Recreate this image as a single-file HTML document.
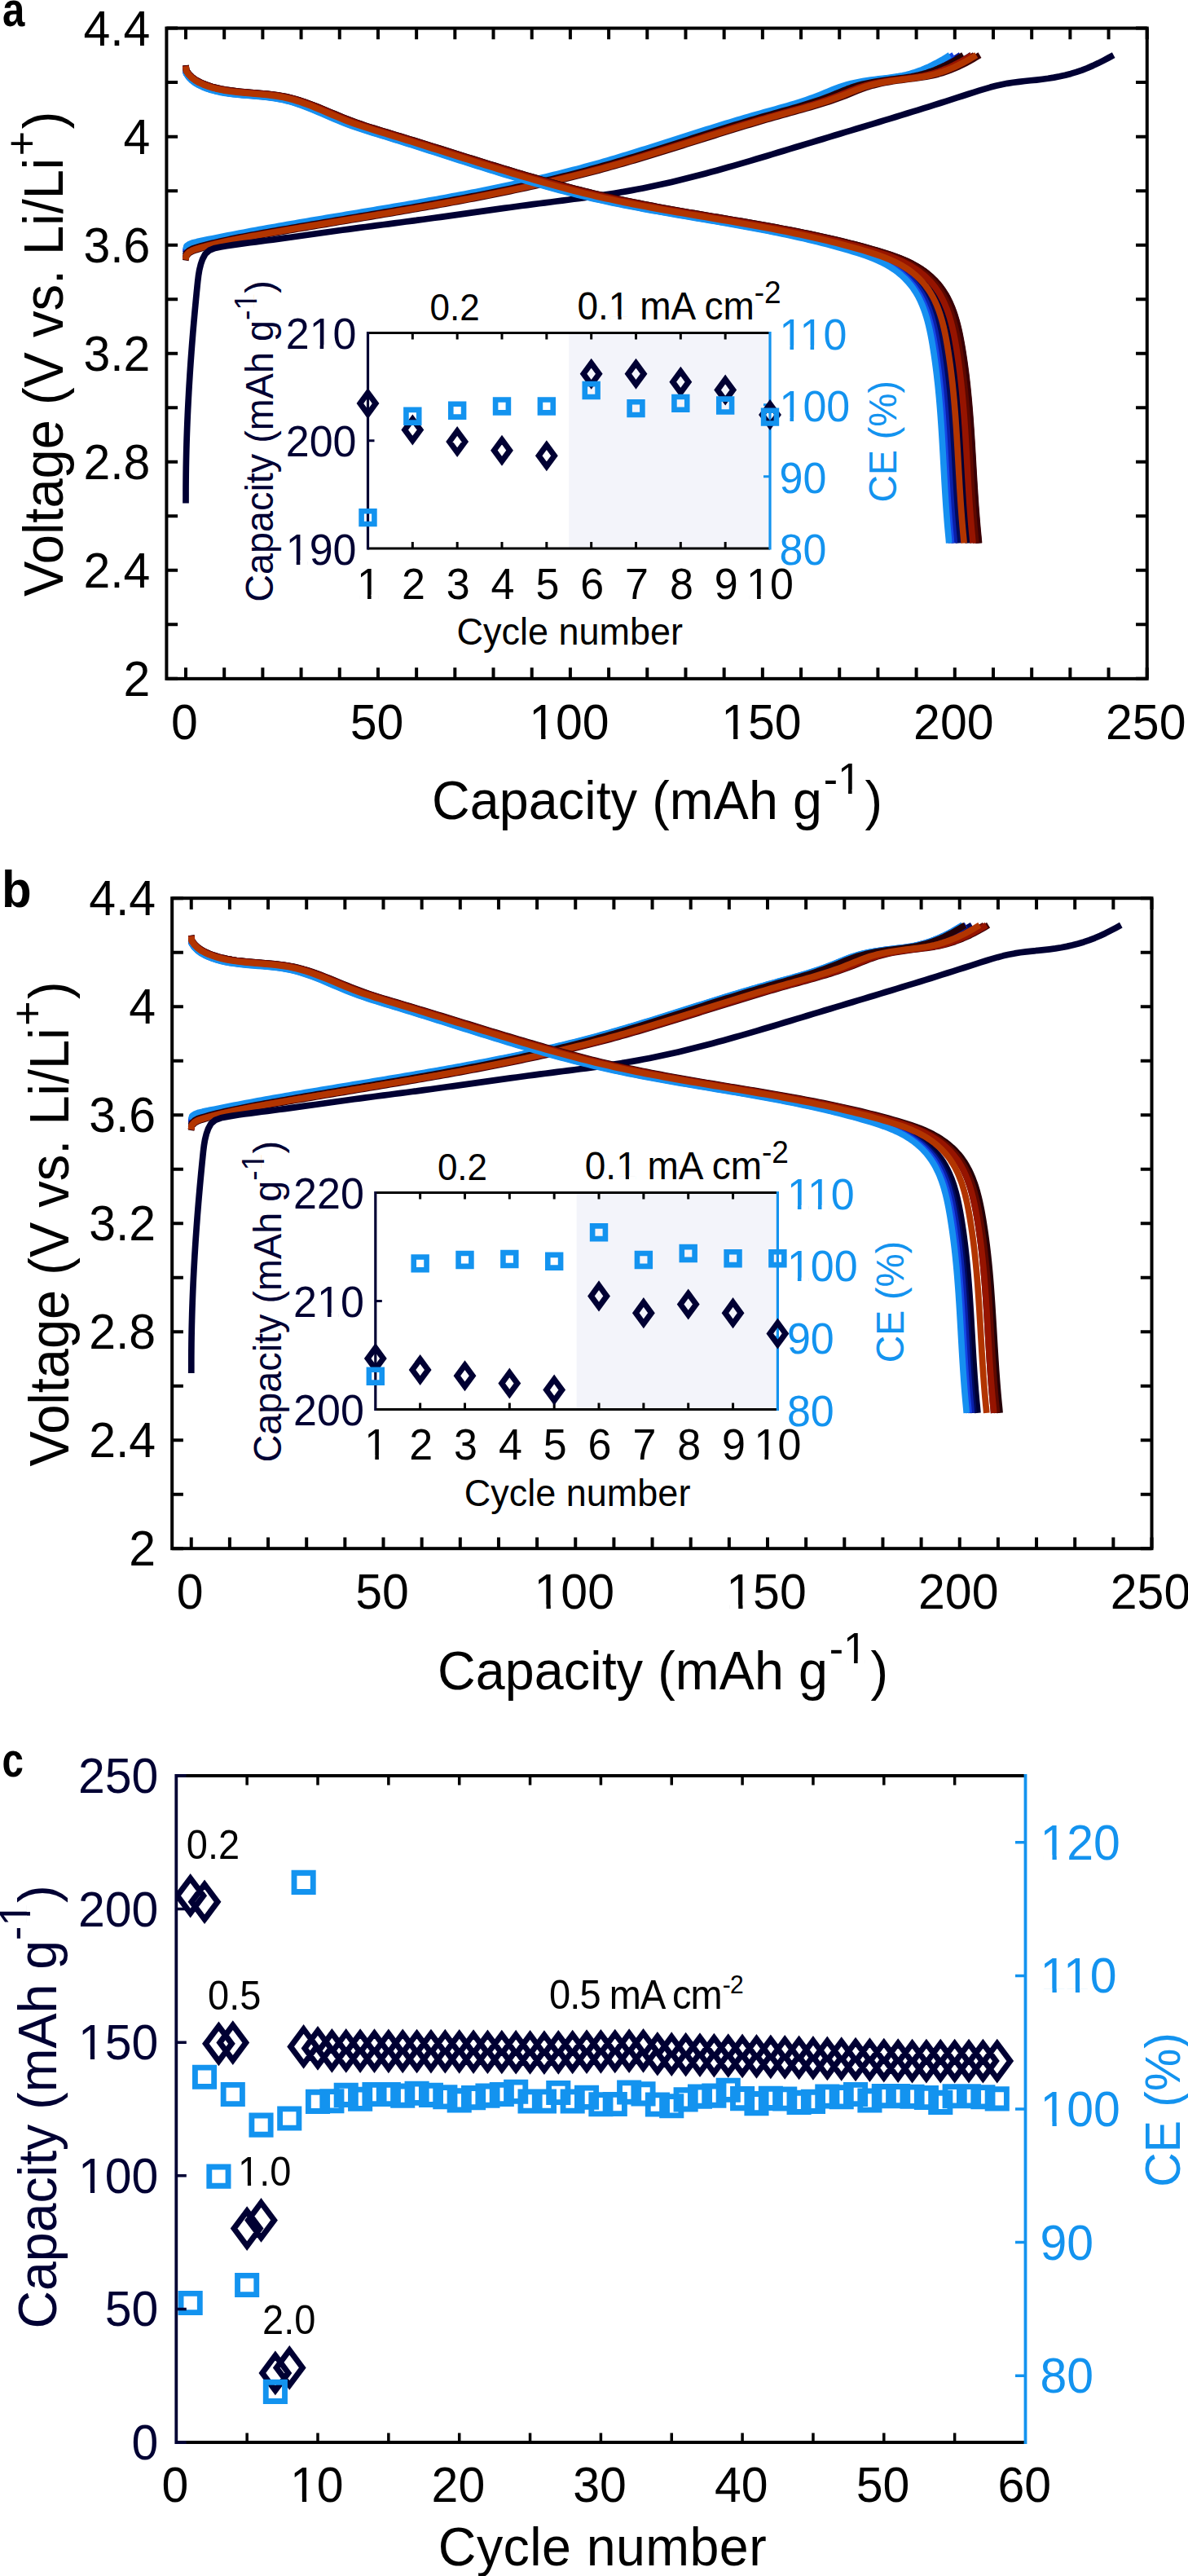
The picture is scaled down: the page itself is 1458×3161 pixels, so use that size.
<!DOCTYPE html>
<html><head><meta charset="utf-8"><style>
html,body{margin:0;padding:0;background:#fff;}
svg{display:block;}
text{font-family:"Liberation Sans", sans-serif;}
</style></head><body>
<svg width="1458" height="3161" viewBox="0 0 1458 3161" font-family='"Liberation Sans", sans-serif'>
<rect width="1458" height="3161" fill="#fff"/>
<text transform="translate(3,32) scale(0.82,1)" font-size="60" font-weight="bold">a</text>
<path d="M227.79 312.53 L229.02 307.35 L232.6 304.57 L236.9 302.72 L241.62 301.39 L246.45 300.22 L251.29 299.07 L256.15 297.95 L261.03 296.85 L265.92 295.79 L270.82 294.74 L275.73 293.72 L280.65 292.72 L285.58 291.74 L290.52 290.77 L295.47 289.82 L300.43 288.89 L305.38 287.96 L310.35 287.05 L315.31 286.15 L320.28 285.26 L325.25 284.37 L330.22 283.49 L335.2 282.62 L340.17 281.75 L345.14 280.88 L350.11 280.02 L355.09 279.17 L360.06 278.31 L365.04 277.46 L370.01 276.62 L374.99 275.78 L379.96 274.94 L384.94 274.1 L389.91 273.27 L394.89 272.44 L399.86 271.61 L404.84 270.78 L409.81 269.96 L414.79 269.13 L419.77 268.31 L424.74 267.48 L429.71 266.66 L434.69 265.84 L439.66 265.02 L444.64 264.19 L449.61 263.37 L454.58 262.54 L459.55 261.72 L464.52 260.89 L469.5 260.06 L474.46 259.23 L479.43 258.4 L484.4 257.56 L489.37 256.72 L494.34 255.88 L499.3 255.04 L504.26 254.19 L509.23 253.34 L514.19 252.48 L519.15 251.62 L524.11 250.76 L529.07 249.89 L534.02 249.01 L538.98 248.13 L543.93 247.25 L548.89 246.36 L553.84 245.46 L558.79 244.55 L563.73 243.64 L568.68 242.73 L573.62 241.8 L578.57 240.87 L583.51 239.93 L588.45 238.98 L593.38 238.03 L598.32 237.06 L603.25 236.09 L608.18 235.11 L613.11 234.12 L618.04 233.11 L622.96 232.1 L627.88 231.08 L632.8 230.05 L637.72 229.01 L642.63 227.96 L647.54 226.89 L652.45 225.82 L657.36 224.73 L662.26 223.63 L667.17 222.52 L672.06 221.4 L676.96 220.27 L681.85 219.12 L686.74 217.96 L691.63 216.78 L696.51 215.59 L701.39 214.39 L706.27 213.17 L711.15 211.94 L716.02 210.7 L720.89 209.43 L725.75 208.16 L730.61 206.87 L735.47 205.56 L740.33 204.24 L745.18 202.9 L750.03 201.54 L754.87 200.17 L759.71 198.79 L764.55 197.39 L769.39 195.98 L774.22 194.55 L779.05 193.12 L783.88 191.67 L788.7 190.22 L793.53 188.76 L798.35 187.29 L803.17 185.81 L807.99 184.32 L812.81 182.83 L817.63 181.33 L822.44 179.83 L827.26 178.32 L832.07 176.81 L836.88 175.3 L841.7 173.79 L846.51 172.27 L851.32 170.76 L856.13 169.24 L860.95 167.73 L865.76 166.22 L870.57 164.71 L875.39 163.21 L880.2 161.7 L885.02 160.21 L889.83 158.72 L894.65 157.24 L899.47 155.76 L904.29 154.29 L909.11 152.83 L913.94 151.38 L918.77 149.94 L923.59 148.51 L928.43 147.09 L933.26 145.69 L938.1 144.29 L942.93 142.91 L947.78 141.55 L952.62 140.2 L957.47 138.86 L962.32 137.54 L967.17 136.21 L972.01 134.88 L976.86 133.54 L981.69 132.18 L986.53 130.81 L991.35 129.41 L996.17 127.97 L1000.97 126.5 L1005.76 124.98 L1010.54 123.41 L1015.31 121.79 L1020.05 120.11 L1024.78 118.35 L1029.49 116.53 L1034.19 114.64 L1038.87 112.72 L1043.56 110.82 L1048.26 108.99 L1053 107.27 L1057.78 105.71 L1062.59 104.32 L1067.45 103.08 L1072.35 101.97 L1077.27 100.99 L1082.22 100.11 L1087.2 99.31 L1092.19 98.59 L1097.2 97.92 L1102.21 97.29 L1107.23 96.68 L1112.25 96.08 L1117.27 95.45 L1122.27 94.75 L1127.24 93.96 L1132.19 93.03 L1137.09 91.95 L1141.95 90.69 L1146.77 89.27 L1151.54 87.69 L1156.26 85.96 L1160.93 84.08 L1165.55 82.07 L1170.11 79.93 L1174.62 77.67 L1179.07 75.29 L1183.46 72.8 L1187.8 70.22 L1192.09 67.6" fill="none" stroke="#000a5c" stroke-width="7.7" stroke-linejoin="round"/>
<path d="M227.8 309.85 L229.04 304.79 L232.62 302.15 L236.91 300.41 L241.58 299.16 L246.36 298.04 L251.15 296.94 L255.95 295.87 L260.77 294.82 L265.59 293.79 L270.43 292.77 L275.28 291.78 L280.14 290.8 L285.01 289.84 L289.88 288.89 L294.76 287.96 L299.65 287.04 L304.54 286.13 L309.44 285.22 L314.33 284.33 L319.23 283.45 L324.14 282.57 L329.04 281.7 L333.94 280.83 L338.85 279.97 L343.75 279.11 L348.66 278.26 L353.56 277.41 L358.47 276.57 L363.37 275.73 L368.28 274.89 L373.19 274.06 L378.1 273.23 L383 272.4 L387.91 271.58 L392.82 270.75 L397.73 269.93 L402.63 269.11 L407.54 268.3 L412.45 267.48 L417.36 266.67 L422.26 265.85 L427.17 265.04 L432.08 264.23 L436.98 263.41 L441.89 262.6 L446.8 261.79 L451.7 260.97 L456.6 260.15 L461.51 259.34 L466.41 258.52 L471.31 257.7 L476.21 256.87 L481.12 256.05 L486.02 255.22 L490.91 254.39 L495.81 253.55 L500.71 252.72 L505.6 251.87 L510.5 251.03 L515.39 250.18 L520.28 249.32 L525.18 248.46 L530.06 247.6 L534.95 246.73 L539.84 245.85 L544.72 244.97 L549.61 244.09 L554.49 243.19 L559.37 242.29 L564.25 241.38 L569.13 240.47 L574 239.55 L578.87 238.62 L583.75 237.68 L588.61 236.74 L593.48 235.78 L598.35 234.82 L603.21 233.85 L608.07 232.87 L612.93 231.88 L617.79 230.88 L622.64 229.87 L627.49 228.84 L632.34 227.81 L637.19 226.77 L642.03 225.72 L646.87 224.65 L651.71 223.58 L656.55 222.49 L661.38 221.39 L666.22 220.28 L671.04 219.15 L675.87 218.01 L680.69 216.86 L685.51 215.7 L690.33 214.52 L695.14 213.33 L699.95 212.12 L704.76 210.9 L709.56 209.66 L714.36 208.41 L719.16 207.14 L723.95 205.86 L728.74 204.56 L733.53 203.25 L738.31 201.92 L743.09 200.57 L747.87 199.21 L752.64 197.84 L757.41 196.45 L762.18 195.05 L766.94 193.63 L771.71 192.21 L776.47 190.78 L781.22 189.33 L785.98 187.88 L790.73 186.41 L795.49 184.94 L800.24 183.47 L804.99 181.99 L809.74 180.5 L814.48 179 L819.23 177.51 L823.97 176.01 L828.72 174.51 L833.46 173 L838.21 171.5 L842.95 169.99 L847.7 168.49 L852.44 166.99 L857.19 165.49 L861.93 163.99 L866.68 162.49 L871.42 161 L876.17 159.52 L880.92 158.04 L885.67 156.57 L890.42 155.1 L895.17 153.64 L899.93 152.19 L904.69 150.75 L909.44 149.32 L914.2 147.9 L918.97 146.5 L923.73 145.1 L928.5 143.72 L933.27 142.35 L938.05 141 L942.83 139.66 L947.61 138.34 L952.39 137.02 L957.17 135.7 L961.95 134.39 L966.72 133.06 L971.49 131.71 L976.26 130.35 L981.01 128.96 L985.76 127.53 L990.5 126.07 L995.22 124.56 L999.93 123 L1004.63 121.39 L1009.31 119.71 L1013.97 117.97 L1018.61 116.16 L1023.23 114.28 L1027.84 112.37 L1032.46 110.48 L1037.1 108.66 L1041.77 106.95 L1046.48 105.41 L1051.23 104.03 L1056.02 102.8 L1060.85 101.71 L1065.7 100.74 L1070.59 99.87 L1075.5 99.08 L1080.42 98.37 L1085.36 97.71 L1090.31 97.1 L1095.26 96.5 L1100.22 95.9 L1105.16 95.28 L1110.09 94.59 L1115 93.81 L1119.88 92.89 L1124.72 91.81 L1129.51 90.56 L1134.26 89.15 L1138.96 87.58 L1143.61 85.86 L1148.21 83.99 L1152.76 81.99 L1157.25 79.86 L1161.69 77.61 L1166.07 75.24 L1170.39 72.77 L1174.65 70.2 L1178.88 67.6" fill="none" stroke="#0a1fa8" stroke-width="7.7" stroke-linejoin="round"/>
<path d="M227.8 308.18 L229.07 303.21 L232.69 300.71 L236.98 299.07 L241.63 297.89 L246.38 296.83 L251.14 295.79 L255.91 294.76 L260.69 293.74 L265.48 292.74 L270.28 291.76 L275.09 290.79 L279.91 289.83 L284.74 288.88 L289.57 287.95 L294.41 287.02 L299.25 286.11 L304.1 285.2 L308.95 284.31 L313.8 283.42 L318.66 282.54 L323.51 281.66 L328.37 280.79 L333.23 279.93 L338.09 279.07 L342.95 278.21 L347.81 277.36 L352.67 276.52 L357.53 275.68 L362.39 274.84 L367.26 274.01 L372.12 273.18 L376.98 272.35 L381.85 271.53 L386.71 270.71 L391.57 269.89 L396.44 269.07 L401.3 268.26 L406.16 267.45 L411.03 266.63 L415.89 265.82 L420.75 265.01 L425.62 264.2 L430.48 263.4 L435.34 262.59 L440.2 261.78 L445.07 260.97 L449.93 260.16 L454.79 259.35 L459.65 258.53 L464.51 257.72 L469.36 256.9 L474.22 256.08 L479.08 255.26 L483.93 254.44 L488.79 253.61 L493.64 252.78 L498.5 251.95 L503.35 251.12 L508.2 250.27 L513.05 249.43 L517.9 248.58 L522.75 247.73 L527.59 246.87 L532.44 246 L537.28 245.13 L542.12 244.26 L546.96 243.38 L551.8 242.49 L556.63 241.59 L561.47 240.69 L566.3 239.78 L571.13 238.87 L575.96 237.94 L580.79 237.01 L585.62 236.07 L590.44 235.12 L595.26 234.16 L600.08 233.2 L604.9 232.22 L609.71 231.24 L614.53 230.24 L619.34 229.24 L624.15 228.22 L628.95 227.2 L633.75 226.16 L638.55 225.11 L643.35 224.05 L648.15 222.98 L652.94 221.9 L657.73 220.8 L662.52 219.7 L667.3 218.58 L672.08 217.44 L676.86 216.3 L681.64 215.14 L686.41 213.96 L691.18 212.78 L695.94 211.57 L700.71 210.36 L705.47 209.13 L710.22 207.88 L714.97 206.62 L719.72 205.34 L724.47 204.05 L729.21 202.74 L733.95 201.41 L738.69 200.07 L743.42 198.72 L748.15 197.34 L752.87 195.96 L757.6 194.56 L762.32 193.16 L767.03 191.74 L771.75 190.31 L776.46 188.86 L781.17 187.42 L785.88 185.96 L790.59 184.49 L795.3 183.02 L800 181.54 L804.71 180.06 L809.41 178.57 L814.11 177.08 L818.81 175.59 L823.51 174.09 L828.21 172.59 L832.91 171.09 L837.61 169.59 L842.31 168.09 L847.01 166.59 L851.71 165.1 L856.41 163.6 L861.11 162.12 L865.82 160.63 L870.52 159.15 L875.22 157.68 L879.93 156.21 L884.64 154.75 L889.34 153.3 L894.06 151.85 L898.77 150.42 L903.48 148.99 L908.2 147.58 L912.92 146.18 L917.64 144.79 L922.36 143.42 L927.09 142.06 L931.82 140.71 L936.55 139.38 L941.29 138.06 L946.03 136.75 L950.77 135.44 L955.5 134.13 L960.23 132.8 L964.96 131.46 L969.68 130.11 L974.39 128.72 L979.09 127.3 L983.79 125.84 L988.47 124.34 L993.13 122.79 L997.78 121.18 L1002.42 119.51 L1007.03 117.77 L1011.63 115.96 L1016.2 114.08 L1020.77 112.18 L1025.35 110.3 L1029.94 108.48 L1034.56 106.78 L1039.23 105.25 L1043.94 103.87 L1048.68 102.65 L1053.47 101.57 L1058.28 100.6 L1063.12 99.74 L1067.99 98.97 L1072.87 98.26 L1077.76 97.61 L1082.67 97 L1087.58 96.4 L1092.49 95.81 L1097.39 95.19 L1102.28 94.51 L1107.14 93.73 L1111.98 92.82 L1116.77 91.74 L1121.52 90.5 L1126.22 89.09 L1130.87 87.52 L1135.48 85.8 L1140.03 83.94 L1144.54 81.94 L1148.99 79.82 L1153.38 77.57 L1157.71 75.22 L1161.99 72.75 L1166.2 70.19 L1170.38 67.6" fill="none" stroke="#1547e6" stroke-width="7.7" stroke-linejoin="round"/>
<path d="M227.8 306.5 L229.12 301.63 L232.79 299.27 L237.1 297.73 L241.75 296.63 L246.49 295.62 L251.24 294.63 L255.99 293.64 L260.76 292.67 L265.53 291.7 L270.31 290.75 L275.1 289.8 L279.9 288.86 L284.7 287.93 L289.51 287.01 L294.33 286.09 L299.15 285.18 L303.97 284.28 L308.79 283.39 L313.62 282.51 L318.45 281.63 L323.28 280.75 L328.11 279.88 L332.94 279.02 L337.78 278.17 L342.61 277.31 L347.45 276.47 L352.28 275.63 L357.12 274.79 L361.95 273.96 L366.79 273.13 L371.63 272.3 L376.46 271.48 L381.3 270.66 L386.14 269.84 L390.98 269.03 L395.82 268.21 L400.65 267.4 L405.49 266.59 L410.33 265.79 L415.17 264.98 L420.01 264.18 L424.84 263.37 L429.68 262.57 L434.52 261.76 L439.35 260.96 L444.19 260.15 L449.03 259.35 L453.86 258.54 L458.7 257.73 L463.53 256.92 L468.36 256.11 L473.2 255.3 L478.03 254.48 L482.86 253.66 L487.69 252.84 L492.52 252.02 L497.35 251.19 L502.17 250.36 L507 249.52 L511.82 248.69 L516.65 247.84 L521.47 246.99 L526.29 246.14 L531.11 245.28 L535.93 244.42 L540.74 243.55 L545.56 242.67 L550.37 241.79 L555.18 240.9 L559.99 240 L564.8 239.1 L569.61 238.19 L574.41 237.27 L579.22 236.34 L584.02 235.41 L588.82 234.47 L593.61 233.51 L598.41 232.55 L603.2 231.58 L607.99 230.6 L612.78 229.62 L617.56 228.62 L622.35 227.61 L627.13 226.59 L631.91 225.55 L636.68 224.51 L641.45 223.46 L646.23 222.39 L650.99 221.32 L655.76 220.23 L660.52 219.13 L665.28 218.01 L670.04 216.88 L674.79 215.74 L679.54 214.59 L684.29 213.42 L689.03 212.24 L693.77 211.04 L698.51 209.83 L703.24 208.6 L707.97 207.36 L712.7 206.1 L717.43 204.83 L722.15 203.54 L726.86 202.24 L731.58 200.92 L736.29 199.58 L740.99 198.23 L745.7 196.86 L750.4 195.48 L755.1 194.09 L759.79 192.69 L764.48 191.27 L769.17 189.85 L773.86 188.41 L778.55 186.97 L783.23 185.51 L787.91 184.05 L792.59 182.59 L797.27 181.11 L801.95 179.63 L806.63 178.15 L811.31 176.66 L815.98 175.17 L820.66 173.68 L825.33 172.19 L830.01 170.69 L834.68 169.2 L839.35 167.7 L844.03 166.21 L848.7 164.72 L853.38 163.23 L858.05 161.75 L862.73 160.27 L867.41 158.79 L872.09 157.32 L876.77 155.86 L881.45 154.41 L886.13 152.96 L890.82 151.52 L895.51 150.09 L900.2 148.67 L904.89 147.27 L909.58 145.87 L914.28 144.49 L918.98 143.12 L923.68 141.76 L928.39 140.42 L933.1 139.1 L937.81 137.79 L942.52 136.48 L947.23 135.18 L951.94 133.87 L956.65 132.56 L961.35 131.22 L966.05 129.87 L970.73 128.49 L975.41 127.08 L980.08 125.62 L984.73 124.13 L989.37 122.58 L994 120.98 L998.61 119.31 L1003.2 117.58 L1007.77 115.77 L1012.32 113.9 L1016.86 112 L1021.41 110.12 L1025.98 108.31 L1030.58 106.62 L1035.22 105.09 L1039.9 103.72 L1044.62 102.51 L1049.38 101.43 L1054.17 100.48 L1058.99 99.62 L1063.83 98.85 L1068.68 98.15 L1073.55 97.5 L1078.43 96.9 L1083.32 96.31 L1088.21 95.73 L1093.08 95.11 L1097.95 94.43 L1102.78 93.65 L1107.59 92.75 L1112.36 91.68 L1117.08 90.43 L1121.76 89.03 L1126.38 87.46 L1130.96 85.75 L1135.49 83.89 L1139.97 81.9 L1144.39 79.79 L1148.76 77.55 L1153.07 75.2 L1157.32 72.74 L1161.51 70.18 L1165.67 67.6" fill="none" stroke="#1690f0" stroke-width="7.7" stroke-linejoin="round"/>
<path d="M227.8 315.9 L228.77 310.53 L232.04 307.39 L236.12 305.22 L240.68 303.65 L245.41 302.31 L250.16 301.02 L254.94 299.77 L259.73 298.57 L264.55 297.41 L269.38 296.29 L274.23 295.2 L279.09 294.14 L283.97 293.12 L288.86 292.12 L293.76 291.15 L298.66 290.19 L303.58 289.26 L308.5 288.34 L313.43 287.44 L318.35 286.54 L323.28 285.66 L328.22 284.77 L333.15 283.9 L338.08 283.03 L343.01 282.16 L347.95 281.3 L352.88 280.44 L357.81 279.58 L362.75 278.73 L367.68 277.88 L372.61 277.04 L377.55 276.2 L382.48 275.36 L387.42 274.52 L392.35 273.68 L397.28 272.85 L402.22 272.02 L407.15 271.19 L412.09 270.36 L417.02 269.53 L421.95 268.7 L426.88 267.87 L431.82 267.04 L436.75 266.21 L441.68 265.38 L446.61 264.55 L451.54 263.72 L456.47 262.89 L461.39 262.05 L466.32 261.21 L471.25 260.38 L476.17 259.54 L481.1 258.69 L486.02 257.85 L490.95 257 L495.87 256.14 L500.79 255.29 L505.71 254.43 L510.63 253.56 L515.54 252.69 L520.46 251.82 L525.37 250.94 L530.28 250.06 L535.2 249.17 L540.11 248.28 L545.01 247.38 L549.92 246.47 L554.83 245.56 L559.73 244.64 L564.63 243.71 L569.53 242.78 L574.43 241.83 L579.32 240.89 L584.22 239.93 L589.11 238.96 L594 237.99 L598.89 237.01 L603.77 236.02 L608.66 235.02 L613.54 234.01 L618.42 232.99 L623.3 231.96 L628.17 230.92 L633.04 229.87 L637.91 228.8 L642.78 227.73 L647.64 226.65 L652.5 225.55 L657.36 224.45 L662.22 223.33 L667.07 222.2 L671.92 221.05 L676.77 219.9 L681.62 218.73 L686.46 217.54 L691.3 216.35 L696.13 215.14 L700.97 213.91 L705.8 212.67 L710.62 211.42 L715.45 210.15 L720.27 208.87 L725.08 207.57 L729.9 206.26 L734.71 204.93 L739.51 203.58 L744.32 202.22 L749.12 200.84 L753.91 199.45 L758.71 198.05 L763.5 196.63 L768.29 195.2 L773.07 193.76 L777.86 192.31 L782.64 190.85 L787.42 189.38 L792.19 187.91 L796.97 186.42 L801.75 184.93 L806.52 183.43 L811.29 181.93 L816.06 180.42 L820.83 178.91 L825.6 177.39 L830.37 175.87 L835.14 174.35 L839.9 172.83 L844.67 171.31 L849.44 169.79 L854.2 168.27 L858.97 166.76 L863.74 165.24 L868.51 163.73 L873.28 162.22 L878.05 160.72 L882.82 159.22 L887.59 157.73 L892.37 156.25 L897.14 154.77 L901.92 153.3 L906.7 151.84 L911.48 150.39 L916.26 148.96 L921.05 147.53 L925.83 146.11 L930.62 144.71 L935.42 143.32 L940.21 141.95 L945.01 140.59 L949.81 139.24 L954.61 137.9 L959.42 136.57 L964.22 135.23 L969.01 133.88 L973.81 132.51 L978.59 131.13 L983.37 129.71 L988.14 128.27 L992.9 126.79 L997.64 125.26 L1002.38 123.69 L1007.1 122.06 L1011.8 120.37 L1016.48 118.62 L1021.14 116.79 L1025.79 114.9 L1030.43 112.97 L1035.07 111.07 L1039.73 109.23 L1044.42 107.5 L1049.15 105.93 L1053.92 104.53 L1058.73 103.28 L1063.58 102.17 L1068.46 101.17 L1073.37 100.28 L1078.3 99.47 L1083.25 98.74 L1088.21 98.06 L1093.18 97.42 L1098.16 96.8 L1103.14 96.19 L1108.11 95.54 L1113.07 94.84 L1118 94.04 L1122.9 93.11 L1127.76 92.02 L1132.58 90.75 L1137.35 89.32 L1142.07 87.74 L1146.74 86 L1151.37 84.12 L1155.94 82.1 L1160.45 79.95 L1164.91 77.68 L1169.31 75.3 L1173.65 72.81 L1177.94 70.22 L1182.18 67.6" fill="none" stroke="#240008" stroke-width="7.7" stroke-linejoin="round"/>
<path d="M227.79 319.58 L228.75 314.06 L232 310.71 L236.09 308.38 L240.71 306.7 L245.52 305.27 L250.36 303.9 L255.22 302.59 L260.11 301.33 L265.02 300.12 L269.94 298.95 L274.89 297.82 L279.85 296.73 L284.83 295.68 L289.81 294.65 L294.81 293.66 L299.82 292.68 L304.84 291.73 L309.87 290.8 L314.9 289.88 L319.93 288.98 L324.96 288.08 L330 287.19 L335.04 286.3 L340.07 285.42 L345.11 284.54 L350.15 283.66 L355.18 282.79 L360.22 281.93 L365.26 281.06 L370.3 280.2 L375.34 279.35 L380.38 278.49 L385.41 277.64 L390.45 276.79 L395.49 275.94 L400.53 275.1 L405.57 274.25 L410.6 273.41 L415.64 272.57 L420.68 271.72 L425.71 270.88 L430.75 270.04 L435.79 269.2 L440.82 268.36 L445.86 267.52 L450.89 266.67 L455.92 265.83 L460.96 264.98 L465.99 264.13 L471.02 263.29 L476.05 262.43 L481.08 261.58 L486.11 260.72 L491.13 259.86 L496.16 259 L501.19 258.14 L506.21 257.27 L511.23 256.39 L516.26 255.51 L521.28 254.63 L526.3 253.75 L531.31 252.85 L536.33 251.96 L541.34 251.05 L546.36 250.15 L551.37 249.23 L556.38 248.31 L561.39 247.39 L566.4 246.45 L571.4 245.51 L576.4 244.57 L581.41 243.61 L586.41 242.65 L591.4 241.68 L596.4 240.7 L601.39 239.71 L606.38 238.72 L611.37 237.71 L616.36 236.7 L621.35 235.67 L626.33 234.64 L631.31 233.6 L636.29 232.54 L641.26 231.48 L646.24 230.4 L651.21 229.32 L656.18 228.22 L661.14 227.11 L666.11 225.99 L671.07 224.86 L676.02 223.72 L680.98 222.56 L685.93 221.39 L690.88 220.21 L695.83 219.01 L700.77 217.8 L705.71 216.58 L710.65 215.34 L715.58 214.09 L720.51 212.82 L725.44 211.54 L730.37 210.24 L735.29 208.93 L740.21 207.6 L745.12 206.26 L750.03 204.9 L754.94 203.53 L759.84 202.14 L764.75 200.74 L769.64 199.32 L774.54 197.89 L779.43 196.45 L784.33 194.99 L789.21 193.53 L794.1 192.06 L798.99 190.58 L803.87 189.09 L808.75 187.59 L813.63 186.08 L818.51 184.57 L823.38 183.05 L828.26 181.53 L833.13 180.01 L838.01 178.48 L842.88 176.95 L847.75 175.41 L852.63 173.88 L857.5 172.34 L862.37 170.81 L867.24 169.28 L872.12 167.75 L876.99 166.22 L881.86 164.69 L886.74 163.17 L891.61 161.65 L896.49 160.14 L901.37 158.64 L906.25 157.14 L911.13 155.65 L916.01 154.16 L920.89 152.69 L925.78 151.23 L930.66 149.77 L935.55 148.33 L940.45 146.9 L945.34 145.49 L950.24 144.08 L955.14 142.69 L960.04 141.32 L964.95 139.96 L969.85 138.6 L974.76 137.25 L979.66 135.89 L984.56 134.53 L989.46 133.15 L994.35 131.75 L999.23 130.33 L1004.11 128.87 L1008.97 127.37 L1013.82 125.84 L1018.66 124.25 L1023.49 122.61 L1028.29 120.91 L1033.08 119.14 L1037.85 117.3 L1042.61 115.39 L1047.35 113.45 L1052.1 111.53 L1056.86 109.67 L1061.66 107.93 L1066.49 106.34 L1071.37 104.92 L1076.29 103.65 L1081.24 102.52 L1086.22 101.51 L1091.23 100.6 L1096.26 99.78 L1101.31 99.03 L1106.38 98.33 L1111.45 97.68 L1116.53 97.05 L1121.62 96.42 L1126.69 95.77 L1131.75 95.05 L1136.79 94.24 L1141.79 93.3 L1146.76 92.2 L1151.68 90.93 L1156.56 89.49 L1161.39 87.89 L1166.17 86.14 L1170.9 84.25 L1175.58 82.21 L1180.2 80.05 L1184.77 77.77 L1189.28 75.36 L1193.73 72.85 L1198.12 70.24 L1202.47 67.6" fill="none" stroke="#3a0006" stroke-width="7.7" stroke-linejoin="round"/>
<path d="M227.79 318.25 L228.72 312.75 L231.93 309.41 L235.99 307.09 L240.57 305.4 L245.35 303.98 L250.15 302.62 L254.98 301.31 L259.84 300.06 L264.71 298.85 L269.6 297.69 L274.51 296.57 L279.44 295.48 L284.38 294.43 L289.34 293.41 L294.31 292.43 L299.28 291.46 L304.27 290.52 L309.26 289.59 L314.26 288.68 L319.26 287.78 L324.26 286.89 L329.26 286 L334.26 285.12 L339.27 284.25 L344.27 283.38 L349.28 282.51 L354.28 281.64 L359.29 280.78 L364.29 279.93 L369.3 279.07 L374.3 278.22 L379.31 277.38 L384.31 276.53 L389.32 275.69 L394.32 274.85 L399.33 274.01 L404.33 273.17 L409.34 272.33 L414.34 271.5 L419.35 270.66 L424.35 269.83 L429.35 268.99 L434.36 268.16 L439.36 267.32 L444.36 266.49 L449.36 265.65 L454.36 264.81 L459.36 263.97 L464.36 263.13 L469.36 262.29 L474.36 261.44 L479.35 260.6 L484.35 259.75 L489.34 258.89 L494.34 258.04 L499.33 257.18 L504.32 256.32 L509.31 255.45 L514.3 254.58 L519.28 253.7 L524.27 252.82 L529.26 251.94 L534.24 251.05 L539.22 250.15 L544.2 249.25 L549.18 248.34 L554.16 247.43 L559.13 246.51 L564.11 245.58 L569.08 244.65 L574.05 243.71 L579.02 242.76 L583.98 241.81 L588.95 240.84 L593.91 239.87 L598.87 238.89 L603.83 237.9 L608.79 236.9 L613.74 235.89 L618.69 234.88 L623.64 233.85 L628.59 232.81 L633.54 231.77 L638.48 230.71 L643.42 229.64 L648.36 228.56 L653.29 227.47 L658.23 226.37 L663.16 225.26 L668.08 224.13 L673.01 222.99 L677.93 221.84 L682.85 220.68 L687.76 219.5 L692.68 218.31 L697.59 217.11 L702.5 215.89 L707.4 214.66 L712.3 213.42 L717.2 212.16 L722.09 210.88 L726.99 209.59 L731.87 208.29 L736.76 206.97 L741.64 205.63 L746.52 204.28 L751.39 202.91 L756.26 201.53 L761.13 200.13 L766 198.72 L770.86 197.3 L775.72 195.86 L780.58 194.42 L785.44 192.96 L790.29 191.49 L795.14 190.02 L799.99 188.53 L804.84 187.04 L809.68 185.54 L814.53 184.04 L819.37 182.53 L824.22 181.01 L829.06 179.5 L833.9 177.97 L838.74 176.45 L843.58 174.92 L848.42 173.39 L853.26 171.87 L858.1 170.34 L862.94 168.81 L867.77 167.29 L872.61 165.77 L877.46 164.25 L882.3 162.73 L887.14 161.22 L891.98 159.72 L896.83 158.22 L901.67 156.73 L906.52 155.24 L911.37 153.77 L916.22 152.3 L921.07 150.84 L925.92 149.4 L930.78 147.96 L935.64 146.54 L940.5 145.13 L945.36 143.73 L950.23 142.35 L955.1 140.98 L959.97 139.62 L964.85 138.28 L969.72 136.93 L974.59 135.58 L979.46 134.23 L984.32 132.85 L989.18 131.46 L994.03 130.04 L998.87 128.59 L1003.7 127.1 L1008.52 125.57 L1013.32 123.99 L1018.12 122.36 L1022.89 120.66 L1027.65 118.9 L1032.38 117.07 L1037.1 115.16 L1041.81 113.23 L1046.53 111.32 L1051.26 109.47 L1056.02 107.73 L1060.82 106.15 L1065.66 104.74 L1070.55 103.48 L1075.47 102.35 L1080.42 101.35 L1085.39 100.44 L1090.39 99.63 L1095.41 98.89 L1100.44 98.2 L1105.48 97.55 L1110.53 96.93 L1115.58 96.31 L1120.62 95.66 L1125.65 94.95 L1130.65 94.15 L1135.63 93.21 L1140.56 92.12 L1145.45 90.85 L1150.29 89.42 L1155.09 87.82 L1159.83 86.08 L1164.53 84.19 L1169.17 82.17 L1173.76 80.01 L1178.3 77.73 L1182.77 75.34 L1187.19 72.84 L1191.55 70.23 L1195.87 67.6" fill="none" stroke="#5c0800" stroke-width="7.7" stroke-linejoin="round"/>
<path d="M227.79 318.25 L228.71 312.76 L231.9 309.42 L235.95 307.1 L240.5 305.41 L245.26 303.99 L250.05 302.63 L254.86 301.32 L259.7 300.06 L264.55 298.86 L269.43 297.69 L274.33 296.57 L279.24 295.49 L284.16 294.44 L289.1 293.42 L294.05 292.43 L299.01 291.46 L303.98 290.52 L308.96 289.59 L313.94 288.68 L318.92 287.78 L323.91 286.89 L328.89 286.01 L333.88 285.13 L338.87 284.25 L343.86 283.38 L348.84 282.51 L353.83 281.65 L358.82 280.79 L363.81 279.93 L368.8 279.08 L373.79 278.23 L378.78 277.38 L383.77 276.53 L388.76 275.69 L393.74 274.85 L398.73 274.01 L403.72 273.17 L408.71 272.34 L413.7 271.5 L418.69 270.66 L423.67 269.83 L428.66 268.99 L433.65 268.16 L438.63 267.32 L443.62 266.49 L448.6 265.65 L453.59 264.81 L458.57 263.97 L463.55 263.13 L468.53 262.29 L473.52 261.45 L478.5 260.6 L483.48 259.75 L488.45 258.89 L493.43 258.04 L498.41 257.18 L503.38 256.32 L508.35 255.45 L513.33 254.58 L518.3 253.7 L523.27 252.82 L528.24 251.94 L533.2 251.05 L538.17 250.15 L543.13 249.25 L548.1 248.34 L553.06 247.43 L558.02 246.51 L562.97 245.58 L567.93 244.65 L572.88 243.71 L577.84 242.76 L582.79 241.8 L587.73 240.84 L592.68 239.87 L597.62 238.88 L602.57 237.9 L607.51 236.9 L612.44 235.89 L617.38 234.87 L622.31 233.85 L627.24 232.81 L632.17 231.76 L637.1 230.7 L642.02 229.64 L646.95 228.56 L651.86 227.47 L656.78 226.36 L661.69 225.25 L666.6 224.12 L671.51 222.99 L676.42 221.84 L681.32 220.67 L686.22 219.5 L691.12 218.31 L696.01 217.1 L700.9 215.89 L705.79 214.65 L710.67 213.41 L715.55 212.15 L720.43 210.87 L725.31 209.59 L730.18 208.28 L735.05 206.96 L739.91 205.62 L744.77 204.27 L749.63 202.9 L754.49 201.52 L759.34 200.12 L764.19 198.71 L769.03 197.29 L773.88 195.85 L778.72 194.41 L783.56 192.95 L788.39 191.49 L793.23 190.01 L798.06 188.53 L802.89 187.03 L807.72 185.54 L812.55 184.03 L817.38 182.52 L822.2 181.01 L827.03 179.49 L831.85 177.97 L836.68 176.44 L841.5 174.91 L846.32 173.39 L851.15 171.86 L855.97 170.33 L860.79 168.81 L865.61 167.28 L870.44 165.76 L875.26 164.24 L880.08 162.73 L884.91 161.22 L889.74 159.71 L894.56 158.21 L899.39 156.72 L904.22 155.24 L909.05 153.76 L913.89 152.29 L918.72 150.84 L923.56 149.39 L928.4 147.96 L933.24 146.53 L938.09 145.12 L942.94 143.72 L947.79 142.34 L952.64 140.97 L957.49 139.62 L962.35 138.27 L967.21 136.93 L972.06 135.58 L976.91 134.22 L981.76 132.85 L986.6 131.46 L991.43 130.04 L996.26 128.59 L1001.07 127.1 L1005.87 125.57 L1010.66 123.98 L1015.43 122.35 L1020.19 120.65 L1024.93 118.89 L1029.65 117.06 L1034.35 115.16 L1039.05 113.23 L1043.74 111.31 L1048.46 109.47 L1053.2 107.73 L1057.99 106.15 L1062.81 104.74 L1067.68 103.48 L1072.58 102.35 L1077.52 101.35 L1082.48 100.44 L1087.46 99.63 L1092.46 98.89 L1097.48 98.2 L1102.5 97.55 L1107.54 96.93 L1112.57 96.31 L1117.59 95.66 L1122.61 94.95 L1127.59 94.14 L1132.55 93.21 L1137.47 92.11 L1142.34 90.84 L1147.16 89.41 L1151.94 87.82 L1156.67 86.07 L1161.35 84.19 L1165.98 82.16 L1170.55 80.01 L1175.06 77.73 L1179.52 75.33 L1183.92 72.83 L1188.26 70.23 L1192.56 67.6" fill="none" stroke="#961400" stroke-width="7.7" stroke-linejoin="round"/>
<path d="M227.79 318.58 L228.73 313.07 L231.96 309.73 L236.03 307.41 L240.62 305.72 L245.41 304.3 L250.23 302.94 L255.07 301.63 L259.93 300.37 L264.82 299.16 L269.73 298 L274.65 296.88 L279.59 295.79 L284.54 294.74 L289.51 293.72 L294.49 292.73 L299.48 291.77 L304.47 290.82 L309.48 289.89 L314.48 288.98 L319.5 288.08 L324.51 287.19 L329.52 286.3 L334.54 285.42 L339.56 284.54 L344.57 283.67 L349.59 282.8 L354.6 281.93 L359.62 281.07 L364.64 280.21 L369.65 279.36 L374.67 278.5 L379.69 277.66 L384.71 276.81 L389.72 275.96 L394.74 275.12 L399.76 274.28 L404.77 273.44 L409.79 272.6 L414.81 271.76 L419.82 270.93 L424.84 270.09 L429.85 269.25 L434.87 268.42 L439.88 267.58 L444.89 266.74 L449.91 265.91 L454.92 265.07 L459.93 264.23 L464.94 263.38 L469.95 262.54 L474.96 261.69 L479.97 260.84 L484.97 259.99 L489.98 259.14 L494.99 258.28 L499.99 257.42 L504.99 256.55 L509.99 255.69 L514.99 254.81 L519.99 253.94 L524.99 253.05 L529.99 252.17 L534.98 251.28 L539.98 250.38 L544.97 249.48 L549.96 248.57 L554.95 247.65 L559.94 246.73 L564.92 245.8 L569.91 244.87 L574.89 243.92 L579.87 242.97 L584.85 242.02 L589.82 241.05 L594.8 240.08 L599.77 239.1 L604.74 238.1 L609.71 237.1 L614.67 236.1 L619.64 235.08 L624.6 234.05 L629.56 233.01 L634.52 231.96 L639.47 230.9 L644.42 229.83 L649.37 228.75 L654.32 227.66 L659.26 226.56 L664.21 225.44 L669.15 224.31 L674.08 223.17 L679.02 222.02 L683.95 220.86 L688.87 219.68 L693.8 218.49 L698.72 217.28 L703.64 216.06 L708.56 214.83 L713.47 213.59 L718.38 212.32 L723.29 211.05 L728.19 209.76 L733.09 208.45 L737.99 207.13 L742.88 205.79 L747.77 204.44 L752.66 203.07 L757.54 201.68 L762.42 200.28 L767.3 198.87 L772.17 197.45 L777.04 196.01 L781.91 194.56 L786.78 193.1 L791.65 191.64 L796.51 190.16 L801.37 188.67 L806.23 187.18 L811.09 185.68 L815.95 184.17 L820.8 182.66 L825.66 181.14 L830.51 179.62 L835.36 178.1 L840.22 176.57 L845.07 175.05 L849.92 173.52 L854.77 171.99 L859.62 170.46 L864.47 168.93 L869.32 167.4 L874.18 165.88 L879.03 164.36 L883.88 162.84 L888.74 161.33 L893.59 159.82 L898.45 158.32 L903.3 156.83 L908.16 155.35 L913.02 153.87 L917.89 152.4 L922.75 150.94 L927.62 149.49 L932.48 148.06 L937.35 146.63 L942.23 145.22 L947.1 143.82 L951.98 142.43 L956.86 141.06 L961.75 139.71 L966.63 138.36 L971.52 137.01 L976.4 135.66 L981.28 134.3 L986.16 132.93 L991.03 131.54 L995.89 130.11 L1000.74 128.66 L1005.58 127.17 L1010.41 125.64 L1015.23 124.06 L1020.03 122.42 L1024.82 120.72 L1029.59 118.96 L1034.34 117.12 L1039.07 115.22 L1043.79 113.29 L1048.52 111.37 L1053.26 109.52 L1058.03 107.78 L1062.85 106.2 L1067.7 104.79 L1072.6 103.52 L1077.53 102.39 L1082.49 101.39 L1087.48 100.48 L1092.49 99.67 L1097.52 98.92 L1102.56 98.23 L1107.62 97.59 L1112.68 96.96 L1117.74 96.34 L1122.79 95.69 L1127.83 94.98 L1132.84 94.17 L1137.83 93.24 L1142.77 92.14 L1147.67 90.87 L1152.53 89.44 L1157.34 87.84 L1162.1 86.1 L1166.8 84.21 L1171.46 82.18 L1176.06 80.02 L1180.61 77.74 L1185.1 75.35 L1189.52 72.84 L1193.89 70.24 L1198.23 67.6" fill="none" stroke="#b23500" stroke-width="7.7" stroke-linejoin="round"/>
<path d="M228 617.5 L228.03 610.34 L228.03 603.15 L228.06 595.97 L228.12 588.8 L228.2 581.62 L228.3 574.45 L228.43 567.29 L228.58 560.12 L228.75 552.96 L228.95 545.81 L229.16 538.65 L229.41 531.5 L229.67 524.35 L229.95 517.2 L230.26 510.05 L230.59 502.91 L230.94 495.76 L231.31 488.62 L231.7 481.47 L232.11 474.33 L232.54 467.19 L232.99 460.05 L233.45 452.9 L233.94 445.76 L234.45 438.62 L234.98 431.48 L235.52 424.33 L236.08 417.19 L236.66 410.04 L237.26 402.89 L237.88 395.74 L238.51 388.59 L239.16 381.43 L239.83 374.28 L240.51 367.12 L241.21 359.95 L241.92 352.79 L242.66 345.62 L243.52 338.49 L244.68 331.44 L246.33 324.54 L248.65 317.85 L251.93 311.59 L257.1 307.03 L263.84 304.45 L271.1 302.96 L278.36 301.74 L285.54 300.62 L292.66 299.59 L299.73 298.63 L306.77 297.71 L313.8 296.82 L320.82 295.92 L327.86 295.01 L334.91 294.08 L341.97 293.13 L349.04 292.17 L356.13 291.2 L363.22 290.22 L370.32 289.23 L377.42 288.23 L384.53 287.23 L391.65 286.24 L398.76 285.24 L405.88 284.25 L413 283.27 L420.11 282.29 L427.23 281.33 L434.34 280.38 L441.45 279.44 L448.55 278.51 L455.65 277.58 L462.75 276.66 L469.85 275.74 L476.95 274.82 L484.04 273.9 L491.14 272.98 L498.23 272.05 L505.32 271.12 L512.41 270.18 L519.51 269.24 L526.6 268.28 L533.69 267.31 L540.78 266.33 L547.87 265.35 L554.96 264.36 L562.05 263.37 L569.15 262.38 L576.24 261.38 L583.34 260.38 L590.43 259.38 L597.53 258.39 L604.63 257.4 L611.73 256.41 L618.83 255.43 L625.94 254.46 L633.04 253.5 L640.15 252.54 L647.26 251.6 L654.38 250.67 L661.5 249.76 L668.61 248.85 L675.73 247.95 L682.85 247.04 L689.97 246.14 L697.09 245.22 L704.2 244.3 L711.31 243.36 L718.42 242.4 L725.52 241.42 L732.62 240.41 L739.71 239.38 L746.8 238.31 L753.87 237.2 L760.94 236.05 L768 234.85 L775.04 233.61 L782.08 232.31 L789.11 230.95 L796.12 229.54 L803.12 228.08 L810.12 226.57 L817.1 225.01 L824.07 223.41 L831.03 221.76 L837.99 220.08 L844.94 218.35 L851.87 216.58 L858.8 214.78 L865.73 212.95 L872.64 211.09 L879.55 209.19 L886.46 207.27 L893.36 205.33 L900.25 203.36 L907.14 201.37 L914.02 199.36 L920.9 197.34 L927.78 195.3 L934.65 193.25 L941.52 191.19 L948.38 189.12 L955.25 187.05 L962.11 184.97 L968.97 182.88 L975.83 180.8 L982.69 178.72 L989.55 176.65 L996.41 174.57 L1003.27 172.5 L1010.13 170.44 L1016.99 168.37 L1023.84 166.31 L1030.7 164.24 L1037.56 162.18 L1044.41 160.11 L1051.26 158.05 L1058.12 155.98 L1064.97 153.91 L1071.82 151.84 L1078.67 149.76 L1085.52 147.68 L1092.37 145.59 L1099.22 143.5 L1106.06 141.4 L1112.9 139.3 L1119.75 137.18 L1126.59 135.06 L1133.43 132.94 L1140.26 130.8 L1147.1 128.65 L1153.93 126.49 L1160.76 124.33 L1167.59 122.15 L1174.42 119.95 L1181.24 117.75 L1188.07 115.53 L1194.89 113.32 L1201.73 111.15 L1208.58 109.07 L1215.46 107.1 L1222.38 105.3 L1229.34 103.7 L1236.35 102.34 L1243.42 101.23 L1250.53 100.31 L1257.68 99.52 L1264.83 98.79 L1271.99 98.05 L1279.14 97.24 L1286.25 96.29 L1293.33 95.15 L1300.36 93.8 L1307.34 92.22 L1314.25 90.41 L1321.1 88.36 L1327.86 86.05 L1334.55 83.48 L1341.14 80.64 L1347.65 77.57 L1354.08 74.33 L1360.42 70.98 L1366.69 67.6" fill="none" stroke="#000033" stroke-width="7.7" stroke-linejoin="round"/>
<path d="M228 82.5 L228.62 88.54 L231.78 93.06 L235.58 96.85 L239.9 100.03 L244.61 102.7 L249.57 104.97 L254.68 106.91 L259.92 108.58 L265.26 110.01 L270.71 111.21 L276.24 112.22 L281.84 113.07 L287.5 113.79 L293.22 114.4 L298.98 114.93 L304.76 115.42 L310.56 115.88 L316.37 116.36 L322.17 116.86 L327.95 117.44 L333.7 118.11 L339.41 118.89 L345.07 119.83 L350.66 120.95 L356.18 122.26 L361.64 123.75 L367.03 125.41 L372.38 127.2 L377.68 129.11 L382.95 131.12 L388.19 133.22 L393.4 135.37 L398.61 137.56 L403.8 139.77 L409 141.99 L414.21 144.18 L419.43 146.33 L424.68 148.42 L429.95 150.44 L435.26 152.37 L440.6 154.23 L445.96 156.02 L451.35 157.77 L456.75 159.48 L462.16 161.15 L467.58 162.8 L473.01 164.45 L478.44 166.09 L483.87 167.74 L489.3 169.4 L494.72 171.06 L500.15 172.74 L505.57 174.42 L511 176.11 L516.42 177.8 L521.84 179.5 L527.26 181.2 L532.68 182.91 L538.1 184.62 L543.52 186.33 L548.94 188.04 L554.36 189.75 L559.78 191.46 L565.21 193.17 L570.63 194.87 L576.05 196.58 L581.47 198.28 L586.9 199.97 L592.32 201.66 L597.75 203.34 L603.18 205.02 L608.61 206.69 L614.04 208.35 L619.48 210.01 L624.91 211.65 L630.35 213.28 L635.79 214.9 L641.23 216.51 L646.68 218.11 L652.13 219.69 L657.58 221.26 L663.04 222.82 L668.49 224.35 L673.95 225.87 L679.42 227.38 L684.89 228.86 L690.36 230.33 L695.84 231.78 L701.32 233.21 L706.8 234.61 L712.29 236 L717.79 237.36 L723.28 238.69 L728.79 240.01 L734.3 241.3 L739.81 242.56 L745.33 243.8 L750.85 245.01 L756.38 246.2 L761.92 247.36 L767.46 248.5 L773 249.62 L778.55 250.72 L784.1 251.81 L789.65 252.87 L795.21 253.92 L800.77 254.95 L806.34 255.97 L811.9 256.98 L817.48 257.97 L823.05 258.95 L828.62 259.93 L834.2 260.89 L839.78 261.85 L845.37 262.8 L850.95 263.75 L856.54 264.69 L862.12 265.63 L867.71 266.56 L873.3 267.5 L878.89 268.44 L884.48 269.38 L890.07 270.32 L895.66 271.26 L901.25 272.21 L906.84 273.17 L912.43 274.13 L918.02 275.1 L923.61 276.08 L929.19 277.08 L934.78 278.08 L940.36 279.1 L945.95 280.13 L951.53 281.17 L957.11 282.23 L962.68 283.31 L968.26 284.41 L973.83 285.53 L979.4 286.66 L984.97 287.82 L990.53 289.01 L996.09 290.21 L1001.64 291.45 L1007.2 292.7 L1012.75 293.99 L1018.29 295.3 L1023.83 296.65 L1029.37 298.02 L1034.9 299.43 L1040.42 300.87 L1045.95 302.35 L1051.46 303.86 L1056.97 305.4 L1062.48 306.99 L1067.97 308.61 L1073.46 310.29 L1078.92 312.03 L1084.33 313.86 L1089.68 315.81 L1094.96 317.89 L1100.15 320.12 L1105.23 322.53 L1110.2 325.13 L1115.03 327.94 L1119.71 330.99 L1124.23 334.29 L1128.56 337.84 L1132.68 341.62 L1136.57 345.63 L1140.21 349.87 L1143.57 354.3 L1146.65 358.94 L1149.47 363.75 L1152.03 368.72 L1154.36 373.84 L1156.47 379.1 L1158.38 384.46 L1160.12 389.93 L1161.68 395.47 L1163.1 401.08 L1164.38 406.75 L1165.56 412.44 L1166.63 418.15 L1167.63 423.86 L1168.56 429.55 L1169.45 435.22 L1170.29 440.87 L1171.08 446.49 L1171.83 452.1 L1172.54 457.69 L1173.21 463.27 L1173.85 468.84 L1174.45 474.41 L1175.02 479.98 L1175.56 485.55 L1176.07 491.12 L1176.56 496.71 L1177.02 502.3 L1177.46 507.91 L1177.88 513.54 L1178.29 519.17 L1178.67 524.81 L1179.04 530.47 L1179.4 536.13 L1179.75 541.8 L1180.09 547.48 L1180.42 553.16 L1180.75 558.84 L1181.07 564.53 L1181.39 570.23 L1181.72 575.92 L1182.04 581.62 L1182.37 587.31 L1182.7 593 L1183.05 598.69 L1183.4 604.38 L1183.76 610.06 L1184.14 615.74 L1184.53 621.41 L1184.94 627.07 L1185.37 632.73 L1185.82 638.37 L1186.29 644.01 L1186.78 649.63 L1187.31 655.25 L1187.86 660.84 L1188.32 666.5" fill="none" stroke="#000033" stroke-width="7.7" stroke-linejoin="round"/>
<path d="M228 83.17 L228.59 89.16 L231.7 93.66 L235.44 97.46 L239.7 100.64 L244.34 103.32 L249.24 105.59 L254.3 107.54 L259.47 109.21 L264.76 110.64 L270.15 111.84 L275.63 112.85 L281.18 113.7 L286.8 114.42 L292.47 115.03 L298.18 115.56 L303.92 116.04 L309.68 116.5 L315.44 116.98 L321.19 117.49 L326.92 118.06 L332.63 118.73 L338.29 119.52 L343.9 120.47 L349.44 121.59 L354.9 122.92 L360.31 124.42 L365.65 126.08 L370.94 127.88 L376.19 129.8 L381.4 131.82 L386.58 133.91 L391.74 136.07 L396.89 138.27 L402.03 140.48 L407.17 142.69 L412.33 144.89 L417.5 147.03 L422.69 149.12 L427.92 151.13 L433.18 153.05 L438.47 154.91 L443.78 156.7 L449.11 158.45 L454.46 160.15 L459.83 161.82 L465.2 163.47 L470.58 165.12 L475.96 166.76 L481.33 168.41 L486.71 170.07 L492.09 171.74 L497.46 173.42 L502.83 175.1 L508.21 176.79 L513.58 178.49 L518.95 180.19 L524.32 181.89 L529.69 183.6 L535.05 185.31 L540.42 187.02 L545.79 188.73 L551.16 190.44 L556.53 192.15 L561.9 193.86 L567.27 195.57 L572.64 197.28 L578.02 198.98 L583.39 200.67 L588.76 202.36 L594.14 204.05 L599.52 205.72 L604.9 207.39 L610.28 209.06 L615.66 210.71 L621.05 212.35 L626.43 213.98 L631.82 215.6 L637.21 217.21 L642.61 218.8 L648.01 220.39 L653.41 221.95 L658.81 223.5 L664.22 225.04 L669.63 226.56 L675.05 228.06 L680.47 229.54 L685.89 231 L691.32 232.45 L696.75 233.87 L702.18 235.27 L707.62 236.65 L713.07 238.01 L718.52 239.34 L723.97 240.65 L729.43 241.93 L734.89 243.19 L740.36 244.42 L745.84 245.62 L751.32 246.8 L756.81 247.96 L762.29 249.1 L767.79 250.21 L773.29 251.31 L778.79 252.38 L784.3 253.44 L789.81 254.49 L795.32 255.51 L800.84 256.53 L806.35 257.53 L811.88 258.52 L817.4 259.5 L822.93 260.47 L828.46 261.43 L833.99 262.38 L839.52 263.33 L845.06 264.28 L850.6 265.22 L856.13 266.15 L861.67 267.09 L867.21 268.03 L872.75 268.96 L878.29 269.9 L883.83 270.84 L889.38 271.79 L894.92 272.74 L900.46 273.7 L906 274.66 L911.54 275.64 L917.07 276.62 L922.61 277.62 L928.15 278.62 L933.68 279.65 L939.22 280.68 L944.75 281.73 L950.28 282.8 L955.8 283.89 L961.33 284.99 L966.85 286.12 L972.37 287.26 L977.88 288.43 L983.39 289.63 L988.9 290.84 L994.41 292.09 L999.91 293.36 L1005.4 294.66 L1010.9 295.98 L1016.38 297.34 L1021.87 298.73 L1027.35 300.16 L1032.82 301.61 L1038.29 303.11 L1043.75 304.63 L1049.21 306.2 L1054.66 307.8 L1060.1 309.45 L1065.52 311.15 L1070.91 312.94 L1076.25 314.82 L1081.52 316.83 L1086.7 318.98 L1091.79 321.29 L1096.77 323.78 L1101.62 326.47 L1106.32 329.39 L1110.87 332.55 L1115.24 335.96 L1119.42 339.61 L1123.38 343.5 L1127.1 347.6 L1130.56 351.91 L1133.74 356.42 L1136.65 361.11 L1139.31 365.96 L1141.72 370.97 L1143.91 376.12 L1145.9 381.38 L1147.7 386.75 L1149.33 392.21 L1150.8 397.74 L1152.13 403.33 L1153.35 408.96 L1154.45 414.62 L1155.48 420.28 L1156.42 425.94 L1157.32 431.58 L1158.17 437.19 L1158.97 442.78 L1159.74 448.35 L1160.46 453.91 L1161.14 459.45 L1161.79 464.98 L1162.41 470.5 L1162.99 476.03 L1163.54 481.55 L1164.06 487.07 L1164.56 492.6 L1165.03 498.14 L1165.47 503.69 L1165.9 509.26 L1166.31 514.83 L1166.7 520.42 L1167.07 526.02 L1167.44 531.63 L1167.79 537.24 L1168.12 542.87 L1168.45 548.49 L1168.78 554.13 L1169.1 559.77 L1169.41 565.41 L1169.73 571.05 L1170.04 576.7 L1170.36 582.34 L1170.68 587.99 L1171.01 593.63 L1171.35 599.27 L1171.69 604.91 L1172.05 610.55 L1172.42 616.17 L1172.81 621.8 L1173.21 627.41 L1173.63 633.02 L1174.07 638.61 L1174.53 644.2 L1175.02 649.78 L1175.53 655.34 L1176.07 660.89 L1176.52 666.5" fill="none" stroke="#000a5c" stroke-width="7.7" stroke-linejoin="round"/>
<path d="M228 83.83 L228.57 89.81 L231.66 94.3 L235.38 98.09 L239.61 101.28 L244.22 103.95 L249.1 106.22 L254.13 108.17 L259.28 109.85 L264.55 111.27 L269.91 112.47 L275.37 113.48 L280.9 114.33 L286.49 115.04 L292.14 115.65 L297.83 116.18 L303.55 116.66 L309.29 117.12 L315.03 117.59 L320.76 118.09 L326.47 118.67 L332.15 119.34 L337.79 120.13 L343.38 121.08 L348.9 122.2 L354.34 123.53 L359.72 125.03 L365.04 126.69 L370.3 128.49 L375.53 130.42 L380.71 132.44 L385.87 134.53 L391.01 136.69 L396.13 138.89 L401.25 141.1 L406.37 143.31 L411.5 145.5 L416.65 147.64 L421.82 149.73 L427.03 151.73 L432.27 153.65 L437.53 155.5 L442.82 157.29 L448.13 159.03 L453.46 160.73 L458.8 162.4 L464.15 164.05 L469.51 165.69 L474.87 167.33 L480.22 168.98 L485.58 170.64 L490.93 172.31 L496.28 173.99 L501.63 175.67 L506.98 177.36 L512.33 179.05 L517.68 180.75 L523.02 182.45 L528.37 184.16 L533.72 185.87 L539.06 187.58 L544.41 189.29 L549.76 191 L555.1 192.71 L560.45 194.42 L565.8 196.12 L571.15 197.82 L576.5 199.52 L581.85 201.22 L587.2 202.9 L592.56 204.59 L597.91 206.26 L603.27 207.93 L608.63 209.59 L613.99 211.24 L619.35 212.88 L624.72 214.51 L630.08 216.13 L635.45 217.73 L640.83 219.32 L646.2 220.9 L651.58 222.47 L656.96 224.01 L662.35 225.55 L667.74 227.06 L673.13 228.56 L678.53 230.04 L683.93 231.5 L689.33 232.94 L694.74 234.35 L700.16 235.75 L705.57 237.13 L711 238.48 L716.42 239.81 L721.86 241.11 L727.3 242.39 L732.74 243.64 L738.19 244.86 L743.64 246.06 L749.1 247.24 L754.56 248.39 L760.03 249.52 L765.5 250.63 L770.98 251.72 L776.46 252.8 L781.95 253.85 L787.44 254.89 L792.93 255.91 L798.42 256.92 L803.92 257.92 L809.42 258.91 L814.92 259.88 L820.43 260.85 L825.94 261.81 L831.45 262.76 L836.96 263.7 L842.47 264.64 L847.99 265.58 L853.5 266.51 L859.02 267.45 L864.54 268.38 L870.06 269.31 L875.58 270.25 L881.1 271.19 L886.62 272.13 L892.14 273.08 L897.65 274.04 L903.17 275.01 L908.69 275.98 L914.21 276.96 L919.72 277.96 L925.24 278.97 L930.75 279.99 L936.26 281.02 L941.77 282.07 L947.27 283.14 L952.78 284.23 L958.28 285.34 L963.78 286.46 L969.27 287.61 L974.77 288.78 L980.26 289.98 L985.74 291.2 L991.22 292.45 L996.7 293.72 L1002.18 295.02 L1007.65 296.36 L1013.11 297.72 L1018.57 299.11 L1024.03 300.54 L1029.48 302 L1034.92 303.5 L1040.36 305.04 L1045.8 306.61 L1051.22 308.22 L1056.64 309.87 L1062.04 311.59 L1067.39 313.39 L1072.69 315.3 L1077.92 317.33 L1083.07 319.51 L1088.11 321.85 L1093.04 324.38 L1097.83 327.12 L1102.48 330.08 L1106.97 333.29 L1111.28 336.75 L1115.38 340.45 L1119.27 344.37 L1122.91 348.51 L1126.29 352.85 L1129.4 357.39 L1132.23 362.1 L1134.82 366.98 L1137.17 372 L1139.31 377.15 L1141.24 382.42 L1142.99 387.79 L1144.57 393.24 L1146 398.77 L1147.3 404.35 L1148.48 409.96 L1149.56 415.6 L1150.56 421.24 L1151.49 426.88 L1152.37 432.49 L1153.2 438.08 L1153.99 443.65 L1154.74 449.19 L1155.45 454.72 L1156.13 460.24 L1156.76 465.75 L1157.37 471.25 L1157.94 476.75 L1158.48 482.25 L1159 487.75 L1159.49 493.26 L1159.95 498.78 L1160.39 504.32 L1160.81 509.86 L1161.22 515.42 L1161.6 520.99 L1161.97 526.56 L1162.33 532.15 L1162.67 537.74 L1163.01 543.35 L1163.34 548.95 L1163.66 554.57 L1163.97 560.18 L1164.28 565.8 L1164.6 571.42 L1164.91 577.05 L1165.22 582.67 L1165.54 588.3 L1165.87 593.92 L1166.2 599.54 L1166.54 605.15 L1166.9 610.76 L1167.26 616.37 L1167.65 621.97 L1168.04 627.56 L1168.46 633.15 L1168.9 638.72 L1169.36 644.29 L1169.84 649.84 L1170.35 655.38 L1170.88 660.91 L1171.33 666.5" fill="none" stroke="#0a1fa8" stroke-width="7.7" stroke-linejoin="round"/>
<path d="M228 84.17 L228.56 90.13 L231.63 94.62 L235.34 98.41 L239.55 101.59 L244.14 104.27 L248.99 106.54 L254 108.49 L259.14 110.16 L264.39 111.59 L269.73 112.79 L275.17 113.8 L280.69 114.64 L286.27 115.35 L291.9 115.96 L297.58 116.49 L303.28 116.97 L309 117.43 L314.73 117.89 L320.44 118.4 L326.14 118.97 L331.81 119.64 L337.43 120.44 L343 121.39 L348.5 122.52 L353.93 123.84 L359.29 125.35 L364.59 127.01 L369.84 128.81 L375.05 130.74 L380.22 132.76 L385.36 134.86 L390.48 137.02 L395.58 139.21 L400.68 141.42 L405.79 143.63 L410.9 145.82 L416.03 147.97 L421.19 150.05 L426.38 152.05 L431.6 153.97 L436.85 155.81 L442.12 157.6 L447.42 159.34 L452.73 161.04 L458.06 162.71 L463.39 164.36 L468.73 166 L474.07 167.64 L479.41 169.29 L484.75 170.95 L490.09 172.62 L495.42 174.29 L500.75 175.97 L506.09 177.66 L511.42 179.36 L516.75 181.06 L522.08 182.76 L527.41 184.46 L532.74 186.17 L538.07 187.88 L543.4 189.59 L548.73 191.3 L554.06 193.01 L559.4 194.72 L564.73 196.42 L570.06 198.13 L575.39 199.82 L580.73 201.52 L586.06 203.21 L591.4 204.89 L596.74 206.56 L602.08 208.23 L607.42 209.89 L612.77 211.54 L618.11 213.18 L623.46 214.8 L628.81 216.42 L634.17 218.02 L639.53 219.62 L644.89 221.19 L650.25 222.76 L655.61 224.3 L660.98 225.83 L666.36 227.35 L671.73 228.84 L677.11 230.32 L682.5 231.78 L687.89 233.21 L693.28 234.63 L698.68 236.02 L704.08 237.4 L709.49 238.75 L714.9 240.07 L720.32 241.37 L725.74 242.65 L731.17 243.9 L736.6 245.12 L742.04 246.32 L747.48 247.49 L752.93 248.64 L758.38 249.77 L763.84 250.87 L769.3 251.96 L774.77 253.03 L780.24 254.08 L785.71 255.12 L791.18 256.14 L796.66 257.15 L802.15 258.15 L807.63 259.13 L813.12 260.1 L818.61 261.07 L824.1 262.02 L829.6 262.97 L835.09 263.92 L840.59 264.85 L846.09 265.79 L851.59 266.72 L857.09 267.66 L862.59 268.59 L868.1 269.52 L873.6 270.46 L879.1 271.4 L884.61 272.34 L890.11 273.29 L895.61 274.25 L901.12 275.21 L906.62 276.19 L912.12 277.17 L917.62 278.17 L923.12 279.17 L928.61 280.2 L934.11 281.23 L939.6 282.29 L945.09 283.36 L950.58 284.45 L956.06 285.55 L961.55 286.68 L967.02 287.83 L972.5 289.01 L977.97 290.21 L983.44 291.43 L988.91 292.68 L994.37 293.96 L999.83 295.26 L1005.28 296.6 L1010.73 297.97 L1016.17 299.37 L1021.61 300.8 L1027.05 302.27 L1032.47 303.77 L1037.9 305.31 L1043.31 306.89 L1048.72 308.5 L1054.12 310.17 L1059.49 311.9 L1064.83 313.71 L1070.1 315.64 L1075.3 317.69 L1080.41 319.89 L1085.43 322.26 L1090.32 324.82 L1095.07 327.59 L1099.68 330.58 L1104.12 333.83 L1108.38 337.32 L1112.44 341.05 L1116.27 345.01 L1119.85 349.17 L1123.18 353.54 L1126.22 358.09 L1129.01 362.82 L1131.54 367.71 L1133.85 372.74 L1135.94 377.9 L1137.84 383.17 L1139.56 388.54 L1141.11 393.99 L1142.51 399.51 L1143.78 405.07 L1144.94 410.68 L1146 416.3 L1146.98 421.93 L1147.9 427.55 L1148.77 433.15 L1149.59 438.72 L1150.37 444.26 L1151.11 449.79 L1151.81 455.31 L1152.48 460.81 L1153.11 466.3 L1153.7 471.79 L1154.27 477.27 L1154.81 482.76 L1155.32 488.25 L1155.8 493.74 L1156.26 499.25 L1156.7 504.76 L1157.11 510.3 L1157.51 515.84 L1157.89 521.39 L1158.26 526.95 L1158.61 532.52 L1158.96 538.1 L1159.29 543.69 L1159.61 549.28 L1159.93 554.88 L1160.24 560.48 L1160.55 566.08 L1160.86 571.69 L1161.17 577.3 L1161.49 582.91 L1161.8 588.51 L1162.13 594.12 L1162.46 599.72 L1162.8 605.32 L1163.15 610.92 L1163.51 616.51 L1163.89 622.09 L1164.29 627.67 L1164.7 633.24 L1165.14 638.8 L1165.59 644.35 L1166.07 649.89 L1166.58 655.41 L1167.11 660.93 L1167.55 666.5" fill="none" stroke="#1547e6" stroke-width="7.7" stroke-linejoin="round"/>
<path d="M228 84.5 L228.55 90.45 L231.61 94.94 L235.3 98.72 L239.5 101.9 L244.08 104.58 L248.92 106.86 L253.91 108.81 L259.03 110.48 L264.27 111.9 L269.6 113.11 L275.03 114.11 L280.53 114.96 L286.1 115.67 L291.72 116.27 L297.39 116.8 L303.08 117.27 L308.79 117.73 L314.5 118.2 L320.21 118.71 L325.9 119.28 L331.55 119.95 L337.17 120.74 L342.72 121.69 L348.21 122.82 L353.63 124.15 L358.97 125.65 L364.26 127.32 L369.5 129.13 L374.69 131.05 L379.84 133.07 L384.97 135.17 L390.08 137.33 L395.17 139.52 L400.26 141.74 L405.35 143.95 L410.45 146.13 L415.57 148.28 L420.71 150.35 L425.89 152.35 L431.1 154.27 L436.34 156.11 L441.6 157.9 L446.88 159.64 L452.18 161.33 L457.5 163 L462.82 164.65 L468.15 166.29 L473.48 167.93 L478.8 169.58 L484.13 171.24 L489.45 172.9 L494.78 174.58 L500.1 176.26 L505.42 177.95 L510.74 179.64 L516.06 181.34 L521.38 183.05 L526.7 184.75 L532.01 186.46 L537.33 188.17 L542.65 189.88 L547.97 191.59 L553.29 193.29 L558.6 195 L563.92 196.71 L569.24 198.41 L574.57 200.1 L579.89 201.8 L585.21 203.48 L590.54 205.16 L595.86 206.84 L601.19 208.5 L606.52 210.16 L611.85 211.81 L617.19 213.45 L622.53 215.07 L627.86 216.69 L633.21 218.29 L638.55 219.88 L643.9 221.46 L649.25 223.02 L654.6 224.56 L659.96 226.09 L665.32 227.6 L670.69 229.1 L676.06 230.57 L681.43 232.03 L686.81 233.46 L692.19 234.88 L697.57 236.27 L702.96 237.64 L708.36 238.99 L713.76 240.31 L719.16 241.61 L724.58 242.88 L729.99 244.13 L735.41 245.35 L740.84 246.54 L746.27 247.71 L751.71 248.86 L757.15 249.99 L762.59 251.09 L768.04 252.18 L773.5 253.24 L778.95 254.29 L784.42 255.33 L789.88 256.35 L795.35 257.35 L800.82 258.35 L806.29 259.33 L811.77 260.3 L817.25 261.26 L822.73 262.22 L828.21 263.16 L833.69 264.11 L839.18 265.04 L844.67 265.98 L850.16 266.91 L855.65 267.84 L861.14 268.77 L866.63 269.7 L872.12 270.64 L877.61 271.58 L883.1 272.52 L888.59 273.47 L894.08 274.43 L899.58 275.39 L905.06 276.36 L910.55 277.35 L916.04 278.34 L921.53 279.35 L927.01 280.37 L932.49 281.41 L937.97 282.47 L943.45 283.54 L948.93 284.63 L954.4 285.74 L959.87 286.87 L965.34 288.02 L970.8 289.19 L976.26 290.39 L981.72 291.62 L987.17 292.87 L992.62 294.15 L998.07 295.46 L1003.51 296.8 L1008.94 298.17 L1014.37 299.57 L1019.8 301.01 L1025.22 302.48 L1030.64 303.98 L1036.05 305.53 L1041.45 307.11 L1046.85 308.73 L1052.23 310.4 L1057.59 312.14 L1062.9 313.96 L1068.16 315.9 L1073.34 317.97 L1078.43 320.19 L1083.41 322.58 L1088.27 325.16 L1093 327.95 L1097.58 330.97 L1101.99 334.25 L1106.21 337.77 L1110.22 341.52 L1114.01 345.49 L1117.56 349.68 L1120.84 354.06 L1123.84 358.63 L1126.59 363.37 L1129.09 368.26 L1131.36 373.3 L1133.42 378.46 L1135.29 383.74 L1136.98 389.11 L1138.51 394.55 L1139.89 400.07 L1141.14 405.63 L1142.29 411.22 L1143.33 416.84 L1144.3 422.45 L1145.21 428.06 L1146.06 433.64 L1146.88 439.2 L1147.65 444.73 L1148.38 450.25 L1149.08 455.75 L1149.74 461.24 L1150.36 466.72 L1150.96 472.2 L1151.52 477.67 L1152.05 483.14 L1152.55 488.62 L1153.03 494.1 L1153.49 499.6 L1153.92 505.1 L1154.34 510.62 L1154.73 516.15 L1155.11 521.7 L1155.48 527.25 L1155.83 532.81 L1156.17 538.38 L1156.5 543.95 L1156.82 549.53 L1157.14 555.12 L1157.45 560.71 L1157.76 566.3 L1158.06 571.89 L1158.37 577.49 L1158.68 583.09 L1159 588.68 L1159.32 594.28 L1159.65 599.87 L1159.99 605.45 L1160.34 611.04 L1160.7 616.62 L1161.08 622.19 L1161.47 627.75 L1161.89 633.31 L1162.32 638.86 L1162.77 644.4 L1163.25 649.92 L1163.75 655.44 L1164.28 660.94 L1164.72 666.5" fill="none" stroke="#1690f0" stroke-width="7.7" stroke-linejoin="round"/>
<path d="M228 80.18 L228.66 86.25 L231.87 90.79 L235.73 94.6 L240.11 97.79 L244.89 100.46 L249.92 102.72 L255.1 104.67 L260.39 106.35 L265.8 107.78 L271.3 108.99 L276.88 110.01 L282.54 110.87 L288.25 111.6 L294.02 112.22 L299.83 112.77 L305.67 113.27 L311.52 113.74 L317.38 114.22 L323.23 114.74 L329.06 115.32 L334.86 116 L340.63 116.79 L346.34 117.73 L351.99 118.85 L357.57 120.16 L363.08 121.66 L368.53 123.31 L373.94 125.1 L379.3 127.01 L384.62 129.03 L389.92 131.12 L395.2 133.28 L400.46 135.48 L405.71 137.69 L410.97 139.91 L416.23 142.12 L421.51 144.28 L426.81 146.39 L432.14 148.41 L437.5 150.36 L442.89 152.23 L448.31 154.05 L453.74 155.8 L459.2 157.52 L464.66 159.21 L470.14 160.87 L475.62 162.52 L481.11 164.17 L486.59 165.83 L492.08 167.49 L497.56 169.17 L503.04 170.85 L508.52 172.54 L513.99 174.23 L519.47 175.93 L524.95 177.64 L530.42 179.35 L535.9 181.06 L541.37 182.78 L546.85 184.49 L552.32 186.21 L557.8 187.93 L563.27 189.65 L568.75 191.36 L574.23 193.08 L579.7 194.79 L585.18 196.5 L590.66 198.2 L596.14 199.9 L601.62 201.59 L607.11 203.28 L612.59 204.96 L618.08 206.63 L623.57 208.29 L629.06 209.95 L634.55 211.59 L640.04 213.22 L645.54 214.84 L651.04 216.45 L656.55 218.04 L662.05 219.62 L667.56 221.19 L673.07 222.74 L678.59 224.27 L684.11 225.79 L689.63 227.28 L695.15 228.76 L700.68 230.23 L706.22 231.67 L711.76 233.09 L717.3 234.48 L722.85 235.86 L728.4 237.21 L733.96 238.54 L739.52 239.85 L745.08 241.13 L750.66 242.38 L756.23 243.61 L761.81 244.81 L767.4 245.99 L772.99 247.15 L778.59 248.29 L784.19 249.4 L789.79 250.5 L795.4 251.58 L801.01 252.64 L806.63 253.69 L812.24 254.73 L817.87 255.75 L823.49 256.75 L829.12 257.75 L834.75 258.74 L840.38 259.71 L846.01 260.68 L851.65 261.65 L857.28 262.61 L862.92 263.56 L868.56 264.51 L874.2 265.46 L879.85 266.4 L885.49 267.35 L891.13 268.3 L896.78 269.25 L902.42 270.2 L908.06 271.16 L913.71 272.12 L919.35 273.1 L925 274.07 L930.64 275.06 L936.28 276.06 L941.92 277.07 L947.56 278.09 L953.2 279.12 L958.83 280.17 L964.47 281.24 L970.1 282.32 L975.73 283.42 L981.35 284.53 L986.98 285.67 L992.6 286.83 L998.22 288.01 L1003.83 289.22 L1009.44 290.45 L1015.05 291.7 L1020.66 292.99 L1026.26 294.3 L1031.85 295.63 L1037.45 297 L1043.03 298.4 L1048.62 299.84 L1054.19 301.3 L1059.77 302.8 L1065.33 304.34 L1070.9 305.91 L1076.45 307.52 L1082 309.18 L1087.53 310.89 L1093.02 312.69 L1098.45 314.58 L1103.83 316.6 L1109.12 318.76 L1114.32 321.09 L1119.4 323.6 L1124.36 326.31 L1129.18 329.25 L1133.84 332.43 L1138.33 335.87 L1142.62 339.55 L1146.69 343.47 L1150.51 347.61 L1154.07 351.97 L1157.35 356.54 L1160.34 361.29 L1163.07 366.23 L1165.55 371.32 L1167.81 376.55 L1169.85 381.91 L1171.7 387.38 L1173.37 392.94 L1174.89 398.57 L1176.26 404.26 L1177.51 410 L1178.65 415.75 L1179.7 421.52 L1180.68 427.27 L1181.61 433 L1182.48 438.71 L1183.31 444.39 L1184.1 450.06 L1184.84 455.71 L1185.54 461.34 L1186.2 466.97 L1186.82 472.6 L1187.41 478.22 L1187.97 483.84 L1188.51 489.46 L1189.01 495.1 L1189.49 500.75 L1189.94 506.41 L1190.38 512.08 L1190.79 517.76 L1191.19 523.46 L1191.57 529.17 L1191.94 534.88 L1192.3 540.6 L1192.65 546.33 L1192.99 552.07 L1193.33 557.81 L1193.66 563.55 L1193.99 569.3 L1194.32 575.05 L1194.65 580.8 L1194.99 586.55 L1195.33 592.29 L1195.68 598.04 L1196.04 603.78 L1196.41 609.52 L1196.79 615.25 L1197.19 620.98 L1197.61 626.69 L1198.05 632.4 L1198.51 638.1 L1198.99 643.79 L1199.49 649.47 L1200.02 655.14 L1200.59 660.79 L1201.06 666.5" fill="none" stroke="#240008" stroke-width="7.7" stroke-linejoin="round"/>
<path d="M228 80.18 L228.67 86.26 L231.87 90.8 L235.74 94.6 L240.12 97.79 L244.9 100.46 L249.93 102.72 L255.11 104.67 L260.41 106.35 L265.82 107.78 L271.32 108.99 L276.9 110.01 L282.56 110.87 L288.28 111.6 L294.05 112.22 L299.86 112.77 L305.7 113.27 L311.55 113.74 L317.41 114.22 L323.27 114.74 L329.1 115.32 L334.91 116 L340.67 116.79 L346.39 117.73 L352.04 118.85 L357.62 120.16 L363.13 121.65 L368.59 123.3 L374 125.1 L379.36 127.01 L384.69 129.02 L389.99 131.12 L395.26 133.27 L400.53 135.47 L405.78 137.69 L411.04 139.91 L416.31 142.11 L421.59 144.27 L426.89 146.38 L432.22 148.41 L437.59 150.35 L442.98 152.23 L448.4 154.04 L453.83 155.8 L459.29 157.52 L464.76 159.2 L470.24 160.86 L475.72 162.51 L481.21 164.16 L486.69 165.82 L492.18 167.49 L497.66 169.16 L503.14 170.84 L508.63 172.53 L514.11 174.23 L519.59 175.93 L525.06 177.63 L530.54 179.34 L536.02 181.05 L541.5 182.77 L546.97 184.48 L552.45 186.2 L557.93 187.92 L563.41 189.64 L568.88 191.35 L574.36 193.07 L579.84 194.78 L585.32 196.49 L590.8 198.19 L596.29 199.89 L601.77 201.58 L607.25 203.27 L612.74 204.95 L618.23 206.62 L623.72 208.28 L629.21 209.93 L634.71 211.58 L640.2 213.21 L645.7 214.83 L651.21 216.43 L656.71 218.03 L662.22 219.61 L667.73 221.17 L673.24 222.72 L678.76 224.26 L684.28 225.77 L689.81 227.27 L695.33 228.75 L700.87 230.21 L706.4 231.65 L711.94 233.07 L717.49 234.47 L723.04 235.85 L728.59 237.2 L734.15 238.53 L739.71 239.84 L745.28 241.11 L750.86 242.37 L756.43 243.6 L762.02 244.8 L767.61 245.98 L773.2 247.14 L778.8 248.27 L784.4 249.39 L790.01 250.49 L795.62 251.57 L801.23 252.63 L806.85 253.68 L812.47 254.71 L818.09 255.73 L823.71 256.74 L829.34 257.74 L834.97 258.73 L840.61 259.7 L846.24 260.67 L851.88 261.64 L857.52 262.59 L863.16 263.55 L868.8 264.5 L874.45 265.45 L880.09 266.39 L885.73 267.34 L891.38 268.29 L897.03 269.24 L902.67 270.19 L908.32 271.15 L913.96 272.11 L919.61 273.08 L925.25 274.06 L930.9 275.05 L936.54 276.04 L942.18 277.05 L947.83 278.07 L953.47 279.11 L959.1 280.16 L964.74 281.22 L970.37 282.3 L976 283.4 L981.63 284.52 L987.26 285.65 L992.88 286.81 L998.5 287.99 L1004.12 289.2 L1009.73 290.43 L1015.34 291.68 L1020.95 292.96 L1026.55 294.27 L1032.15 295.61 L1037.75 296.98 L1043.34 298.38 L1048.92 299.81 L1054.5 301.28 L1060.08 302.78 L1065.64 304.31 L1071.21 305.89 L1076.77 307.5 L1082.32 309.15 L1087.85 310.86 L1093.34 312.65 L1098.78 314.55 L1104.16 316.56 L1109.45 318.72 L1114.65 321.04 L1119.74 323.55 L1124.7 326.26 L1129.53 329.19 L1134.2 332.37 L1138.69 335.81 L1142.99 339.48 L1147.06 343.4 L1150.9 347.54 L1154.46 351.89 L1157.74 356.45 L1160.74 361.21 L1163.48 366.14 L1165.97 371.23 L1168.23 376.47 L1170.27 381.82 L1172.13 387.29 L1173.8 392.85 L1175.32 398.48 L1176.7 404.18 L1177.95 409.91 L1179.09 415.67 L1180.15 421.44 L1181.13 427.19 L1182.06 432.93 L1182.93 438.64 L1183.76 444.32 L1184.55 449.99 L1185.29 455.64 L1185.99 461.28 L1186.65 466.91 L1187.28 472.53 L1187.87 478.15 L1188.43 483.78 L1188.97 489.41 L1189.47 495.04 L1189.95 500.69 L1190.4 506.35 L1190.84 512.03 L1191.26 517.71 L1191.65 523.41 L1192.04 529.12 L1192.41 534.84 L1192.77 540.56 L1193.12 546.29 L1193.46 552.03 L1193.79 557.77 L1194.13 563.52 L1194.46 569.27 L1194.79 575.02 L1195.12 580.77 L1195.46 586.52 L1195.8 592.27 L1196.15 598.02 L1196.51 603.76 L1196.88 609.5 L1197.26 615.23 L1197.66 620.96 L1198.08 626.68 L1198.52 632.39 L1198.98 638.1 L1199.46 643.79 L1199.96 649.47 L1200.5 655.13 L1201.06 660.79 L1201.53 666.5" fill="none" stroke="#3a0006" stroke-width="7.7" stroke-linejoin="round"/>
<path d="M228 80.51 L228.65 86.58 L231.85 91.11 L235.69 94.92 L240.06 98.1 L244.81 100.77 L249.83 103.04 L254.99 104.99 L260.27 106.66 L265.66 108.09 L271.14 109.31 L276.71 110.33 L282.35 111.19 L288.06 111.91 L293.81 112.54 L299.61 113.08 L305.43 113.57 L311.27 114.05 L317.11 114.53 L322.95 115.05 L328.77 115.63 L334.56 116.3 L340.31 117.1 L346.01 118.04 L351.64 119.16 L357.21 120.47 L362.71 121.97 L368.15 123.62 L373.54 125.41 L378.88 127.33 L384.19 129.34 L389.47 131.44 L394.73 133.6 L399.98 135.79 L405.22 138.01 L410.46 140.23 L415.71 142.43 L420.97 144.59 L426.26 146.7 L431.57 148.72 L436.92 150.67 L442.3 152.54 L447.7 154.35 L453.12 156.11 L458.56 157.82 L464.01 159.51 L469.48 161.17 L474.94 162.82 L480.41 164.47 L485.88 166.12 L491.35 167.79 L496.82 169.46 L502.29 171.14 L507.75 172.83 L513.21 174.53 L518.68 176.23 L524.14 177.93 L529.6 179.64 L535.06 181.35 L540.52 183.07 L545.98 184.79 L551.44 186.5 L556.91 188.22 L562.37 189.94 L567.83 191.65 L573.29 193.37 L578.75 195.08 L584.22 196.79 L589.68 198.49 L595.15 200.19 L600.62 201.88 L606.08 203.56 L611.56 205.24 L617.03 206.91 L622.5 208.57 L627.98 210.23 L633.46 211.87 L638.94 213.5 L644.42 215.12 L649.91 216.72 L655.4 218.32 L660.89 219.89 L666.38 221.46 L671.88 223.01 L677.38 224.54 L682.89 226.05 L688.39 227.55 L693.91 229.03 L699.42 230.49 L704.94 231.93 L710.47 233.34 L716 234.74 L721.53 236.11 L727.07 237.46 L732.61 238.79 L738.16 240.09 L743.71 241.37 L749.27 242.62 L754.83 243.85 L760.4 245.05 L765.97 246.23 L771.55 247.38 L777.13 248.51 L782.72 249.63 L788.31 250.72 L793.9 251.8 L799.5 252.86 L805.1 253.91 L810.71 254.94 L816.32 255.96 L821.93 256.96 L827.54 257.96 L833.15 258.94 L838.77 259.92 L844.39 260.89 L850.01 261.85 L855.64 262.81 L861.26 263.76 L866.89 264.71 L872.52 265.65 L878.14 266.6 L883.77 267.54 L889.4 268.49 L895.03 269.44 L900.66 270.39 L906.29 271.35 L911.92 272.31 L917.55 273.29 L923.18 274.26 L928.81 275.25 L934.44 276.25 L940.06 277.26 L945.69 278.28 L951.31 279.31 L956.93 280.36 L962.55 281.43 L968.17 282.51 L973.79 283.61 L979.4 284.73 L985.01 285.87 L990.62 287.03 L996.22 288.21 L1001.82 289.42 L1007.42 290.65 L1013.01 291.91 L1018.6 293.19 L1024.19 294.51 L1029.77 295.85 L1035.35 297.22 L1040.92 298.62 L1046.49 300.06 L1052.05 301.53 L1057.61 303.04 L1063.16 304.58 L1068.71 306.15 L1074.25 307.77 L1079.78 309.43 L1085.29 311.15 L1090.76 312.96 L1096.18 314.87 L1101.53 316.9 L1106.79 319.08 L1111.96 321.43 L1117.01 323.96 L1121.94 326.7 L1126.72 329.67 L1131.35 332.88 L1135.8 336.35 L1140.04 340.06 L1144.07 344 L1147.85 348.17 L1151.36 352.55 L1154.58 357.13 L1157.53 361.91 L1160.21 366.85 L1162.65 371.95 L1164.87 377.19 L1166.88 382.55 L1168.7 388.02 L1170.34 393.58 L1171.83 399.21 L1173.18 404.89 L1174.41 410.61 L1175.53 416.36 L1176.57 422.11 L1177.54 427.85 L1178.46 433.57 L1179.32 439.26 L1180.14 444.92 L1180.92 450.57 L1181.65 456.21 L1182.34 461.83 L1183 467.45 L1183.62 473.05 L1184.2 478.66 L1184.76 484.27 L1185.28 489.88 L1185.78 495.51 L1186.26 501.14 L1186.71 506.79 L1187.14 512.45 L1187.55 518.12 L1187.94 523.8 L1188.32 529.49 L1188.69 535.2 L1189.05 540.91 L1189.39 546.62 L1189.73 552.34 L1190.07 558.07 L1190.4 563.8 L1190.72 569.53 L1191.05 575.27 L1191.38 581 L1191.72 586.74 L1192.06 592.47 L1192.4 598.2 L1192.76 603.93 L1193.13 609.66 L1193.51 615.37 L1193.91 621.09 L1194.33 626.79 L1194.76 632.49 L1195.22 638.17 L1195.69 643.85 L1196.2 649.51 L1196.73 655.17 L1197.28 660.8 L1197.75 666.5" fill="none" stroke="#5c0800" stroke-width="7.7" stroke-linejoin="round"/>
<path d="M228 80.84 L228.64 86.9 L231.82 91.42 L235.65 95.23 L239.99 98.41 L244.73 101.09 L249.72 103.35 L254.86 105.3 L260.13 106.98 L265.5 108.41 L270.97 109.62 L276.52 110.64 L282.15 111.5 L287.83 112.23 L293.57 112.85 L299.35 113.39 L305.16 113.88 L310.99 114.36 L316.82 114.84 L322.64 115.36 L328.44 115.94 L334.22 116.61 L339.95 117.4 L345.63 118.35 L351.25 119.47 L356.8 120.79 L362.28 122.28 L367.7 123.94 L373.07 125.73 L378.4 127.65 L383.69 129.67 L388.96 131.76 L394.2 133.92 L399.43 136.12 L404.65 138.34 L409.87 140.55 L415.1 142.75 L420.35 144.91 L425.62 147.02 L430.92 149.04 L436.26 150.98 L441.62 152.85 L447 154.66 L452.41 156.41 L457.83 158.13 L463.27 159.81 L468.71 161.47 L474.17 163.12 L479.62 164.77 L485.07 166.43 L490.53 168.09 L495.98 169.76 L501.43 171.45 L506.88 173.14 L512.32 174.83 L517.77 176.53 L523.21 178.24 L528.66 179.94 L534.1 181.66 L539.55 183.37 L544.99 185.09 L550.44 186.8 L555.88 188.52 L561.33 190.24 L566.77 191.95 L572.22 193.67 L577.67 195.38 L583.11 197.08 L588.56 198.79 L594.01 200.48 L599.46 202.18 L604.91 203.86 L610.37 205.54 L615.83 207.21 L621.28 208.87 L626.74 210.52 L632.21 212.16 L637.67 213.79 L643.14 215.41 L648.61 217.01 L654.08 218.6 L659.55 220.18 L665.03 221.74 L670.52 223.29 L676 224.82 L681.49 226.33 L686.98 227.83 L692.48 229.3 L697.98 230.76 L703.48 232.2 L708.99 233.61 L714.5 235.01 L720.02 236.38 L725.54 237.73 L731.07 239.05 L736.6 240.35 L742.14 241.63 L747.68 242.87 L753.23 244.1 L758.78 245.3 L764.34 246.47 L769.9 247.62 L775.47 248.75 L781.04 249.87 L786.61 250.96 L792.19 252.03 L797.78 253.09 L803.36 254.14 L808.95 255.17 L814.54 256.18 L820.14 257.18 L825.73 258.18 L831.33 259.16 L836.94 260.13 L842.54 261.1 L848.15 262.06 L853.75 263.02 L859.36 263.97 L864.97 264.91 L870.59 265.86 L876.2 266.81 L881.81 267.75 L887.43 268.7 L893.04 269.65 L898.65 270.6 L904.27 271.56 L909.88 272.52 L915.5 273.49 L921.11 274.47 L926.72 275.45 L932.33 276.45 L937.94 277.46 L943.55 278.48 L949.16 279.52 L954.77 280.57 L960.37 281.64 L965.97 282.72 L971.57 283.82 L977.17 284.94 L982.76 286.08 L988.35 287.25 L993.94 288.43 L999.52 289.64 L1005.11 290.88 L1010.68 292.14 L1016.26 293.43 L1021.83 294.74 L1027.39 296.09 L1032.95 297.46 L1038.51 298.87 L1044.06 300.31 L1049.6 301.79 L1055.15 303.29 L1060.68 304.84 L1066.21 306.42 L1071.74 308.04 L1077.25 309.71 L1082.74 311.45 L1088.18 313.27 L1093.57 315.19 L1098.9 317.25 L1104.13 319.45 L1109.27 321.82 L1114.28 324.38 L1119.17 327.15 L1123.92 330.15 L1128.5 333.4 L1132.9 336.9 L1137.09 340.64 L1141.07 344.62 L1144.79 348.81 L1148.24 353.21 L1151.41 357.82 L1154.3 362.61 L1156.94 367.57 L1159.33 372.68 L1161.51 377.92 L1163.48 383.29 L1165.26 388.75 L1166.88 394.31 L1168.34 399.93 L1169.66 405.6 L1170.87 411.31 L1171.97 417.05 L1172.99 422.78 L1173.95 428.51 L1174.85 434.2 L1175.71 439.88 L1176.52 445.53 L1177.28 451.16 L1178 456.78 L1178.69 462.38 L1179.34 467.98 L1179.95 473.58 L1180.53 479.17 L1181.08 484.76 L1181.6 490.36 L1182.09 495.97 L1182.56 501.59 L1183.01 507.22 L1183.44 512.87 L1183.84 518.52 L1184.23 524.19 L1184.61 529.87 L1184.98 535.56 L1185.33 541.25 L1185.67 546.95 L1186.01 552.66 L1186.34 558.37 L1186.67 564.08 L1186.99 569.8 L1187.32 575.52 L1187.65 581.24 L1187.98 586.96 L1188.32 592.68 L1188.66 598.39 L1189.02 604.1 L1189.38 609.81 L1189.76 615.51 L1190.16 621.21 L1190.57 626.9 L1191 632.58 L1191.46 638.25 L1191.93 643.91 L1192.43 649.56 L1192.96 655.2 L1193.51 660.82 L1193.98 666.5" fill="none" stroke="#961400" stroke-width="7.7" stroke-linejoin="round"/>
<path d="M228 81.34 L228.61 87.36 L231.74 91.87 L235.52 95.67 L239.81 98.86 L244.49 101.54 L249.42 103.81 L254.51 105.77 L259.72 107.45 L265.04 108.88 L270.46 110.09 L275.96 111.12 L281.54 111.97 L287.19 112.7 L292.89 113.32 L298.62 113.86 L304.39 114.35 L310.17 114.83 L315.96 115.31 L321.74 115.82 L327.5 116.41 L333.23 117.08 L338.92 117.88 L344.56 118.83 L350.13 119.96 L355.62 121.29 L361.06 122.79 L366.43 124.46 L371.75 126.26 L377.03 128.18 L382.27 130.21 L387.48 132.31 L392.67 134.47 L397.85 136.67 L403.02 138.89 L408.19 141.11 L413.38 143.31 L418.57 145.47 L423.8 147.57 L429.05 149.59 L434.34 151.52 L439.65 153.39 L444.99 155.19 L450.35 156.95 L455.73 158.66 L461.12 160.34 L466.52 162 L471.93 163.65 L477.33 165.3 L482.74 166.96 L488.15 168.63 L493.55 170.31 L498.95 171.99 L504.35 173.68 L509.75 175.38 L515.15 177.08 L520.55 178.79 L525.95 180.5 L531.35 182.21 L536.74 183.93 L542.14 185.65 L547.54 187.37 L552.93 189.09 L558.33 190.8 L563.73 192.52 L569.13 194.24 L574.53 195.95 L579.93 197.66 L585.33 199.36 L590.73 201.06 L596.14 202.75 L601.54 204.44 L606.95 206.11 L612.36 207.78 L617.77 209.44 L623.18 211.1 L628.6 212.74 L634.02 214.36 L639.44 215.98 L644.86 217.59 L650.29 219.18 L655.72 220.75 L661.15 222.31 L666.58 223.86 L672.02 225.39 L677.46 226.9 L682.91 228.39 L688.36 229.86 L693.82 231.32 L699.27 232.75 L704.74 234.16 L710.2 235.55 L715.68 236.92 L721.15 238.27 L726.64 239.59 L732.12 240.88 L737.61 242.15 L743.11 243.39 L748.62 244.61 L754.12 245.8 L759.64 246.97 L765.15 248.12 L770.67 249.25 L776.2 250.35 L781.73 251.44 L787.26 252.51 L792.8 253.57 L798.34 254.61 L803.89 255.63 L809.43 256.64 L814.98 257.65 L820.54 258.64 L826.09 259.62 L831.65 260.59 L837.21 261.55 L842.77 262.51 L848.33 263.46 L853.9 264.41 L859.46 265.36 L865.03 266.31 L870.6 267.25 L876.16 268.2 L881.73 269.14 L887.3 270.09 L892.87 271.05 L898.44 272.01 L904.01 272.97 L909.58 273.94 L915.15 274.93 L920.71 275.92 L926.28 276.92 L931.84 277.93 L937.41 278.96 L942.97 280 L948.53 281.06 L954.08 282.13 L959.64 283.22 L965.19 284.33 L970.74 285.46 L976.29 286.61 L981.83 287.78 L987.37 288.98 L992.91 290.2 L998.44 291.44 L1003.97 292.71 L1009.5 294.01 L1015.02 295.34 L1020.54 296.7 L1026.05 298.09 L1031.56 299.51 L1037.06 300.97 L1042.56 302.46 L1048.05 303.99 L1053.54 305.55 L1059.02 307.15 L1064.49 308.79 L1069.95 310.49 L1075.38 312.25 L1080.75 314.12 L1086.07 316.1 L1091.31 318.21 L1096.45 320.49 L1101.49 322.93 L1106.41 325.58 L1111.18 328.44 L1115.81 331.55 L1120.26 334.9 L1124.52 338.5 L1128.57 342.33 L1132.38 346.38 L1135.95 350.65 L1139.23 355.12 L1142.24 359.78 L1144.98 364.62 L1147.48 369.61 L1149.75 374.75 L1151.81 380.01 L1153.67 385.37 L1155.36 390.84 L1156.88 396.38 L1158.27 401.98 L1159.52 407.63 L1160.67 413.31 L1161.72 419 L1162.69 424.69 L1163.61 430.36 L1164.48 436.01 L1165.3 441.63 L1166.08 447.24 L1166.82 452.82 L1167.52 458.39 L1168.18 463.95 L1168.81 469.51 L1169.4 475.06 L1169.97 480.6 L1170.5 486.16 L1171 491.71 L1171.48 497.28 L1171.94 502.86 L1172.37 508.45 L1172.79 514.06 L1173.19 519.67 L1173.57 525.3 L1173.93 530.93 L1174.29 536.58 L1174.63 542.23 L1174.97 547.88 L1175.3 553.55 L1175.62 559.21 L1175.94 564.88 L1176.26 570.56 L1176.58 576.23 L1176.9 581.91 L1177.23 587.58 L1177.56 593.25 L1177.9 598.93 L1178.25 604.59 L1178.61 610.26 L1178.98 615.91 L1179.37 621.56 L1179.78 627.21 L1180.2 632.84 L1180.65 638.47 L1181.11 644.09 L1181.61 649.69 L1182.12 655.28 L1182.67 660.86 L1183.13 666.5" fill="none" stroke="#b23500" stroke-width="7.7" stroke-linejoin="round"/>
<rect x="451.5" y="408.5" width="493.5" height="264.5" fill="#fff"/>
<rect x="698.25" y="408.5" width="246.75" height="264.5" fill="#f3f4fa"/>
<path d="M506.33 408.5 v8 M506.33 673 v-8 M561.17 408.5 v8 M561.17 673 v-8 M616 408.5 v8 M616 673 v-8 M670.83 408.5 v8 M670.83 673 v-8 M725.67 408.5 v8 M725.67 673 v-8 M780.5 408.5 v8 M780.5 673 v-8 M835.33 408.5 v8 M835.33 673 v-8 M890.17 408.5 v8 M890.17 673 v-8" stroke="#000" stroke-width="3"/>
<path d="M451.5 540.75 h8" stroke="#000033" stroke-width="3"/>
<path d="M945 584.83 h-8 M945 496.67 h-8" stroke="#1393ef" stroke-width="3"/>
<path d="M451.5 408.5 H945 M451.5 673 H945" stroke="#000" stroke-width="3.2"/>
<path d="M451.5 406.9 V674.6" stroke="#000033" stroke-width="3.2"/>
<path d="M945 406.9 V674.6" stroke="#1393ef" stroke-width="3.2"/>
<path d="M451.5 482.02 L461.1 495.12 L451.5 508.22 L441.9 495.12 Z M506.33 514.42 L515.93 527.52 L506.33 540.62 L496.73 527.52 Z M561.17 528.97 L570.77 542.07 L561.17 555.17 L551.57 542.07 Z M616 539.55 L625.6 552.65 L616 565.75 L606.4 552.65 Z M670.83 546.17 L680.43 559.27 L670.83 572.37 L661.23 559.27 Z M725.67 445.66 L735.27 458.76 L725.67 471.86 L716.07 458.76 Z M780.5 445.66 L790.1 458.76 L780.5 471.86 L770.9 458.76 Z M835.33 455.57 L844.93 468.67 L835.33 481.77 L825.73 468.67 Z M890.17 465.49 L899.77 478.59 L890.17 491.69 L880.57 478.59 Z M945 495.91 L954.6 509.01 L945 522.11 L935.4 509.01 Z" fill="none" stroke="#000033" stroke-width="7" stroke-miterlimit="10"/>
<path d="M443.6 627.19 h15.8 v15.8 h-15.8 Z M498.43 502.87 h15.8 v15.8 h-15.8 Z M553.27 495.82 h15.8 v15.8 h-15.8 Z M608.1 490.53 h15.8 v15.8 h-15.8 Z M662.93 490.53 h15.8 v15.8 h-15.8 Z M717.77 471.13 h15.8 v15.8 h-15.8 Z M772.6 493.18 h15.8 v15.8 h-15.8 Z M827.43 487 h15.8 v15.8 h-15.8 Z M882.27 489.65 h15.8 v15.8 h-15.8 Z M937.1 503.76 h15.8 v15.8 h-15.8 Z" fill="none" stroke="#1393ef" stroke-width="6.6" stroke-miterlimit="10"/>
<text transform="translate(437.5,428) scale(1,1.045)" font-size="52" text-anchor="end" fill="#000033" font-weight="normal" >210</text>
<text transform="translate(437.5,560.25) scale(1,1.045)" font-size="52" text-anchor="end" fill="#000033" font-weight="normal" >200</text>
<text transform="translate(437.5,692.5) scale(1,1.045)" font-size="52" text-anchor="end" fill="#000033" font-weight="normal" >190</text>
<text transform="translate(956.5,428.8) scale(1,1.045)" font-size="52" text-anchor="start" fill="#1393ef" font-weight="normal" >110</text>
<text transform="translate(956.5,516.97) scale(1,1.045)" font-size="52" text-anchor="start" fill="#1393ef" font-weight="normal" >100</text>
<text transform="translate(956.5,605.13) scale(1,1.045)" font-size="52" text-anchor="start" fill="#1393ef" font-weight="normal" >90</text>
<text transform="translate(956.5,693.3) scale(1,1.045)" font-size="52" text-anchor="start" fill="#1393ef" font-weight="normal" >80</text>
<text transform="translate(452.5,734.5) scale(1,1.045)" font-size="52" text-anchor="middle" fill="#000" font-weight="normal" >1</text>
<text transform="translate(507.33,734.5) scale(1,1.045)" font-size="52" text-anchor="middle" fill="#000" font-weight="normal" >2</text>
<text transform="translate(562.17,734.5) scale(1,1.045)" font-size="52" text-anchor="middle" fill="#000" font-weight="normal" >3</text>
<text transform="translate(617,734.5) scale(1,1.045)" font-size="52" text-anchor="middle" fill="#000" font-weight="normal" >4</text>
<text transform="translate(671.83,734.5) scale(1,1.045)" font-size="52" text-anchor="middle" fill="#000" font-weight="normal" >5</text>
<text transform="translate(726.67,734.5) scale(1,1.045)" font-size="52" text-anchor="middle" fill="#000" font-weight="normal" >6</text>
<text transform="translate(781.5,734.5) scale(1,1.045)" font-size="52" text-anchor="middle" fill="#000" font-weight="normal" >7</text>
<text transform="translate(836.33,734.5) scale(1,1.045)" font-size="52" text-anchor="middle" fill="#000" font-weight="normal" >8</text>
<text transform="translate(891.17,734.5) scale(1,1.045)" font-size="52" text-anchor="middle" fill="#000" font-weight="normal" >9</text>
<text transform="translate(945,734.5) scale(1,1.045)" font-size="52" text-anchor="middle" fill="#000" font-weight="normal" >10</text>
<text transform="translate(699.25,791) scale(1,1.045)" font-size="45" text-anchor="middle" fill="#000" font-weight="normal" >Cycle number</text>
<text transform="translate(558.17,392.5) scale(1,1.045)" font-size="44" text-anchor="middle" fill="#000" font-weight="normal" >0.2</text>
<text transform="translate(708.5,392.3) scale(1,1.045)" font-size="46" text-anchor="start" fill="#000" font-weight="normal" >0.1 mA cm<tspan dy="-19.3" font-size="37">-2</tspan></text>
<text transform="translate(335.4,541.45) rotate(-90) scale(1,1.045)" font-size="46.8" text-anchor="middle" fill="#000033">Capacity (mAh g<tspan dy="-19.5" font-size="37.5">-1</tspan><tspan dy="19.5">)</tspan></text>
<text transform="translate(1099.5,541.75) rotate(-90) scale(1,1.045)" font-size="46.4" text-anchor="middle" fill="#1393ef">CE (%)</text>
<path d="M228 832.84 v-13.7 M228 34.6 v13.7 M275.19 832.84 v-13.7 M275.19 34.6 v13.7 M322.38 832.84 v-13.7 M322.38 34.6 v13.7 M369.57 832.84 v-13.7 M369.57 34.6 v13.7 M416.76 832.84 v-13.7 M416.76 34.6 v13.7 M463.95 832.84 v-13.7 M463.95 34.6 v13.7 M511.14 832.84 v-13.7 M511.14 34.6 v13.7 M558.33 832.84 v-13.7 M558.33 34.6 v13.7 M605.52 832.84 v-13.7 M605.52 34.6 v13.7 M652.71 832.84 v-13.7 M652.71 34.6 v13.7 M699.9 832.84 v-13.7 M699.9 34.6 v13.7 M747.09 832.84 v-13.7 M747.09 34.6 v13.7 M794.28 832.84 v-13.7 M794.28 34.6 v13.7 M841.47 832.84 v-13.7 M841.47 34.6 v13.7 M888.66 832.84 v-13.7 M888.66 34.6 v13.7 M935.85 832.84 v-13.7 M935.85 34.6 v13.7 M983.04 832.84 v-13.7 M983.04 34.6 v13.7 M1030.23 832.84 v-13.7 M1030.23 34.6 v13.7 M1077.42 832.84 v-13.7 M1077.42 34.6 v13.7 M1124.61 832.84 v-13.7 M1124.61 34.6 v13.7 M1171.8 832.84 v-13.7 M1171.8 34.6 v13.7 M1218.99 832.84 v-13.7 M1218.99 34.6 v13.7 M1266.18 832.84 v-13.7 M1266.18 34.6 v13.7 M1313.37 832.84 v-13.7 M1313.37 34.6 v13.7 M1360.56 832.84 v-13.7 M1360.56 34.6 v13.7 M1407.75 832.84 v-13.7 M1407.75 34.6 v13.7 M204.41 34.6 h13.7 M1407.75 34.6 h-13.7 M204.41 101.12 h13.7 M1407.75 101.12 h-13.7 M204.41 167.64 h13.7 M1407.75 167.64 h-13.7 M204.41 234.16 h13.7 M1407.75 234.16 h-13.7 M204.41 300.68 h13.7 M1407.75 300.68 h-13.7 M204.41 367.2 h13.7 M1407.75 367.2 h-13.7 M204.41 433.72 h13.7 M1407.75 433.72 h-13.7 M204.41 500.24 h13.7 M1407.75 500.24 h-13.7 M204.41 566.76 h13.7 M1407.75 566.76 h-13.7 M204.41 633.28 h13.7 M1407.75 633.28 h-13.7 M204.41 699.8 h13.7 M1407.75 699.8 h-13.7 M204.41 766.32 h13.7 M1407.75 766.32 h-13.7 M204.41 832.84 h13.7 M1407.75 832.84 h-13.7" stroke="#000" stroke-width="4" fill="none"/>
<rect x="204.41" y="34.6" width="1203.35" height="798.24" fill="none" stroke="#000" stroke-width="4"/>
<text transform="translate(184.41,55.6) scale(1,1.045)" font-size="59" text-anchor="end" fill="#000" font-weight="normal" >4.4</text>
<text transform="translate(184.41,188.64) scale(1,1.045)" font-size="59" text-anchor="end" fill="#000" font-weight="normal" >4</text>
<text transform="translate(184.41,321.68) scale(1,1.045)" font-size="59" text-anchor="end" fill="#000" font-weight="normal" >3.6</text>
<text transform="translate(184.41,454.72) scale(1,1.045)" font-size="59" text-anchor="end" fill="#000" font-weight="normal" >3.2</text>
<text transform="translate(184.41,587.76) scale(1,1.045)" font-size="59" text-anchor="end" fill="#000" font-weight="normal" >2.8</text>
<text transform="translate(184.41,720.8) scale(1,1.045)" font-size="59" text-anchor="end" fill="#000" font-weight="normal" >2.4</text>
<text transform="translate(184.41,853.84) scale(1,1.045)" font-size="59" text-anchor="end" fill="#000" font-weight="normal" >2</text>
<text transform="translate(226.5,906.84) scale(1,1.045)" font-size="59" text-anchor="middle" fill="#000" font-weight="normal" >0</text>
<text transform="translate(462.45,906.84) scale(1,1.045)" font-size="59" text-anchor="middle" fill="#000" font-weight="normal" >50</text>
<text transform="translate(698.4,906.84) scale(1,1.045)" font-size="59" text-anchor="middle" fill="#000" font-weight="normal" >100</text>
<text transform="translate(934.35,906.84) scale(1,1.045)" font-size="59" text-anchor="middle" fill="#000" font-weight="normal" >150</text>
<text transform="translate(1170.3,906.84) scale(1,1.045)" font-size="59" text-anchor="middle" fill="#000" font-weight="normal" >200</text>
<text transform="translate(1406.25,906.84) scale(1,1.045)" font-size="59" text-anchor="middle" fill="#000" font-weight="normal" >250</text>
<text transform="translate(529.9,1005) scale(1,1.045)" font-size="64.6" text-anchor="start" fill="#000" font-weight="normal" letter-spacing="0.12">Capacity (mAh g</text>
<text transform="translate(1010.7,973.7) scale(1,1.045)" font-size="52.2" text-anchor="start" fill="#000" font-weight="normal" >-1</text>
<text transform="translate(1061.5,1005) scale(1,1.045)" font-size="64.6" text-anchor="start" fill="#000" font-weight="normal" >)</text>
<text transform="translate(76.81,732) rotate(-90) scale(1,1.045)" font-size="65">Voltage (V vs. Li/Li<tspan dy="-30.5" dx="2.5" font-size="52">+</tspan><tspan dy="30.5" dx="2.5">)</tspan></text>
<text transform="translate(2,1113) scale(1,1.045)" font-size="60" text-anchor="start" fill="#000" font-weight="bold" >b</text>
<path d="M234.55 1380.05 L235.75 1374.88 L239.29 1372.11 L243.57 1370.26 L248.25 1368.93 L253.05 1367.75 L257.86 1366.6 L262.69 1365.48 L267.53 1364.38 L272.39 1363.31 L277.26 1362.27 L282.14 1361.25 L287.04 1360.25 L291.94 1359.26 L296.85 1358.3 L301.76 1357.35 L306.69 1356.41 L311.62 1355.49 L316.55 1354.58 L321.49 1353.68 L326.43 1352.79 L331.37 1351.9 L336.31 1351.02 L341.25 1350.15 L346.19 1349.28 L351.14 1348.41 L356.08 1347.55 L361.03 1346.7 L365.97 1345.84 L370.91 1344.99 L375.86 1344.15 L380.81 1343.31 L385.75 1342.47 L390.7 1341.63 L395.64 1340.8 L400.59 1339.97 L405.54 1339.14 L410.48 1338.31 L415.43 1337.49 L420.37 1336.66 L425.32 1335.84 L430.26 1335.02 L435.21 1334.19 L440.15 1333.37 L445.1 1332.55 L450.04 1331.72 L454.98 1330.9 L459.93 1330.08 L464.87 1329.25 L469.81 1328.42 L474.75 1327.59 L479.69 1326.76 L484.63 1325.93 L489.57 1325.09 L494.51 1324.26 L499.44 1323.41 L504.38 1322.57 L509.31 1321.72 L514.25 1320.87 L519.18 1320.01 L524.11 1319.15 L529.04 1318.29 L533.97 1317.42 L538.9 1316.54 L543.82 1315.66 L548.75 1314.78 L553.67 1313.89 L558.59 1312.99 L563.51 1312.09 L568.43 1311.18 L573.34 1310.26 L578.26 1309.33 L583.17 1308.4 L588.08 1307.46 L592.99 1306.51 L597.9 1305.56 L602.8 1304.59 L607.7 1303.62 L612.6 1302.64 L617.5 1301.65 L622.4 1300.65 L627.29 1299.63 L632.18 1298.61 L637.07 1297.58 L641.96 1296.54 L646.85 1295.49 L651.73 1294.43 L656.61 1293.35 L661.48 1292.26 L666.36 1291.17 L671.23 1290.06 L676.1 1288.93 L680.96 1287.8 L685.83 1286.65 L690.69 1285.49 L695.54 1284.31 L700.4 1283.13 L705.25 1281.92 L710.09 1280.71 L714.94 1279.48 L719.78 1278.23 L724.62 1276.97 L729.45 1275.69 L734.28 1274.4 L739.11 1273.09 L743.94 1271.77 L748.76 1270.43 L753.58 1269.08 L758.39 1267.71 L763.2 1266.32 L768.01 1264.92 L772.81 1263.51 L777.62 1262.09 L782.42 1260.66 L787.22 1259.21 L792.01 1257.76 L796.81 1256.3 L801.6 1254.82 L806.39 1253.35 L811.18 1251.86 L815.96 1250.37 L820.75 1248.87 L825.54 1247.37 L830.32 1245.86 L835.1 1244.35 L839.89 1242.84 L844.67 1241.33 L849.45 1239.82 L854.23 1238.3 L859.01 1236.79 L863.8 1235.28 L868.58 1233.77 L873.36 1232.26 L878.15 1230.75 L882.93 1229.25 L887.72 1227.76 L892.5 1226.27 L897.29 1224.79 L902.08 1223.31 L906.87 1221.84 L911.66 1220.38 L916.46 1218.93 L921.25 1217.49 L926.05 1216.06 L930.85 1214.65 L935.65 1213.24 L940.46 1211.85 L945.27 1210.47 L950.08 1209.11 L954.89 1207.76 L959.71 1206.42 L964.53 1205.09 L969.35 1203.77 L974.16 1202.44 L978.98 1201.1 L983.79 1199.74 L988.59 1198.37 L993.38 1196.97 L998.17 1195.53 L1002.94 1194.06 L1007.7 1192.54 L1012.45 1190.97 L1017.18 1189.35 L1021.9 1187.67 L1026.6 1185.92 L1031.28 1184.1 L1035.94 1182.21 L1040.59 1180.29 L1045.25 1178.39 L1049.92 1176.56 L1054.63 1174.84 L1059.37 1173.28 L1064.16 1171.89 L1068.99 1170.65 L1073.86 1169.55 L1078.75 1168.56 L1083.67 1167.68 L1088.62 1166.89 L1093.58 1166.17 L1098.56 1165.5 L1103.54 1164.87 L1108.53 1164.26 L1113.53 1163.66 L1118.51 1163.02 L1123.48 1162.32 L1128.43 1161.53 L1133.34 1160.61 L1138.22 1159.52 L1143.05 1158.26 L1147.83 1156.84 L1152.57 1155.26 L1157.26 1153.53 L1161.9 1151.66 L1166.48 1149.65 L1171.02 1147.51 L1175.49 1145.24 L1179.91 1142.87 L1184.27 1140.39 L1188.57 1137.8 L1192.84 1135.19" fill="none" stroke="#000a5c" stroke-width="7.7" stroke-linejoin="round"/>
<path d="M234.55 1377.37 L235.79 1372.3 L239.37 1369.67 L243.66 1367.93 L248.34 1366.68 L253.11 1365.56 L257.9 1364.46 L262.71 1363.39 L267.52 1362.34 L272.35 1361.31 L277.19 1360.3 L282.04 1359.3 L286.9 1358.32 L291.77 1357.36 L296.64 1356.42 L301.52 1355.48 L306.41 1354.56 L311.3 1353.65 L316.2 1352.75 L321.1 1351.86 L326 1350.97 L330.9 1350.09 L335.81 1349.22 L340.71 1348.35 L345.61 1347.49 L350.52 1346.64 L355.42 1345.78 L360.33 1344.94 L365.24 1344.09 L370.14 1343.25 L375.05 1342.42 L379.96 1341.58 L384.87 1340.75 L389.78 1339.93 L394.68 1339.1 L399.59 1338.28 L404.5 1337.46 L409.41 1336.64 L414.32 1335.83 L419.23 1335.01 L424.13 1334.2 L429.04 1333.38 L433.95 1332.57 L438.86 1331.76 L443.76 1330.94 L448.67 1330.13 L453.58 1329.32 L458.48 1328.5 L463.39 1327.69 L468.29 1326.87 L473.19 1326.05 L478.1 1325.23 L483 1324.41 L487.9 1323.58 L492.8 1322.75 L497.7 1321.92 L502.6 1321.09 L507.5 1320.25 L512.39 1319.41 L517.29 1318.56 L522.18 1317.71 L527.07 1316.86 L531.97 1316 L536.86 1315.14 L541.74 1314.27 L546.63 1313.39 L551.52 1312.51 L556.4 1311.62 L561.28 1310.73 L566.17 1309.83 L571.04 1308.92 L575.92 1308.01 L580.8 1307.09 L585.67 1306.16 L590.54 1305.22 L595.41 1304.28 L600.28 1303.32 L605.15 1302.36 L610.01 1301.39 L614.87 1300.41 L619.73 1299.42 L624.59 1298.42 L629.44 1297.41 L634.3 1296.39 L639.15 1295.36 L643.99 1294.31 L648.84 1293.26 L653.68 1292.2 L658.52 1291.12 L663.36 1290.03 L668.19 1288.93 L673.02 1287.82 L677.85 1286.7 L682.68 1285.56 L687.5 1284.41 L692.32 1283.24 L697.14 1282.06 L701.95 1280.87 L706.76 1279.67 L711.57 1278.45 L716.38 1277.21 L721.18 1275.96 L725.97 1274.69 L730.77 1273.41 L735.56 1272.11 L740.35 1270.8 L745.13 1269.47 L749.91 1268.12 L754.69 1266.76 L759.46 1265.39 L764.23 1264 L769 1262.6 L773.77 1261.19 L778.53 1259.76 L783.29 1258.33 L788.05 1256.88 L792.81 1255.43 L797.56 1253.97 L802.31 1252.5 L807.07 1251.02 L811.82 1249.54 L816.57 1248.05 L821.31 1246.56 L826.06 1245.07 L830.81 1243.57 L835.55 1242.07 L840.3 1240.56 L845.04 1239.06 L849.79 1237.55 L854.53 1236.05 L859.28 1234.55 L864.02 1233.05 L868.77 1231.55 L873.52 1230.06 L878.26 1228.57 L883.01 1227.08 L887.76 1225.6 L892.51 1224.13 L897.26 1222.66 L902.02 1221.21 L906.77 1219.76 L911.53 1218.32 L916.29 1216.89 L921.05 1215.47 L925.81 1214.06 L930.58 1212.67 L935.35 1211.29 L940.12 1209.92 L944.9 1208.57 L949.68 1207.23 L954.46 1205.91 L959.24 1204.59 L964.02 1203.28 L968.8 1201.96 L973.58 1200.63 L978.35 1199.28 L983.11 1197.92 L987.87 1196.53 L992.62 1195.1 L997.35 1193.64 L1002.08 1192.13 L1006.79 1190.58 L1011.49 1188.96 L1016.17 1187.29 L1020.83 1185.55 L1025.47 1183.73 L1030.09 1181.85 L1034.71 1179.94 L1039.33 1178.06 L1043.97 1176.24 L1048.63 1174.53 L1053.34 1172.99 L1058.1 1171.61 L1062.89 1170.38 L1067.72 1169.29 L1072.57 1168.32 L1077.46 1167.45 L1082.37 1166.66 L1087.29 1165.95 L1092.23 1165.29 L1097.18 1164.68 L1102.14 1164.08 L1107.09 1163.49 L1112.04 1162.86 L1116.97 1162.17 L1121.88 1161.39 L1126.75 1160.47 L1131.59 1159.4 L1136.39 1158.15 L1141.13 1156.73 L1145.83 1155.16 L1150.49 1153.44 L1155.09 1151.58 L1159.64 1149.58 L1164.13 1147.45 L1168.57 1145.2 L1172.95 1142.83 L1177.28 1140.36 L1181.54 1137.79 L1185.77 1135.19" fill="none" stroke="#0a1fa8" stroke-width="7.7" stroke-linejoin="round"/>
<path d="M234.55 1375.7 L235.84 1370.72 L239.48 1368.22 L243.8 1366.58 L248.47 1365.41 L253.24 1364.35 L258.02 1363.3 L262.82 1362.27 L267.62 1361.26 L272.43 1360.26 L277.26 1359.28 L282.09 1358.31 L286.93 1357.35 L291.78 1356.4 L296.63 1355.47 L301.49 1354.55 L306.36 1353.63 L311.22 1352.73 L316.1 1351.83 L320.97 1350.94 L325.85 1350.06 L330.73 1349.18 L335.61 1348.31 L340.49 1347.45 L345.37 1346.59 L350.25 1345.74 L355.13 1344.89 L360.01 1344.04 L364.9 1343.2 L369.78 1342.37 L374.67 1341.53 L379.55 1340.7 L384.43 1339.88 L389.32 1339.06 L394.2 1338.24 L399.09 1337.42 L403.97 1336.6 L408.86 1335.79 L413.74 1334.97 L418.63 1334.16 L423.51 1333.35 L428.4 1332.54 L433.28 1331.74 L438.17 1330.93 L443.05 1330.12 L447.94 1329.31 L452.82 1328.5 L457.7 1327.69 L462.58 1326.88 L467.46 1326.07 L472.34 1325.25 L477.22 1324.44 L482.1 1323.62 L486.98 1322.8 L491.86 1321.98 L496.74 1321.15 L501.61 1320.32 L506.49 1319.49 L511.36 1318.65 L516.23 1317.81 L521.1 1316.97 L525.97 1316.12 L530.84 1315.27 L535.71 1314.41 L540.58 1313.54 L545.44 1312.67 L550.3 1311.8 L555.17 1310.92 L560.03 1310.03 L564.88 1309.14 L569.74 1308.23 L574.6 1307.33 L579.45 1306.41 L584.3 1305.49 L589.15 1304.56 L594 1303.62 L598.84 1302.67 L603.69 1301.71 L608.53 1300.75 L613.37 1299.77 L618.2 1298.79 L623.04 1297.79 L627.87 1296.79 L632.7 1295.77 L637.53 1294.75 L642.35 1293.71 L647.17 1292.66 L651.99 1291.6 L656.81 1290.53 L661.63 1289.45 L666.44 1288.36 L671.25 1287.25 L676.05 1286.13 L680.86 1285 L685.66 1283.85 L690.45 1282.69 L695.25 1281.52 L700.04 1280.33 L704.83 1279.13 L709.61 1277.92 L714.39 1276.69 L719.17 1275.44 L723.95 1274.18 L728.72 1272.9 L733.49 1271.61 L738.25 1270.3 L743.01 1268.98 L747.77 1267.63 L752.52 1266.28 L757.27 1264.91 L762.02 1263.53 L766.77 1262.13 L771.51 1260.72 L776.25 1259.3 L780.99 1257.87 L785.72 1256.43 L790.46 1254.98 L795.19 1253.53 L799.92 1252.06 L804.65 1250.59 L809.38 1249.11 L814.1 1247.63 L818.83 1246.14 L823.55 1244.65 L828.27 1243.16 L833 1241.66 L837.72 1240.16 L842.44 1238.66 L847.16 1237.16 L851.88 1235.66 L856.61 1234.17 L861.33 1232.67 L866.05 1231.18 L870.78 1229.69 L875.5 1228.2 L880.23 1226.72 L884.95 1225.25 L889.68 1223.78 L894.41 1222.32 L899.14 1220.87 L903.87 1219.43 L908.61 1217.99 L913.34 1216.57 L918.08 1215.16 L922.82 1213.76 L927.57 1212.37 L932.32 1210.99 L937.06 1209.63 L941.82 1208.29 L946.57 1206.95 L951.33 1205.64 L956.09 1204.33 L960.85 1203.02 L965.61 1201.7 L970.36 1200.38 L975.11 1199.04 L979.85 1197.69 L984.59 1196.3 L989.31 1194.88 L994.03 1193.42 L998.73 1191.92 L1003.42 1190.37 L1008.09 1188.76 L1012.75 1187.09 L1017.38 1185.36 L1022 1183.54 L1026.6 1181.67 L1031.2 1179.76 L1035.79 1177.88 L1040.41 1176.07 L1045.05 1174.37 L1049.74 1172.83 L1054.47 1171.46 L1059.24 1170.24 L1064.05 1169.15 L1068.88 1168.19 L1073.74 1167.32 L1078.63 1166.55 L1083.53 1165.84 L1088.45 1165.19 L1093.38 1164.58 L1098.31 1163.99 L1103.24 1163.4 L1108.16 1162.78 L1113.07 1162.1 L1117.96 1161.32 L1122.81 1160.41 L1127.63 1159.33 L1132.4 1158.09 L1137.12 1156.68 L1141.8 1155.11 L1146.43 1153.39 L1151.01 1151.53 L1155.53 1149.54 L1160 1147.41 L1164.42 1145.17 L1168.78 1142.81 L1173.08 1140.35 L1177.32 1137.78 L1181.52 1135.19" fill="none" stroke="#1547e6" stroke-width="7.7" stroke-linejoin="round"/>
<path d="M234.55 1374.02 L235.91 1369.13 L239.63 1366.76 L243.99 1365.23 L248.69 1364.13 L253.47 1363.13 L258.27 1362.14 L263.07 1361.16 L267.88 1360.18 L272.7 1359.22 L277.53 1358.26 L282.36 1357.32 L287.21 1356.38 L292.06 1355.45 L296.91 1354.53 L301.77 1353.61 L306.63 1352.7 L311.5 1351.8 L316.37 1350.91 L321.24 1350.03 L326.12 1349.15 L330.99 1348.27 L335.87 1347.41 L340.75 1346.54 L345.62 1345.69 L350.5 1344.84 L355.38 1343.99 L360.26 1343.15 L365.14 1342.31 L370.02 1341.48 L374.9 1340.65 L379.79 1339.83 L384.67 1339 L389.55 1338.18 L394.43 1337.37 L399.32 1336.55 L404.2 1335.74 L409.08 1334.93 L413.96 1334.12 L418.85 1333.32 L423.73 1332.51 L428.61 1331.71 L433.49 1330.9 L438.38 1330.1 L443.26 1329.29 L448.14 1328.49 L453.02 1327.69 L457.9 1326.88 L462.78 1326.08 L467.66 1325.27 L472.54 1324.46 L477.42 1323.65 L482.3 1322.84 L487.17 1322.02 L492.05 1321.2 L496.92 1320.38 L501.8 1319.56 L506.67 1318.73 L511.54 1317.9 L516.41 1317.07 L521.28 1316.23 L526.15 1315.39 L531.02 1314.54 L535.88 1313.68 L540.75 1312.83 L545.61 1311.96 L550.47 1311.09 L555.33 1310.22 L560.19 1309.34 L565.05 1308.45 L569.9 1307.55 L574.76 1306.65 L579.61 1305.74 L584.46 1304.82 L589.31 1303.9 L594.15 1302.96 L599 1302.02 L603.84 1301.07 L608.68 1300.11 L613.52 1299.14 L618.35 1298.16 L623.19 1297.17 L628.02 1296.18 L632.84 1295.17 L637.67 1294.15 L642.49 1293.12 L647.32 1292.08 L652.13 1291.02 L656.95 1289.96 L661.76 1288.88 L666.57 1287.79 L671.38 1286.69 L676.19 1285.58 L680.99 1284.45 L685.79 1283.31 L690.58 1282.16 L695.38 1280.99 L700.17 1279.81 L704.95 1278.61 L709.74 1277.4 L714.52 1276.17 L719.29 1274.93 L724.07 1273.68 L728.84 1272.41 L733.6 1271.12 L738.37 1269.81 L743.12 1268.49 L747.88 1267.16 L752.63 1265.81 L757.38 1264.44 L762.13 1263.06 L766.87 1261.67 L771.62 1260.27 L776.35 1258.85 L781.09 1257.43 L785.82 1255.99 L790.56 1254.55 L795.29 1253.09 L800.02 1251.63 L804.74 1250.17 L809.47 1248.69 L814.19 1247.22 L818.92 1245.73 L823.64 1244.25 L828.36 1242.76 L833.08 1241.26 L837.8 1239.77 L842.52 1238.28 L847.24 1236.78 L851.97 1235.29 L856.69 1233.79 L861.41 1232.3 L866.13 1230.81 L870.85 1229.33 L875.57 1227.85 L880.3 1226.38 L885.02 1224.91 L889.75 1223.45 L894.48 1221.99 L899.21 1220.54 L903.94 1219.11 L908.67 1217.68 L913.41 1216.26 L918.15 1214.85 L922.89 1213.46 L927.63 1212.08 L932.38 1210.71 L937.12 1209.35 L941.88 1208.01 L946.63 1206.69 L951.39 1205.37 L956.15 1204.07 L960.9 1202.77 L965.66 1201.46 L970.41 1200.15 L975.16 1198.81 L979.9 1197.46 L984.64 1196.08 L989.36 1194.67 L994.07 1193.21 L998.78 1191.72 L1003.46 1190.17 L1008.14 1188.57 L1012.79 1186.9 L1017.43 1185.17 L1022.04 1183.36 L1026.64 1181.49 L1031.23 1179.59 L1035.83 1177.71 L1040.44 1175.9 L1045.09 1174.21 L1049.77 1172.68 L1054.5 1171.31 L1059.27 1170.1 L1064.08 1169.02 L1068.91 1168.06 L1073.77 1167.2 L1078.66 1166.43 L1083.56 1165.74 L1088.47 1165.09 L1093.4 1164.48 L1098.33 1163.9 L1103.26 1163.32 L1108.18 1162.7 L1113.09 1162.02 L1117.97 1161.25 L1122.82 1160.34 L1127.63 1159.27 L1132.4 1158.03 L1137.13 1156.63 L1141.8 1155.07 L1146.43 1153.36 L1151.01 1151.5 L1155.53 1149.51 L1160.01 1147.39 L1164.42 1145.15 L1168.78 1142.8 L1173.08 1140.34 L1177.32 1137.78 L1181.52 1135.19" fill="none" stroke="#1690f0" stroke-width="7.7" stroke-linejoin="round"/>
<path d="M234.55 1383.41 L235.5 1378.06 L238.75 1374.92 L242.8 1372.76 L247.34 1371.19 L252.04 1369.84 L256.77 1368.55 L261.52 1367.3 L266.29 1366.1 L271.09 1364.94 L275.9 1363.81 L280.72 1362.73 L285.56 1361.67 L290.42 1360.65 L295.28 1359.65 L300.16 1358.67 L305.04 1357.72 L309.93 1356.79 L314.83 1355.87 L319.73 1354.96 L324.64 1354.07 L329.55 1353.18 L334.46 1352.3 L339.37 1351.43 L344.28 1350.56 L349.19 1349.69 L354.1 1348.83 L359.01 1347.97 L363.92 1347.11 L368.83 1346.26 L373.74 1345.41 L378.65 1344.57 L383.56 1343.73 L388.48 1342.89 L393.39 1342.05 L398.3 1341.21 L403.21 1340.38 L408.12 1339.55 L413.03 1338.72 L417.94 1337.89 L422.85 1337.06 L427.76 1336.23 L432.67 1335.4 L437.58 1334.57 L442.49 1333.74 L447.4 1332.91 L452.31 1332.08 L457.21 1331.25 L462.12 1330.42 L467.03 1329.58 L471.93 1328.75 L476.84 1327.91 L481.74 1327.07 L486.64 1326.22 L491.54 1325.38 L496.44 1324.53 L501.34 1323.68 L506.24 1322.82 L511.13 1321.96 L516.03 1321.1 L520.92 1320.23 L525.82 1319.35 L530.71 1318.47 L535.6 1317.59 L540.49 1316.7 L545.37 1315.81 L550.26 1314.91 L555.14 1314 L560.03 1313.09 L564.91 1312.17 L569.79 1311.24 L574.66 1310.31 L579.54 1309.37 L584.41 1308.42 L589.28 1307.46 L594.15 1306.5 L599.02 1305.52 L603.88 1304.54 L608.75 1303.55 L613.61 1302.55 L618.47 1301.54 L623.32 1300.52 L628.18 1299.49 L633.03 1298.45 L637.88 1297.4 L642.72 1296.34 L647.57 1295.27 L652.41 1294.18 L657.25 1293.09 L662.08 1291.98 L666.92 1290.86 L671.75 1289.73 L676.58 1288.59 L681.4 1287.43 L686.22 1286.26 L691.04 1285.08 L695.86 1283.88 L700.67 1282.67 L705.48 1281.45 L710.29 1280.21 L715.09 1278.96 L719.89 1277.69 L724.69 1276.41 L729.48 1275.11 L734.27 1273.79 L739.06 1272.46 L743.84 1271.12 L748.62 1269.76 L753.4 1268.38 L758.17 1266.99 L762.94 1265.59 L767.71 1264.17 L772.48 1262.74 L777.24 1261.3 L782 1259.85 L786.76 1258.39 L791.52 1256.93 L796.27 1255.45 L801.02 1253.96 L805.77 1252.47 L810.52 1250.98 L815.27 1249.47 L820.02 1247.96 L824.77 1246.45 L829.51 1244.94 L834.26 1243.42 L839 1241.9 L843.75 1240.38 L848.49 1238.86 L853.23 1237.34 L857.98 1235.82 L862.72 1234.31 L867.47 1232.79 L872.21 1231.28 L876.96 1229.77 L881.71 1228.27 L886.45 1226.78 L891.2 1225.29 L895.95 1223.8 L900.71 1222.33 L905.46 1220.86 L910.22 1219.4 L914.97 1217.95 L919.73 1216.51 L924.5 1215.09 L929.26 1213.67 L934.03 1212.27 L938.8 1210.88 L943.57 1209.51 L948.34 1208.15 L953.12 1206.8 L957.9 1205.46 L962.68 1204.13 L967.46 1202.79 L972.23 1201.44 L977 1200.07 L981.76 1198.69 L986.52 1197.28 L991.26 1195.83 L996 1194.35 L1000.72 1192.83 L1005.43 1191.26 L1010.13 1189.63 L1014.8 1187.94 L1019.46 1186.18 L1024.1 1184.36 L1028.73 1182.46 L1033.34 1180.54 L1037.96 1178.64 L1042.6 1176.8 L1047.26 1175.08 L1051.97 1173.51 L1056.72 1172.11 L1061.51 1170.86 L1066.33 1169.74 L1071.19 1168.75 L1076.07 1167.85 L1080.98 1167.05 L1085.91 1166.32 L1090.85 1165.64 L1095.8 1165 L1100.75 1164.38 L1105.71 1163.77 L1110.66 1163.12 L1115.59 1162.42 L1120.5 1161.62 L1125.38 1160.68 L1130.22 1159.59 L1135.01 1158.33 L1139.76 1156.9 L1144.46 1155.31 L1149.11 1153.57 L1153.7 1151.69 L1158.25 1149.68 L1162.74 1147.53 L1167.18 1145.26 L1171.55 1142.88 L1175.87 1140.39 L1180.13 1137.81 L1184.35 1135.19" fill="none" stroke="#240008" stroke-width="7.7" stroke-linejoin="round"/>
<path d="M234.54 1387.09 L235.52 1381.56 L238.78 1378.21 L242.9 1375.89 L247.54 1374.2 L252.37 1372.77 L257.23 1371.41 L262.12 1370.1 L267.02 1368.84 L271.95 1367.63 L276.9 1366.46 L281.86 1365.33 L286.84 1364.25 L291.84 1363.19 L296.85 1362.17 L301.87 1361.17 L306.89 1360.2 L311.93 1359.25 L316.98 1358.32 L322.02 1357.4 L327.08 1356.5 L332.13 1355.6 L337.19 1354.71 L342.24 1353.82 L347.3 1352.94 L352.35 1352.06 L357.41 1351.19 L362.47 1350.32 L367.52 1349.45 L372.58 1348.59 L377.64 1347.73 L382.69 1346.87 L387.75 1346.02 L392.81 1345.17 L397.87 1344.32 L402.92 1343.47 L407.98 1342.62 L413.04 1341.78 L418.09 1340.94 L423.15 1340.09 L428.21 1339.25 L433.26 1338.41 L438.32 1337.57 L443.37 1336.73 L448.43 1335.89 L453.48 1335.04 L458.53 1334.2 L463.59 1333.36 L468.64 1332.51 L473.69 1331.67 L478.74 1330.82 L483.79 1329.97 L488.84 1329.11 L493.88 1328.26 L498.93 1327.4 L503.98 1326.53 L509.02 1325.67 L514.06 1324.8 L519.11 1323.93 L524.15 1323.05 L529.19 1322.17 L534.23 1321.28 L539.26 1320.39 L544.3 1319.49 L549.33 1318.59 L554.36 1317.68 L559.4 1316.77 L564.42 1315.85 L569.45 1314.93 L574.48 1313.99 L579.5 1313.05 L584.53 1312.11 L589.55 1311.15 L594.57 1310.19 L599.58 1309.22 L604.6 1308.24 L609.61 1307.25 L614.62 1306.26 L619.63 1305.26 L624.64 1304.24 L629.64 1303.22 L634.64 1302.19 L639.64 1301.14 L644.64 1300.09 L649.64 1299.03 L654.63 1297.95 L659.62 1296.87 L664.61 1295.77 L669.59 1294.66 L674.58 1293.54 L679.56 1292.41 L684.53 1291.27 L689.51 1290.11 L694.48 1288.94 L699.45 1287.76 L704.41 1286.56 L709.38 1285.35 L714.34 1284.13 L719.29 1282.89 L724.25 1281.64 L729.2 1280.38 L734.14 1279.1 L739.09 1277.8 L744.03 1276.49 L748.97 1275.16 L753.9 1273.82 L758.83 1272.46 L763.76 1271.09 L768.68 1269.7 L773.61 1268.3 L778.52 1266.88 L783.44 1265.45 L788.35 1264.01 L793.26 1262.56 L798.17 1261.09 L803.08 1259.62 L807.98 1258.14 L812.89 1256.65 L817.79 1255.15 L822.69 1253.65 L827.58 1252.13 L832.48 1250.62 L837.38 1249.1 L842.27 1247.57 L847.16 1246.04 L852.06 1244.51 L856.95 1242.98 L861.84 1241.45 L866.73 1239.91 L871.63 1238.38 L876.52 1236.85 L881.41 1235.31 L886.3 1233.79 L891.2 1232.26 L896.09 1230.74 L900.99 1229.22 L905.88 1227.71 L910.78 1226.21 L915.68 1224.71 L920.58 1223.22 L925.48 1221.74 L930.38 1220.26 L935.29 1218.8 L940.19 1217.35 L945.1 1215.91 L950.02 1214.48 L954.93 1213.06 L959.85 1211.66 L964.77 1210.27 L969.69 1208.89 L974.61 1207.53 L979.54 1206.18 L984.47 1204.83 L989.39 1203.47 L994.31 1202.11 L999.23 1200.73 L1004.14 1199.33 L1009.04 1197.91 L1013.93 1196.45 L1018.82 1194.95 L1023.69 1193.42 L1028.55 1191.83 L1033.39 1190.19 L1038.22 1188.49 L1043.03 1186.72 L1047.82 1184.88 L1052.59 1182.97 L1057.36 1181.03 L1062.12 1179.11 L1066.91 1177.26 L1071.72 1175.51 L1076.58 1173.92 L1081.47 1172.5 L1086.41 1171.23 L1091.38 1170.1 L1096.38 1169.09 L1101.41 1168.18 L1106.46 1167.36 L1111.53 1166.61 L1116.62 1165.92 L1121.71 1165.26 L1126.81 1164.63 L1131.91 1164.01 L1137.01 1163.36 L1142.09 1162.64 L1147.14 1161.83 L1152.17 1160.89 L1157.15 1159.79 L1162.09 1158.52 L1166.99 1157.08 L1171.84 1155.48 L1176.64 1153.73 L1181.39 1151.84 L1186.09 1149.81 L1190.73 1147.64 L1195.32 1145.36 L1199.85 1142.96 L1204.32 1140.45 L1208.74 1137.83 L1213.11 1135.19" fill="none" stroke="#3a0006" stroke-width="7.7" stroke-linejoin="round"/>
<path d="M234.54 1385.76 L235.5 1380.25 L238.74 1376.9 L242.83 1374.58 L247.44 1372.91 L252.24 1371.48 L257.07 1370.12 L261.93 1368.82 L266.81 1367.56 L271.71 1366.36 L276.63 1365.2 L281.57 1364.08 L286.52 1362.99 L291.49 1361.95 L296.47 1360.93 L301.47 1359.94 L306.47 1358.98 L311.48 1358.03 L316.5 1357.11 L321.52 1356.2 L326.55 1355.3 L331.58 1354.41 L336.61 1353.52 L341.63 1352.64 L346.66 1351.77 L351.69 1350.89 L356.73 1350.03 L361.76 1349.16 L366.79 1348.31 L371.82 1347.45 L376.85 1346.6 L381.88 1345.75 L386.91 1344.9 L391.94 1344.05 L396.98 1343.21 L402.01 1342.37 L407.04 1341.53 L412.07 1340.7 L417.1 1339.86 L422.13 1339.02 L427.16 1338.19 L432.19 1337.35 L437.22 1336.52 L442.25 1335.69 L447.28 1334.85 L452.3 1334.02 L457.33 1333.18 L462.36 1332.34 L467.38 1331.5 L472.41 1330.66 L477.43 1329.82 L482.46 1328.98 L487.48 1328.13 L492.5 1327.28 L497.52 1326.43 L502.54 1325.57 L507.56 1324.71 L512.57 1323.85 L517.59 1322.99 L522.61 1322.11 L527.62 1321.24 L532.63 1320.36 L537.64 1319.48 L542.65 1318.59 L547.66 1317.69 L552.67 1316.79 L557.67 1315.88 L562.68 1314.97 L567.68 1314.05 L572.68 1313.12 L577.68 1312.19 L582.67 1311.25 L587.67 1310.3 L592.66 1309.35 L597.65 1308.39 L602.64 1307.41 L607.63 1306.43 L612.61 1305.44 L617.59 1304.45 L622.58 1303.44 L627.55 1302.42 L632.53 1301.4 L637.5 1300.36 L642.48 1299.32 L647.44 1298.26 L652.41 1297.19 L657.38 1296.11 L662.34 1295.02 L667.3 1293.92 L672.25 1292.81 L677.21 1291.68 L682.16 1290.55 L687.11 1289.4 L692.05 1288.23 L697 1287.06 L701.93 1285.87 L706.87 1284.67 L711.81 1283.45 L716.74 1282.22 L721.66 1280.97 L726.59 1279.71 L731.51 1278.44 L736.43 1277.15 L741.34 1275.85 L746.26 1274.53 L751.16 1273.19 L756.07 1271.84 L760.97 1270.47 L765.87 1269.09 L770.76 1267.69 L775.66 1266.28 L780.55 1264.86 L785.43 1263.43 L790.32 1261.98 L795.2 1260.52 L800.08 1259.06 L804.96 1257.58 L809.84 1256.1 L814.71 1254.61 L819.58 1253.11 L824.46 1251.61 L829.33 1250.1 L834.2 1248.58 L839.06 1247.06 L843.93 1245.54 L848.8 1244.02 L853.67 1242.49 L858.53 1240.96 L863.4 1239.44 L868.27 1237.91 L873.13 1236.38 L878 1234.86 L882.86 1233.34 L887.73 1231.82 L892.6 1230.3 L897.47 1228.79 L902.34 1227.29 L907.21 1225.79 L912.08 1224.3 L916.96 1222.82 L921.83 1221.34 L926.71 1219.87 L931.59 1218.42 L936.47 1216.97 L941.35 1215.54 L946.24 1214.11 L951.13 1212.7 L956.02 1211.31 L960.91 1209.92 L965.81 1208.56 L970.71 1207.2 L975.61 1205.85 L980.51 1204.51 L985.41 1203.16 L990.3 1201.81 L995.19 1200.43 L1000.07 1199.04 L1004.95 1197.62 L1009.82 1196.17 L1014.68 1194.68 L1019.52 1193.15 L1024.35 1191.57 L1029.17 1189.94 L1033.97 1188.24 L1038.76 1186.48 L1043.52 1184.65 L1048.27 1182.75 L1053.01 1180.82 L1057.75 1178.9 L1062.51 1177.05 L1067.3 1175.32 L1072.12 1173.74 L1077 1172.32 L1081.91 1171.06 L1086.85 1169.93 L1091.83 1168.93 L1096.83 1168.03 L1101.85 1167.21 L1106.9 1166.47 L1111.96 1165.78 L1117.02 1165.14 L1122.1 1164.52 L1127.17 1163.9 L1132.24 1163.25 L1137.29 1162.54 L1142.32 1161.74 L1147.32 1160.8 L1152.28 1159.71 L1157.2 1158.44 L1162.07 1157.01 L1166.89 1155.42 L1171.67 1153.68 L1176.39 1151.79 L1181.06 1149.76 L1185.68 1147.61 L1190.24 1145.33 L1194.75 1142.93 L1199.19 1140.43 L1203.58 1137.83 L1207.93 1135.19" fill="none" stroke="#5c0800" stroke-width="7.7" stroke-linejoin="round"/>
<path d="M234.54 1385.76 L235.51 1380.24 L238.76 1376.89 L242.87 1374.57 L247.5 1372.9 L252.31 1371.47 L257.16 1370.12 L262.03 1368.81 L266.93 1367.56 L271.84 1366.35 L276.78 1365.19 L281.73 1364.07 L286.7 1362.99 L291.68 1361.94 L296.68 1360.93 L301.69 1359.94 L306.7 1358.97 L311.73 1358.03 L316.76 1357.1 L321.8 1356.19 L326.84 1355.3 L331.88 1354.4 L336.92 1353.52 L341.96 1352.64 L347.01 1351.76 L352.05 1350.89 L357.1 1350.02 L362.14 1349.16 L367.19 1348.3 L372.23 1347.45 L377.28 1346.59 L382.32 1345.74 L387.37 1344.9 L392.41 1344.05 L397.46 1343.21 L402.5 1342.37 L407.55 1341.53 L412.59 1340.69 L417.64 1339.86 L422.68 1339.02 L427.73 1338.19 L432.77 1337.35 L437.81 1336.52 L442.86 1335.68 L447.9 1334.85 L452.94 1334.01 L457.98 1333.18 L463.02 1332.34 L468.06 1331.5 L473.1 1330.66 L478.14 1329.82 L483.17 1328.98 L488.21 1328.13 L493.25 1327.28 L498.28 1326.43 L503.31 1325.57 L508.35 1324.71 L513.38 1323.85 L518.41 1322.99 L523.44 1322.12 L528.46 1321.24 L533.49 1320.36 L538.52 1319.48 L543.54 1318.59 L548.56 1317.69 L553.58 1316.79 L558.6 1315.88 L563.62 1314.97 L568.63 1314.05 L573.65 1313.13 L578.66 1312.19 L583.67 1311.25 L588.68 1310.31 L593.69 1309.35 L598.69 1308.39 L603.69 1307.42 L608.7 1306.44 L613.69 1305.45 L618.69 1304.45 L623.69 1303.44 L628.68 1302.43 L633.67 1301.4 L638.66 1300.37 L643.64 1299.32 L648.63 1298.26 L653.61 1297.2 L658.59 1296.12 L663.56 1295.03 L668.53 1293.93 L673.51 1292.81 L678.47 1291.69 L683.44 1290.55 L688.4 1289.4 L693.36 1288.24 L698.32 1287.06 L703.27 1285.87 L708.22 1284.67 L713.17 1283.45 L718.12 1282.22 L723.06 1280.98 L728 1279.72 L732.93 1278.45 L737.87 1277.16 L742.79 1275.85 L747.72 1274.53 L752.64 1273.2 L757.56 1271.85 L762.48 1270.48 L767.39 1269.1 L772.3 1267.7 L777.21 1266.29 L782.11 1264.87 L787.01 1263.43 L791.91 1261.99 L796.81 1260.53 L801.7 1259.06 L806.6 1257.59 L811.49 1256.11 L816.38 1254.61 L821.26 1253.12 L826.15 1251.61 L831.03 1250.1 L835.92 1248.59 L840.8 1247.07 L845.68 1245.55 L850.57 1244.02 L855.45 1242.5 L860.33 1240.97 L865.21 1239.44 L870.09 1237.92 L874.97 1236.39 L879.85 1234.86 L884.73 1233.34 L889.61 1231.82 L894.5 1230.31 L899.38 1228.8 L904.26 1227.3 L909.15 1225.8 L914.04 1224.31 L918.92 1222.82 L923.81 1221.35 L928.7 1219.88 L933.6 1218.42 L938.49 1216.98 L943.39 1215.54 L948.29 1214.12 L953.19 1212.71 L958.1 1211.31 L963.01 1209.93 L967.92 1208.56 L972.83 1207.21 L977.75 1205.86 L982.66 1204.51 L987.57 1203.17 L992.48 1201.81 L997.39 1200.44 L1002.28 1199.05 L1007.18 1197.63 L1012.06 1196.18 L1016.93 1194.69 L1021.79 1193.16 L1026.64 1191.58 L1031.47 1189.94 L1036.28 1188.25 L1041.08 1186.49 L1045.86 1184.65 L1050.62 1182.75 L1055.38 1180.82 L1060.13 1178.91 L1064.91 1177.06 L1069.71 1175.32 L1074.55 1173.74 L1079.44 1172.32 L1084.36 1171.06 L1089.32 1169.94 L1094.31 1168.93 L1099.33 1168.03 L1104.37 1167.21 L1109.42 1166.47 L1114.5 1165.79 L1119.58 1165.14 L1124.66 1164.52 L1129.75 1163.9 L1134.84 1163.25 L1139.9 1162.54 L1144.95 1161.74 L1149.96 1160.81 L1154.93 1159.71 L1159.86 1158.45 L1164.75 1157.02 L1169.59 1155.42 L1174.38 1153.68 L1179.11 1151.79 L1183.8 1149.77 L1188.43 1147.61 L1193.01 1145.33 L1197.53 1142.94 L1201.99 1140.43 L1206.39 1137.83 L1210.75 1135.19" fill="none" stroke="#961400" stroke-width="7.7" stroke-linejoin="round"/>
<path d="M234.54 1386.1 L235.47 1380.6 L238.68 1377.26 L242.74 1374.94 L247.32 1373.25 L252.09 1371.82 L256.89 1370.46 L261.72 1369.15 L266.57 1367.9 L271.45 1366.69 L276.34 1365.53 L281.25 1364.4 L286.17 1363.32 L291.11 1362.27 L296.07 1361.25 L301.03 1360.26 L306.01 1359.29 L310.99 1358.35 L315.98 1357.42 L320.97 1356.51 L325.97 1355.61 L330.97 1354.71 L335.97 1353.83 L340.98 1352.94 L345.98 1352.07 L350.98 1351.19 L355.98 1350.32 L360.99 1349.46 L365.99 1348.6 L370.99 1347.74 L376 1346.89 L381 1346.03 L386 1345.18 L391.01 1344.34 L396.01 1343.49 L401.02 1342.65 L406.02 1341.81 L411.02 1340.97 L416.03 1340.13 L421.03 1339.29 L426.03 1338.46 L431.03 1337.62 L436.03 1336.79 L441.03 1335.95 L446.04 1335.11 L451.04 1334.28 L456.03 1333.44 L461.03 1332.6 L466.03 1331.76 L471.03 1330.91 L476.03 1330.07 L481.02 1329.22 L486.02 1328.38 L491.01 1327.52 L496 1326.67 L500.99 1325.81 L505.98 1324.95 L510.97 1324.09 L515.96 1323.22 L520.95 1322.35 L525.93 1321.47 L530.92 1320.59 L535.9 1319.7 L540.88 1318.81 L545.86 1317.91 L550.84 1317.01 L555.82 1316.1 L560.8 1315.19 L565.77 1314.26 L570.74 1313.34 L575.71 1312.4 L580.68 1311.46 L585.65 1310.51 L590.61 1309.55 L595.58 1308.59 L600.54 1307.61 L605.5 1306.63 L610.45 1305.64 L615.41 1304.64 L620.36 1303.63 L625.31 1302.61 L630.26 1301.59 L635.2 1300.55 L640.15 1299.5 L645.09 1298.44 L650.03 1297.37 L654.96 1296.29 L659.9 1295.2 L664.83 1294.09 L669.76 1292.98 L674.68 1291.85 L679.6 1290.71 L684.52 1289.56 L689.44 1288.4 L694.36 1287.22 L699.27 1286.03 L704.18 1284.82 L709.08 1283.61 L713.98 1282.37 L718.88 1281.13 L723.78 1279.87 L728.67 1278.59 L733.56 1277.3 L738.45 1275.99 L743.33 1274.67 L748.21 1273.33 L753.09 1271.98 L757.96 1270.61 L762.83 1269.23 L767.7 1267.83 L772.56 1266.42 L777.42 1264.99 L782.28 1263.56 L787.14 1262.11 L791.99 1260.65 L796.84 1259.18 L801.69 1257.71 L806.54 1256.22 L811.39 1254.73 L816.23 1253.23 L821.07 1251.72 L825.92 1250.21 L830.76 1248.7 L835.6 1247.18 L840.44 1245.65 L845.27 1244.13 L850.11 1242.6 L854.95 1241.07 L859.79 1239.54 L864.62 1238.01 L869.46 1236.49 L874.3 1234.96 L879.14 1233.44 L883.98 1231.92 L888.82 1230.4 L893.66 1228.89 L898.5 1227.38 L903.34 1225.88 L908.18 1224.39 L913.03 1222.9 L917.88 1221.43 L922.72 1219.96 L927.57 1218.5 L932.43 1217.05 L937.28 1215.62 L942.14 1214.19 L947 1212.78 L951.86 1211.38 L956.72 1210 L961.59 1208.63 L966.46 1207.27 L971.33 1205.92 L976.21 1204.58 L981.08 1203.23 L985.94 1201.87 L990.8 1200.5 L995.66 1199.1 L1000.51 1197.68 L1005.35 1196.23 L1010.17 1194.74 L1014.99 1193.21 L1019.79 1191.63 L1024.58 1189.99 L1029.36 1188.29 L1034.11 1186.53 L1038.84 1184.7 L1043.56 1182.79 L1048.27 1180.86 L1052.98 1178.95 L1057.71 1177.1 L1062.47 1175.36 L1067.27 1173.78 L1072.11 1172.36 L1077 1171.1 L1081.91 1169.97 L1086.86 1168.97 L1091.84 1168.06 L1096.83 1167.25 L1101.85 1166.5 L1106.88 1165.81 L1111.92 1165.17 L1116.97 1164.54 L1122.01 1163.92 L1127.05 1163.27 L1132.08 1162.56 L1137.08 1161.75 L1142.05 1160.82 L1146.98 1159.72 L1151.87 1158.45 L1156.71 1157.02 L1161.51 1155.42 L1166.25 1153.68 L1170.95 1151.79 L1175.59 1149.76 L1180.17 1147.6 L1184.71 1145.33 L1189.18 1142.93 L1193.6 1140.43 L1197.95 1137.82 L1202.27 1135.19" fill="none" stroke="#b23500" stroke-width="7.7" stroke-linejoin="round"/>
<path d="M234.75 1684.92 L234.78 1677.75 L234.78 1670.56 L234.81 1663.37 L234.87 1656.18 L234.95 1648.99 L235.05 1641.81 L235.18 1634.64 L235.33 1627.46 L235.51 1620.29 L235.7 1613.13 L235.92 1605.96 L236.16 1598.8 L236.43 1591.64 L236.71 1584.48 L237.02 1577.32 L237.35 1570.16 L237.7 1563.01 L238.07 1555.85 L238.47 1548.7 L238.88 1541.55 L239.31 1534.4 L239.76 1527.24 L240.23 1520.09 L240.73 1512.94 L241.24 1505.78 L241.77 1498.63 L242.31 1491.48 L242.88 1484.32 L243.46 1477.16 L244.06 1470 L244.68 1462.84 L245.32 1455.68 L245.97 1448.51 L246.64 1441.35 L247.33 1434.18 L248.03 1427 L248.75 1419.83 L249.49 1412.65 L250.37 1405.51 L251.57 1398.46 L253.26 1391.57 L255.64 1384.88 L259.03 1378.69 L264.37 1374.3 L271.2 1371.83 L278.48 1370.38 L285.74 1369.17 L292.93 1368.06 L300.05 1367.04 L307.13 1366.09 L314.18 1365.17 L321.22 1364.27 L328.25 1363.38 L335.3 1362.47 L342.36 1361.54 L349.44 1360.59 L356.52 1359.63 L363.62 1358.65 L370.72 1357.67 L377.83 1356.68 L384.95 1355.69 L392.07 1354.69 L399.19 1353.7 L406.32 1352.7 L413.45 1351.71 L420.58 1350.73 L427.7 1349.76 L434.83 1348.8 L441.95 1347.85 L449.07 1346.91 L456.18 1345.98 L463.29 1345.05 L470.4 1344.13 L477.51 1343.21 L484.62 1342.29 L491.73 1341.37 L498.83 1340.45 L505.94 1339.53 L513.04 1338.6 L520.14 1337.66 L527.24 1336.71 L534.34 1335.76 L541.45 1334.79 L548.55 1333.81 L555.65 1332.83 L562.75 1331.84 L569.85 1330.85 L576.96 1329.86 L584.06 1328.86 L591.17 1327.86 L598.28 1326.87 L605.38 1325.87 L612.49 1324.88 L619.61 1323.9 L626.72 1322.92 L633.83 1321.95 L640.95 1320.99 L648.07 1320.04 L655.19 1319.1 L662.32 1318.17 L669.45 1317.25 L676.58 1316.35 L683.71 1315.44 L690.84 1314.54 L697.96 1313.63 L705.09 1312.72 L712.22 1311.8 L719.34 1310.86 L726.46 1309.9 L733.57 1308.92 L740.68 1307.91 L747.78 1306.88 L754.87 1305.81 L761.96 1304.7 L769.04 1303.54 L776.11 1302.35 L783.16 1301.1 L790.21 1299.8 L797.25 1298.44 L804.27 1297.04 L811.28 1295.57 L818.29 1294.06 L825.28 1292.51 L832.26 1290.9 L839.24 1289.26 L846.2 1287.57 L853.16 1285.84 L860.11 1284.07 L867.05 1282.28 L873.99 1280.44 L880.91 1278.58 L887.83 1276.69 L894.75 1274.77 L901.66 1272.82 L908.56 1270.86 L915.46 1268.87 L922.36 1266.86 L929.25 1264.84 L936.13 1262.8 L943.02 1260.75 L949.9 1258.69 L956.78 1256.62 L963.65 1254.55 L970.53 1252.47 L977.4 1250.39 L984.27 1248.31 L991.14 1246.23 L998.01 1244.16 L1004.88 1242.09 L1011.75 1240.02 L1018.62 1237.95 L1025.49 1235.89 L1032.36 1233.83 L1039.23 1231.76 L1046.1 1229.7 L1052.96 1227.64 L1059.83 1225.57 L1066.69 1223.51 L1073.56 1221.44 L1080.42 1219.37 L1087.28 1217.29 L1094.14 1215.21 L1101 1213.12 L1107.86 1211.03 L1114.71 1208.94 L1121.57 1206.83 L1128.42 1204.72 L1135.27 1202.6 L1142.12 1200.48 L1148.97 1198.34 L1155.82 1196.2 L1162.66 1194.04 L1169.51 1191.87 L1176.35 1189.69 L1183.19 1187.5 L1190.02 1185.3 L1196.86 1183.09 L1203.69 1180.88 L1210.54 1178.71 L1217.41 1176.63 L1224.3 1174.67 L1231.23 1172.87 L1238.2 1171.27 L1245.22 1169.91 L1252.3 1168.8 L1259.43 1167.88 L1266.58 1167.09 L1273.75 1166.36 L1280.92 1165.63 L1288.07 1164.82 L1295.2 1163.87 L1302.29 1162.73 L1309.33 1161.37 L1316.32 1159.8 L1323.24 1157.99 L1330.1 1155.94 L1336.88 1153.63 L1343.57 1151.06 L1350.18 1148.22 L1356.7 1145.15 L1363.14 1141.91 L1369.49 1138.57 L1375.78 1135.19" fill="none" stroke="#000033" stroke-width="7.7" stroke-linejoin="round"/>
<path d="M234.75 1150.09 L235.39 1156.14 L238.56 1160.66 L242.39 1164.46 L246.73 1167.64 L251.47 1170.3 L256.46 1172.56 L261.6 1174.5 L266.86 1176.17 L272.22 1177.59 L277.69 1178.79 L283.23 1179.8 L288.86 1180.65 L294.54 1181.36 L300.28 1181.97 L306.05 1182.51 L311.85 1182.99 L317.67 1183.45 L323.5 1183.92 L329.32 1184.43 L335.12 1185 L340.89 1185.67 L346.62 1186.45 L352.29 1187.38 L357.91 1188.5 L363.45 1189.8 L368.93 1191.29 L374.34 1192.94 L379.71 1194.72 L385.04 1196.63 L390.33 1198.64 L395.59 1200.73 L400.83 1202.87 L406.05 1205.06 L411.27 1207.27 L416.49 1209.48 L421.72 1211.67 L426.96 1213.82 L432.23 1215.92 L437.53 1217.93 L442.86 1219.86 L448.22 1221.72 L453.6 1223.52 L459 1225.26 L464.42 1226.97 L469.86 1228.64 L475.3 1230.29 L480.75 1231.93 L486.2 1233.57 L491.65 1235.22 L497.1 1236.87 L502.54 1238.54 L507.99 1240.21 L513.44 1241.89 L518.88 1243.58 L524.32 1245.27 L529.77 1246.96 L535.21 1248.66 L540.65 1250.36 L546.09 1252.07 L551.53 1253.78 L556.97 1255.48 L562.41 1257.19 L567.85 1258.9 L573.3 1260.61 L578.74 1262.31 L584.18 1264.01 L589.63 1265.71 L595.07 1267.4 L600.52 1269.09 L605.97 1270.77 L611.42 1272.45 L616.87 1274.11 L622.32 1275.77 L627.77 1277.42 L633.23 1279.07 L638.69 1280.7 L644.15 1282.32 L649.61 1283.92 L655.08 1285.52 L660.55 1287.1 L666.02 1288.67 L671.5 1290.22 L676.97 1291.76 L682.46 1293.28 L687.94 1294.78 L693.43 1296.27 L698.92 1297.73 L704.42 1299.18 L709.92 1300.61 L715.43 1302.01 L720.93 1303.4 L726.45 1304.76 L731.97 1306.1 L737.49 1307.41 L743.02 1308.7 L748.55 1309.96 L754.09 1311.2 L759.63 1312.41 L765.18 1313.6 L770.74 1314.77 L776.29 1315.91 L781.86 1317.03 L787.42 1318.13 L792.99 1319.22 L798.57 1320.28 L804.15 1321.33 L809.73 1322.36 L815.31 1323.38 L820.9 1324.39 L826.49 1325.38 L832.08 1326.36 L837.68 1327.34 L843.28 1328.3 L848.87 1329.26 L854.48 1330.21 L860.08 1331.15 L865.68 1332.09 L871.29 1333.03 L876.9 1333.97 L882.51 1334.9 L888.12 1335.84 L893.73 1336.77 L899.33 1337.71 L904.94 1338.65 L910.55 1339.6 L916.16 1340.55 L921.77 1341.51 L927.38 1342.48 L932.99 1343.46 L938.6 1344.45 L944.2 1345.45 L949.81 1346.46 L955.41 1347.49 L961.01 1348.53 L966.61 1349.58 L972.21 1350.66 L977.8 1351.75 L983.4 1352.86 L988.99 1354 L994.57 1355.15 L1000.16 1356.33 L1005.74 1357.53 L1011.31 1358.75 L1016.89 1360 L1022.46 1361.28 L1028.02 1362.59 L1033.58 1363.92 L1039.14 1365.29 L1044.69 1366.69 L1050.24 1368.12 L1055.78 1369.59 L1061.32 1371.09 L1066.85 1372.62 L1072.38 1374.2 L1077.9 1375.81 L1083.41 1377.47 L1088.89 1379.2 L1094.33 1381.01 L1099.72 1382.93 L1105.04 1384.98 L1110.27 1387.17 L1115.4 1389.54 L1120.41 1392.1 L1125.29 1394.87 L1130.03 1397.87 L1134.6 1401.12 L1139 1404.62 L1143.19 1408.36 L1147.15 1412.33 L1150.86 1416.52 L1154.3 1420.93 L1157.46 1425.53 L1160.34 1430.32 L1162.97 1435.27 L1165.36 1440.38 L1167.53 1445.63 L1169.49 1450.99 L1171.27 1456.45 L1172.87 1462 L1174.33 1467.62 L1175.65 1473.29 L1176.85 1479 L1177.95 1484.72 L1178.97 1490.45 L1179.92 1496.17 L1180.82 1501.86 L1181.67 1507.53 L1182.48 1513.17 L1183.24 1518.8 L1183.96 1524.41 L1184.65 1530.01 L1185.29 1535.6 L1185.9 1541.19 L1186.48 1546.77 L1187.03 1552.36 L1187.55 1557.96 L1188.04 1563.56 L1188.51 1569.17 L1188.96 1574.8 L1189.38 1580.44 L1189.79 1586.09 L1190.18 1591.75 L1190.56 1597.42 L1190.92 1603.1 L1191.27 1608.79 L1191.61 1614.49 L1191.95 1620.19 L1192.28 1625.89 L1192.61 1631.6 L1192.93 1637.31 L1193.26 1643.03 L1193.59 1648.74 L1193.92 1654.45 L1194.25 1660.17 L1194.6 1665.87 L1194.95 1671.58 L1195.32 1677.28 L1195.7 1682.98 L1196.1 1688.67 L1196.51 1694.35 L1196.94 1700.03 L1197.39 1705.69 L1197.87 1711.35 L1198.36 1716.99 L1198.89 1722.62 L1199.44 1728.24 L1199.91 1733.91" fill="none" stroke="#000033" stroke-width="7.7" stroke-linejoin="round"/>
<path d="M234.75 1150.75 L235.37 1156.79 L238.53 1161.3 L242.33 1165.1 L246.65 1168.27 L251.36 1170.94 L256.32 1173.2 L261.44 1175.14 L266.67 1176.8 L272.01 1178.22 L277.46 1179.42 L282.98 1180.43 L288.58 1181.28 L294.25 1181.99 L299.96 1182.6 L305.72 1183.13 L311.5 1183.61 L317.3 1184.07 L323.11 1184.53 L328.9 1185.04 L334.68 1185.61 L340.43 1186.27 L346.14 1187.06 L351.8 1187.99 L357.39 1189.1 L362.91 1190.41 L368.37 1191.9 L373.76 1193.55 L379.11 1195.33 L384.41 1197.24 L389.68 1199.25 L394.91 1201.34 L400.13 1203.49 L405.33 1205.68 L410.53 1207.88 L415.73 1210.09 L420.93 1212.28 L426.16 1214.43 L431.4 1216.52 L436.68 1218.52 L441.99 1220.45 L447.32 1222.31 L452.69 1224.1 L458.07 1225.84 L463.47 1227.54 L468.88 1229.21 L474.3 1230.86 L479.73 1232.5 L485.16 1234.14 L490.59 1235.78 L496.02 1237.44 L501.44 1239.1 L506.87 1240.77 L512.29 1242.45 L517.71 1244.14 L523.13 1245.82 L528.56 1247.52 L533.98 1249.22 L539.4 1250.92 L544.82 1252.62 L550.24 1254.33 L555.66 1256.03 L561.07 1257.74 L566.5 1259.44 L571.92 1261.15 L577.34 1262.85 L582.76 1264.55 L588.18 1266.25 L593.61 1267.94 L599.03 1269.62 L604.46 1271.3 L609.89 1272.98 L615.32 1274.64 L620.75 1276.3 L626.18 1277.95 L631.62 1279.59 L637.05 1281.21 L642.49 1282.83 L647.94 1284.44 L653.38 1286.03 L658.83 1287.61 L664.28 1289.17 L669.73 1290.72 L675.19 1292.25 L680.65 1293.77 L686.12 1295.27 L691.58 1296.75 L697.06 1298.22 L702.53 1299.66 L708.01 1301.08 L713.5 1302.48 L718.98 1303.86 L724.48 1305.22 L729.97 1306.55 L735.48 1307.86 L740.98 1309.15 L746.5 1310.41 L752.02 1311.64 L757.54 1312.85 L763.07 1314.03 L768.6 1315.19 L774.14 1316.33 L779.68 1317.44 L785.23 1318.54 L790.78 1319.62 L796.33 1320.68 L801.89 1321.72 L807.45 1322.75 L813.01 1323.77 L818.58 1324.77 L824.15 1325.76 L829.72 1326.74 L835.29 1327.71 L840.87 1328.67 L846.45 1329.62 L852.03 1330.57 L857.62 1331.51 L863.2 1332.45 L868.78 1333.38 L874.37 1334.31 L879.96 1335.25 L885.55 1336.18 L891.14 1337.11 L896.73 1338.05 L902.31 1338.99 L907.9 1339.94 L913.49 1340.89 L919.08 1341.85 L924.67 1342.81 L930.26 1343.79 L935.84 1344.78 L941.43 1345.78 L947.01 1346.79 L952.59 1347.82 L958.17 1348.86 L963.75 1349.91 L969.33 1350.99 L974.9 1352.08 L980.47 1353.19 L986.04 1354.33 L991.6 1355.48 L997.17 1356.66 L1002.73 1357.86 L1008.28 1359.09 L1013.83 1360.35 L1019.38 1361.63 L1024.92 1362.94 L1030.46 1364.28 L1036 1365.65 L1041.53 1367.05 L1047.05 1368.49 L1052.57 1369.96 L1058.09 1371.46 L1063.6 1373 L1069.1 1374.58 L1074.6 1376.2 L1080.09 1377.87 L1085.54 1379.61 L1090.95 1381.44 L1096.31 1383.38 L1101.59 1385.46 L1106.78 1387.68 L1111.86 1390.08 L1116.83 1392.68 L1121.66 1395.49 L1126.34 1398.53 L1130.86 1401.83 L1135.19 1405.37 L1139.31 1409.15 L1143.2 1413.16 L1146.84 1417.39 L1150.21 1421.82 L1153.29 1426.45 L1156.11 1431.26 L1158.67 1436.23 L1161 1441.35 L1163.11 1446.6 L1165.03 1451.97 L1166.76 1457.43 L1168.32 1462.97 L1169.74 1468.58 L1171.03 1474.24 L1172.2 1479.93 L1173.28 1485.64 L1174.27 1491.35 L1175.21 1497.04 L1176.09 1502.71 L1176.93 1508.35 L1177.72 1513.97 L1178.48 1519.58 L1179.19 1525.17 L1179.86 1530.75 L1180.49 1536.32 L1181.1 1541.88 L1181.67 1547.45 L1182.21 1553.02 L1182.72 1558.59 L1183.2 1564.17 L1183.67 1569.77 L1184.11 1575.38 L1184.53 1581 L1184.93 1586.63 L1185.32 1592.27 L1185.69 1597.92 L1186.05 1603.58 L1186.39 1609.25 L1186.73 1614.92 L1187.07 1620.6 L1187.39 1626.29 L1187.72 1631.98 L1188.04 1637.67 L1188.36 1643.36 L1188.69 1649.05 L1189.01 1654.75 L1189.35 1660.44 L1189.69 1666.13 L1190.04 1671.81 L1190.41 1677.49 L1190.78 1683.17 L1191.18 1688.84 L1191.58 1694.5 L1192.01 1700.15 L1192.46 1705.79 L1192.93 1711.43 L1193.43 1717.05 L1193.95 1722.66 L1194.5 1728.26 L1194.96 1733.91" fill="none" stroke="#000a5c" stroke-width="7.7" stroke-linejoin="round"/>
<path d="M234.75 1151.42 L235.37 1157.44 L238.51 1161.95 L242.3 1165.74 L246.61 1168.92 L251.3 1171.58 L256.25 1173.84 L261.35 1175.78 L266.57 1177.44 L271.91 1178.86 L277.34 1180.06 L282.85 1181.06 L288.44 1181.91 L294.1 1182.61 L299.8 1183.22 L305.55 1183.74 L311.32 1184.22 L317.11 1184.68 L322.9 1185.14 L328.69 1185.64 L334.46 1186.21 L340.2 1186.87 L345.9 1187.65 L351.54 1188.58 L357.12 1189.7 L362.63 1191 L368.07 1192.49 L373.46 1194.14 L378.79 1195.92 L384.08 1197.83 L389.33 1199.84 L394.56 1201.92 L399.76 1204.07 L404.96 1206.26 L410.14 1208.46 L415.33 1210.67 L420.52 1212.85 L425.73 1215 L430.97 1217.08 L436.24 1219.09 L441.53 1221.01 L446.86 1222.86 L452.21 1224.65 L457.58 1226.39 L462.97 1228.09 L468.37 1229.76 L473.78 1231.4 L479.2 1233.04 L484.62 1234.67 L490.04 1236.31 L495.45 1237.97 L500.87 1239.63 L506.28 1241.3 L511.69 1242.97 L517.1 1244.65 L522.52 1246.34 L527.93 1248.03 L533.33 1249.73 L538.74 1251.43 L544.15 1253.13 L549.56 1254.83 L554.97 1256.53 L560.38 1258.24 L565.79 1259.94 L571.2 1261.64 L576.61 1263.34 L582.02 1265.04 L587.43 1266.73 L592.84 1268.42 L598.26 1270.1 L603.67 1271.78 L609.09 1273.45 L614.51 1275.11 L619.93 1276.77 L625.35 1278.41 L630.78 1280.05 L636.2 1281.67 L641.63 1283.29 L647.06 1284.89 L652.5 1286.48 L657.93 1288.05 L663.37 1289.61 L668.82 1291.16 L674.26 1292.69 L679.71 1294.2 L685.17 1295.7 L690.62 1297.18 L696.08 1298.63 L701.55 1300.07 L707.02 1301.49 L712.49 1302.89 L717.97 1304.27 L723.45 1305.62 L728.94 1306.95 L734.43 1308.25 L739.93 1309.53 L745.43 1310.79 L750.94 1312.02 L756.45 1313.22 L761.97 1314.4 L767.49 1315.55 L773.01 1316.69 L778.55 1317.8 L784.08 1318.89 L789.62 1319.97 L795.16 1321.02 L800.71 1322.06 L806.26 1323.09 L811.81 1324.1 L817.37 1325.1 L822.93 1326.08 L828.49 1327.06 L834.05 1328.02 L839.62 1328.98 L845.19 1329.93 L850.76 1330.87 L856.33 1331.81 L861.9 1332.74 L867.48 1333.67 L873.05 1334.6 L878.63 1335.53 L884.21 1336.46 L889.78 1337.39 L895.36 1338.33 L900.94 1339.26 L906.52 1340.21 L912.1 1341.16 L917.67 1342.11 L923.25 1343.08 L928.83 1344.05 L934.4 1345.04 L939.98 1346.03 L945.55 1347.04 L951.12 1348.07 L956.69 1349.11 L962.25 1350.16 L967.82 1351.24 L973.38 1352.33 L978.94 1353.44 L984.5 1354.57 L990.05 1355.73 L995.6 1356.9 L1001.15 1358.11 L1006.7 1359.33 L1012.24 1360.59 L1017.77 1361.87 L1023.3 1363.18 L1028.83 1364.52 L1034.36 1365.89 L1039.88 1367.29 L1045.39 1368.73 L1050.9 1370.2 L1056.4 1371.71 L1061.9 1373.25 L1067.39 1374.83 L1072.88 1376.45 L1078.35 1378.12 L1083.79 1379.87 L1089.19 1381.71 L1094.52 1383.66 L1099.78 1385.75 L1104.95 1387.99 L1110.01 1390.4 L1114.95 1393.01 L1119.76 1395.84 L1124.41 1398.91 L1128.9 1402.23 L1133.19 1405.79 L1137.28 1409.6 L1141.14 1413.63 L1144.74 1417.87 L1148.06 1422.32 L1151.11 1426.96 L1153.89 1431.78 L1156.42 1436.76 L1158.72 1441.88 L1160.8 1447.14 L1162.69 1452.5 L1164.4 1457.96 L1165.94 1463.5 L1167.34 1469.11 L1168.61 1474.76 L1169.77 1480.44 L1170.83 1486.14 L1171.82 1491.84 L1172.74 1497.52 L1173.62 1503.17 L1174.45 1508.8 L1175.23 1514.41 L1175.98 1520 L1176.68 1525.58 L1177.35 1531.15 L1177.98 1536.71 L1178.58 1542.26 L1179.14 1547.82 L1179.68 1553.37 L1180.19 1558.94 L1180.67 1564.51 L1181.13 1570.09 L1181.57 1575.69 L1181.98 1581.3 L1182.38 1586.92 L1182.77 1592.55 L1183.14 1598.19 L1183.49 1603.84 L1183.84 1609.5 L1184.18 1615.16 L1184.51 1620.83 L1184.83 1626.51 L1185.15 1632.18 L1185.47 1637.86 L1185.8 1643.54 L1186.12 1649.22 L1186.45 1654.9 L1186.78 1660.58 L1187.12 1666.26 L1187.47 1671.94 L1187.83 1677.6 L1188.21 1683.27 L1188.6 1688.93 L1189 1694.58 L1189.43 1700.22 L1189.88 1705.85 L1190.35 1711.47 L1190.84 1717.08 L1191.36 1722.68 L1191.91 1728.27 L1192.37 1733.91" fill="none" stroke="#0a1fa8" stroke-width="7.7" stroke-linejoin="round"/>
<path d="M234.75 1151.75 L235.36 1157.76 L238.49 1162.27 L242.26 1166.06 L246.55 1169.23 L251.23 1171.9 L256.16 1174.16 L261.24 1176.1 L266.45 1177.76 L271.77 1179.18 L277.18 1180.37 L282.68 1181.38 L288.26 1182.22 L293.9 1182.93 L299.59 1183.53 L305.32 1184.05 L311.08 1184.53 L316.86 1184.98 L322.64 1185.45 L328.41 1185.95 L334.17 1186.51 L339.9 1187.17 L345.58 1187.96 L351.21 1188.89 L356.78 1190 L362.27 1191.31 L367.7 1192.8 L373.07 1194.45 L378.39 1196.24 L383.66 1198.15 L388.9 1200.15 L394.11 1202.24 L399.3 1204.39 L404.47 1206.58 L409.64 1208.78 L414.82 1210.99 L420 1213.17 L425.19 1215.31 L430.41 1217.39 L435.67 1219.4 L440.95 1221.32 L446.26 1223.17 L451.6 1224.96 L456.96 1226.69 L462.33 1228.39 L467.72 1230.05 L473.12 1231.7 L478.52 1233.33 L483.92 1234.97 L489.33 1236.61 L494.73 1238.26 L500.13 1239.92 L505.53 1241.59 L510.93 1243.27 L516.33 1244.95 L521.72 1246.63 L527.12 1248.32 L532.51 1250.02 L537.91 1251.72 L543.3 1253.42 L548.7 1255.12 L554.09 1256.82 L559.48 1258.53 L564.88 1260.23 L570.27 1261.93 L575.67 1263.63 L581.07 1265.33 L586.46 1267.02 L591.86 1268.71 L597.26 1270.39 L602.66 1272.06 L608.07 1273.73 L613.47 1275.4 L618.88 1277.05 L624.29 1278.69 L629.7 1280.33 L635.11 1281.95 L640.52 1283.56 L645.94 1285.17 L651.36 1286.75 L656.78 1288.33 L662.21 1289.89 L667.64 1291.43 L673.07 1292.96 L678.51 1294.47 L683.95 1295.97 L689.39 1297.44 L694.84 1298.9 L700.29 1300.34 L705.74 1301.75 L711.2 1303.15 L716.67 1304.52 L722.13 1305.87 L727.61 1307.2 L733.09 1308.5 L738.57 1309.78 L744.06 1311.03 L749.55 1312.26 L755.05 1313.46 L760.55 1314.63 L766.06 1315.79 L771.57 1316.92 L777.09 1318.03 L782.61 1319.12 L788.14 1320.19 L793.67 1321.24 L799.2 1322.28 L804.74 1323.3 L810.28 1324.31 L815.82 1325.31 L821.36 1326.29 L826.91 1327.26 L832.46 1328.23 L838.02 1329.18 L843.57 1330.13 L849.13 1331.07 L854.68 1332.01 L860.24 1332.94 L865.8 1333.87 L871.37 1334.8 L876.93 1335.73 L882.49 1336.66 L888.06 1337.59 L893.62 1338.52 L899.19 1339.46 L904.75 1340.4 L910.31 1341.35 L915.88 1342.3 L921.44 1343.27 L927 1344.24 L932.56 1345.23 L938.12 1346.22 L943.68 1347.24 L949.24 1348.26 L954.79 1349.3 L960.35 1350.36 L965.9 1351.43 L971.44 1352.52 L976.99 1353.64 L982.53 1354.77 L988.07 1355.93 L993.61 1357.11 L999.14 1358.31 L1004.67 1359.54 L1010.2 1360.8 L1015.72 1362.08 L1021.24 1363.39 L1026.75 1364.74 L1032.26 1366.11 L1037.76 1367.52 L1043.26 1368.96 L1048.76 1370.43 L1054.25 1371.94 L1059.73 1373.49 L1065.21 1375.08 L1070.68 1376.7 L1076.13 1378.38 L1081.55 1380.14 L1086.93 1381.99 L1092.24 1383.96 L1097.47 1386.06 L1102.62 1388.32 L1107.65 1390.76 L1112.56 1393.4 L1117.33 1396.26 L1121.94 1399.36 L1126.39 1402.71 L1130.64 1406.3 L1134.69 1410.13 L1138.49 1414.18 L1142.04 1418.45 L1145.32 1422.92 L1148.31 1427.58 L1151.05 1432.41 L1153.54 1437.4 L1155.8 1442.53 L1157.85 1447.78 L1159.7 1453.15 L1161.38 1458.61 L1162.9 1464.15 L1164.27 1469.74 L1165.52 1475.39 L1166.66 1481.06 L1167.71 1486.74 L1168.68 1492.43 L1169.6 1498.09 L1170.46 1503.73 L1171.28 1509.35 L1172.06 1514.94 L1172.8 1520.52 L1173.49 1526.08 L1174.16 1531.63 L1174.78 1537.18 L1175.37 1542.72 L1175.93 1548.26 L1176.46 1553.81 L1176.97 1559.36 L1177.44 1564.91 L1177.9 1570.49 L1178.33 1576.07 L1178.75 1581.67 L1179.14 1587.28 L1179.52 1592.89 L1179.89 1598.52 L1180.24 1604.16 L1180.59 1609.8 L1180.92 1615.45 L1181.25 1621.11 L1181.57 1626.77 L1181.89 1632.43 L1182.21 1638.1 L1182.53 1643.76 L1182.85 1649.43 L1183.18 1655.1 L1183.51 1660.76 L1183.85 1666.43 L1184.2 1672.09 L1184.56 1677.74 L1184.93 1683.39 L1185.32 1689.04 L1185.72 1694.67 L1186.15 1700.3 L1186.59 1705.92 L1187.06 1711.53 L1187.55 1717.12 L1188.07 1722.71 L1188.61 1728.28 L1189.07 1733.91" fill="none" stroke="#1547e6" stroke-width="7.7" stroke-linejoin="round"/>
<path d="M234.75 1152.08 L235.35 1158.09 L238.47 1162.59 L242.23 1166.38 L246.5 1169.55 L251.16 1172.22 L256.08 1174.47 L261.15 1176.42 L266.35 1178.08 L271.65 1179.5 L277.05 1180.69 L282.54 1181.69 L288.1 1182.53 L293.73 1183.24 L299.41 1183.84 L305.13 1184.36 L310.88 1184.84 L316.65 1185.29 L322.42 1185.75 L328.18 1186.25 L333.92 1186.82 L339.64 1187.48 L345.31 1188.26 L350.93 1189.2 L356.48 1190.31 L361.96 1191.62 L367.38 1193.11 L372.74 1194.76 L378.04 1196.55 L383.3 1198.46 L388.53 1200.47 L393.72 1202.55 L398.9 1204.7 L404.06 1206.89 L409.22 1209.09 L414.38 1211.3 L419.55 1213.48 L424.73 1215.62 L429.94 1217.7 L435.18 1219.7 L440.45 1221.62 L445.75 1223.47 L451.08 1225.25 L456.42 1226.99 L461.79 1228.68 L467.16 1230.35 L472.55 1231.99 L477.94 1233.62 L483.33 1235.26 L488.72 1236.9 L494.11 1238.55 L499.5 1240.21 L504.89 1241.88 L510.27 1243.55 L515.66 1245.23 L521.04 1246.92 L526.43 1248.61 L531.81 1250.3 L537.19 1252 L542.57 1253.7 L547.95 1255.4 L553.34 1257.11 L558.72 1258.81 L564.1 1260.51 L569.48 1262.21 L574.87 1263.91 L580.25 1265.6 L585.64 1267.3 L591.02 1268.98 L596.41 1270.66 L601.8 1272.34 L607.19 1274.01 L612.58 1275.67 L617.98 1277.32 L623.37 1278.96 L628.77 1280.6 L634.17 1282.22 L639.58 1283.83 L644.98 1285.43 L650.39 1287.02 L655.8 1288.59 L661.21 1290.15 L666.63 1291.69 L672.05 1293.22 L677.47 1294.73 L682.9 1296.22 L688.33 1297.7 L693.77 1299.15 L699.21 1300.59 L704.65 1302 L710.1 1303.39 L715.55 1304.77 L721.01 1306.11 L726.47 1307.44 L731.93 1308.74 L737.41 1310.01 L742.88 1311.26 L748.36 1312.49 L753.85 1313.68 L759.34 1314.86 L764.84 1316.01 L770.34 1317.14 L775.85 1318.24 L781.36 1319.33 L786.87 1320.4 L792.39 1321.45 L797.91 1322.49 L803.43 1323.51 L808.96 1324.51 L814.49 1325.51 L820.03 1326.49 L825.56 1327.46 L831.1 1328.42 L836.64 1329.37 L842.18 1330.32 L847.73 1331.26 L853.28 1332.2 L858.82 1333.13 L864.37 1334.06 L869.92 1334.98 L875.47 1335.91 L881.02 1336.84 L886.58 1337.77 L892.13 1338.7 L897.68 1339.63 L903.23 1340.58 L908.79 1341.52 L914.34 1342.48 L919.89 1343.44 L925.44 1344.42 L930.99 1345.4 L936.54 1346.4 L942.08 1347.41 L947.63 1348.44 L953.17 1349.48 L958.71 1350.53 L964.25 1351.61 L969.78 1352.7 L975.32 1353.82 L980.85 1354.95 L986.38 1356.11 L991.9 1357.29 L997.42 1358.5 L1002.94 1359.73 L1008.45 1360.99 L1013.96 1362.27 L1019.47 1363.59 L1024.97 1364.93 L1030.46 1366.31 L1035.96 1367.72 L1041.44 1369.16 L1046.92 1370.64 L1052.4 1372.15 L1057.87 1373.71 L1063.34 1375.29 L1068.79 1376.93 L1074.23 1378.61 L1079.64 1380.38 L1084.99 1382.24 L1090.28 1384.22 L1095.5 1386.34 L1100.61 1388.62 L1105.62 1391.08 L1110.5 1393.74 L1115.24 1396.62 L1119.83 1399.75 L1124.24 1403.12 L1128.45 1406.74 L1132.46 1410.59 L1136.22 1414.67 L1139.73 1418.95 L1142.96 1423.44 L1145.92 1428.11 L1148.61 1432.95 L1151.07 1437.95 L1153.29 1443.09 L1155.31 1448.34 L1157.14 1453.71 L1158.8 1459.17 L1160.29 1464.7 L1161.65 1470.29 L1162.88 1475.93 L1164 1481.59 L1165.04 1487.27 L1166 1492.94 L1166.9 1498.59 L1167.76 1504.21 L1168.57 1509.81 L1169.34 1515.4 L1170.07 1520.96 L1170.76 1526.51 L1171.42 1532.05 L1172.04 1537.59 L1172.62 1543.12 L1173.18 1548.64 L1173.7 1554.18 L1174.2 1559.72 L1174.68 1565.26 L1175.13 1570.83 L1175.56 1576.4 L1175.97 1581.98 L1176.37 1587.58 L1176.74 1593.19 L1177.11 1598.81 L1177.46 1604.43 L1177.8 1610.06 L1178.13 1615.7 L1178.46 1621.34 L1178.78 1626.99 L1179.1 1632.64 L1179.41 1638.3 L1179.73 1643.95 L1180.05 1649.61 L1180.37 1655.26 L1180.7 1660.92 L1181.04 1666.57 L1181.39 1672.22 L1181.75 1677.86 L1182.12 1683.5 L1182.51 1689.13 L1182.91 1694.75 L1183.33 1700.37 L1183.77 1705.98 L1184.24 1711.57 L1184.73 1717.16 L1185.24 1722.73 L1185.78 1728.29 L1186.24 1733.91" fill="none" stroke="#1690f0" stroke-width="7.7" stroke-linejoin="round"/>
<path d="M234.75 1147.76 L235.47 1153.91 L238.76 1158.46 L242.71 1162.27 L247.2 1165.45 L252.08 1168.1 L257.21 1170.35 L262.49 1172.29 L267.88 1173.95 L273.37 1175.37 L278.95 1176.58 L284.62 1177.59 L290.36 1178.45 L296.15 1179.17 L302 1179.79 L307.88 1180.33 L313.79 1180.83 L319.71 1181.3 L325.65 1181.77 L331.57 1182.29 L337.48 1182.86 L343.36 1183.52 L349.2 1184.3 L354.99 1185.23 L360.73 1186.33 L366.39 1187.62 L371.99 1189.09 L377.53 1190.72 L383.03 1192.5 L388.48 1194.39 L393.89 1196.39 L399.28 1198.47 L404.65 1200.61 L410 1202.8 L415.34 1205 L420.69 1207.22 L426.04 1209.41 L431.4 1211.57 L436.79 1213.68 L442.2 1215.71 L447.65 1217.66 L453.12 1219.54 L458.62 1221.35 L464.13 1223.11 L469.67 1224.82 L475.21 1226.5 L480.77 1228.16 L486.34 1229.81 L491.91 1231.45 L497.47 1233.1 L503.04 1234.75 L508.6 1236.42 L514.17 1238.09 L519.73 1239.77 L525.29 1241.46 L530.85 1243.15 L536.41 1244.84 L541.97 1246.54 L547.53 1248.25 L553.09 1249.95 L558.65 1251.66 L564.21 1253.37 L569.77 1255.08 L575.33 1256.79 L580.88 1258.5 L586.44 1260.21 L592.01 1261.91 L597.57 1263.61 L603.13 1265.31 L608.69 1267 L614.26 1268.69 L619.83 1270.37 L625.39 1272.04 L630.96 1273.7 L636.53 1275.36 L642.11 1277.01 L647.68 1278.64 L653.26 1280.27 L658.84 1281.89 L664.42 1283.49 L670.01 1285.08 L675.6 1286.66 L681.19 1288.22 L686.78 1289.77 L692.38 1291.3 L697.98 1292.81 L703.58 1294.31 L709.19 1295.79 L714.8 1297.25 L720.42 1298.69 L726.04 1300.11 L731.66 1301.51 L737.29 1302.89 L742.92 1304.24 L748.56 1305.57 L754.2 1306.88 L759.85 1308.16 L765.5 1309.42 L771.15 1310.65 L776.81 1311.86 L782.48 1313.04 L788.15 1314.2 L793.83 1315.34 L799.5 1316.46 L805.19 1317.56 L810.87 1318.64 L816.56 1319.71 L822.26 1320.76 L827.95 1321.79 L833.65 1322.81 L839.36 1323.82 L845.06 1324.82 L850.77 1325.8 L856.48 1326.78 L862.19 1327.75 L867.91 1328.71 L873.62 1329.67 L879.34 1330.62 L885.06 1331.56 L890.78 1332.51 L896.5 1333.45 L902.22 1334.39 L907.95 1335.33 L913.67 1336.27 L919.39 1337.22 L925.12 1338.17 L930.84 1339.13 L936.57 1340.09 L942.29 1341.06 L948.01 1342.03 L953.73 1343.02 L959.45 1344.01 L965.17 1345.02 L970.89 1346.04 L976.61 1347.08 L982.32 1348.12 L988.04 1349.19 L993.75 1350.27 L999.46 1351.37 L1005.16 1352.49 L1010.87 1353.63 L1016.57 1354.79 L1022.27 1355.97 L1027.96 1357.18 L1033.65 1358.41 L1039.34 1359.67 L1045.03 1360.95 L1050.71 1362.26 L1056.38 1363.6 L1062.06 1364.97 L1067.72 1366.37 L1073.39 1367.81 L1079.04 1369.28 L1084.7 1370.78 L1090.35 1372.32 L1095.99 1373.89 L1101.63 1375.5 L1107.25 1377.16 L1112.85 1378.89 L1118.41 1380.7 L1123.92 1382.62 L1129.36 1384.66 L1134.71 1386.86 L1139.97 1389.23 L1145.11 1391.78 L1150.13 1394.55 L1155 1397.55 L1159.72 1400.81 L1164.26 1404.31 L1168.59 1408.07 L1172.69 1412.06 L1176.54 1416.28 L1180.12 1420.72 L1183.39 1425.37 L1186.38 1430.22 L1189.11 1435.25 L1191.59 1440.44 L1193.84 1445.77 L1195.88 1451.23 L1197.72 1456.79 L1199.39 1462.45 L1200.9 1468.17 L1202.27 1473.95 L1203.52 1479.77 L1204.67 1485.61 L1205.72 1491.45 L1206.72 1497.27 L1207.65 1503.06 L1208.54 1508.83 L1209.37 1514.58 L1210.16 1520.31 L1210.9 1526.03 L1211.6 1531.74 L1212.27 1537.43 L1212.89 1543.13 L1213.48 1548.83 L1214.04 1554.52 L1214.57 1560.23 L1215.08 1565.95 L1215.55 1571.68 L1216.01 1577.42 L1216.45 1583.18 L1216.86 1588.95 L1217.26 1594.73 L1217.65 1600.52 L1218.02 1606.31 L1218.39 1612.12 L1218.74 1617.93 L1219.09 1623.75 L1219.44 1629.57 L1219.78 1635.39 L1220.12 1641.22 L1220.46 1647.05 L1220.81 1652.87 L1221.17 1658.7 L1221.53 1664.52 L1221.9 1670.34 L1222.28 1676.16 L1222.67 1681.97 L1223.09 1687.77 L1223.52 1693.57 L1223.97 1699.36 L1224.44 1705.13 L1224.93 1710.9 L1225.45 1716.65 L1226 1722.4 L1226.58 1728.12 L1227.07 1733.91" fill="none" stroke="#240008" stroke-width="7.7" stroke-linejoin="round"/>
<path d="M234.75 1147.76 L235.45 1153.88 L238.7 1158.43 L242.62 1162.24 L247.07 1165.42 L251.91 1168.08 L257 1170.33 L262.24 1172.27 L267.6 1173.94 L273.05 1175.37 L278.61 1176.57 L284.24 1177.59 L289.95 1178.45 L295.71 1179.17 L301.53 1179.79 L307.38 1180.34 L313.26 1180.83 L319.16 1181.3 L325.06 1181.78 L330.96 1182.3 L336.84 1182.87 L342.69 1183.54 L348.5 1184.33 L354.26 1185.26 L359.96 1186.36 L365.59 1187.66 L371.16 1189.14 L376.67 1190.78 L382.13 1192.56 L387.55 1194.46 L392.93 1196.47 L398.28 1198.55 L403.61 1200.7 L408.93 1202.89 L414.24 1205.1 L419.55 1207.32 L424.87 1209.51 L430.2 1211.68 L435.55 1213.78 L440.93 1215.81 L446.35 1217.76 L451.79 1219.63 L457.25 1221.45 L462.74 1223.2 L468.24 1224.92 L473.76 1226.6 L479.29 1228.26 L484.82 1229.91 L490.36 1231.55 L495.89 1233.2 L501.43 1234.86 L506.96 1236.53 L512.49 1238.21 L518.02 1239.89 L523.55 1241.58 L529.08 1243.28 L534.61 1244.98 L540.13 1246.68 L545.66 1248.39 L551.19 1250.1 L556.71 1251.81 L562.24 1253.52 L567.77 1255.23 L573.29 1256.94 L578.82 1258.65 L584.35 1260.36 L589.88 1262.07 L595.41 1263.77 L600.94 1265.47 L606.47 1267.17 L612 1268.86 L617.54 1270.54 L623.07 1272.21 L628.61 1273.88 L634.15 1275.54 L639.69 1277.19 L645.24 1278.83 L650.78 1280.46 L656.33 1282.07 L661.88 1283.68 L667.44 1285.27 L672.99 1286.85 L678.55 1288.41 L684.11 1289.96 L689.68 1291.49 L695.25 1293 L700.82 1294.5 L706.4 1295.98 L711.98 1297.44 L717.56 1298.88 L723.15 1300.3 L728.74 1301.7 L734.34 1303.08 L739.94 1304.43 L745.55 1305.76 L751.16 1307.07 L756.77 1308.35 L762.39 1309.61 L768.02 1310.84 L773.65 1312.04 L779.29 1313.22 L784.93 1314.38 L790.57 1315.52 L796.22 1316.64 L801.87 1317.74 L807.53 1318.82 L813.19 1319.88 L818.85 1320.93 L824.52 1321.97 L830.19 1322.99 L835.86 1323.99 L841.54 1324.99 L847.21 1325.98 L852.89 1326.95 L858.58 1327.92 L864.26 1328.88 L869.95 1329.84 L875.63 1330.79 L881.32 1331.74 L887.01 1332.69 L892.7 1333.63 L898.39 1334.57 L904.09 1335.52 L909.78 1336.46 L915.47 1337.41 L921.17 1338.36 L926.86 1339.32 L932.55 1340.29 L938.24 1341.26 L943.94 1342.24 L949.63 1343.23 L955.32 1344.23 L961.01 1345.24 L966.69 1346.27 L972.38 1347.31 L978.06 1348.36 L983.74 1349.43 L989.42 1350.52 L995.1 1351.63 L1000.78 1352.75 L1006.45 1353.9 L1012.12 1355.07 L1017.79 1356.26 L1023.45 1357.47 L1029.11 1358.71 L1034.76 1359.98 L1040.42 1361.27 L1046.06 1362.59 L1051.71 1363.94 L1057.35 1365.32 L1062.98 1366.74 L1068.61 1368.18 L1074.24 1369.66 L1079.86 1371.18 L1085.47 1372.73 L1091.08 1374.32 L1096.69 1375.94 L1102.28 1377.62 L1107.84 1379.37 L1113.35 1381.21 L1118.81 1383.17 L1124.19 1385.26 L1129.49 1387.5 L1134.68 1389.92 L1139.76 1392.53 L1144.7 1395.36 L1149.5 1398.43 L1154.13 1401.75 L1158.57 1405.32 L1162.81 1409.14 L1166.81 1413.19 L1170.55 1417.46 L1174.01 1421.95 L1177.18 1426.65 L1180.07 1431.53 L1182.7 1436.58 L1185.09 1441.79 L1187.26 1447.13 L1189.23 1452.59 L1191.01 1458.16 L1192.62 1463.8 L1194.07 1469.52 L1195.4 1475.28 L1196.6 1481.08 L1197.71 1486.88 L1198.74 1492.69 L1199.71 1498.48 L1200.62 1504.24 L1201.48 1509.98 L1202.3 1515.69 L1203.07 1521.39 L1203.79 1527.08 L1204.48 1532.75 L1205.13 1538.42 L1205.74 1544.09 L1206.32 1549.76 L1206.87 1555.43 L1207.39 1561.11 L1207.88 1566.8 L1208.35 1572.5 L1208.8 1578.22 L1209.23 1583.95 L1209.64 1589.69 L1210.03 1595.44 L1210.41 1601.2 L1210.78 1606.97 L1211.14 1612.74 L1211.49 1618.53 L1211.83 1624.31 L1212.17 1630.1 L1212.51 1635.9 L1212.85 1641.7 L1213.19 1647.49 L1213.53 1653.29 L1213.88 1659.08 L1214.23 1664.88 L1214.6 1670.67 L1214.98 1676.45 L1215.37 1682.23 L1215.78 1688.01 L1216.2 1693.77 L1216.65 1699.53 L1217.11 1705.28 L1217.6 1711.02 L1218.12 1716.74 L1218.66 1722.46 L1219.23 1728.15 L1219.71 1733.91" fill="none" stroke="#3a0006" stroke-width="7.7" stroke-linejoin="round"/>
<path d="M234.75 1148.09 L235.46 1154.23 L238.73 1158.78 L242.67 1162.59 L247.14 1165.76 L252 1168.42 L257.11 1170.67 L262.37 1172.6 L267.74 1174.27 L273.22 1175.69 L278.79 1176.89 L284.44 1177.91 L290.16 1178.76 L295.94 1179.49 L301.77 1180.1 L307.64 1180.64 L313.53 1181.13 L319.45 1181.6 L325.36 1182.08 L331.27 1182.59 L337.17 1183.16 L343.03 1183.83 L348.86 1184.61 L354.64 1185.53 L360.35 1186.63 L366 1187.93 L371.59 1189.4 L377.11 1191.04 L382.59 1192.81 L388.02 1194.71 L393.42 1196.71 L398.79 1198.79 L404.14 1200.93 L409.48 1203.11 L414.81 1205.32 L420.13 1207.54 L425.47 1209.73 L430.82 1211.89 L436.19 1213.99 L441.59 1216.02 L447.02 1217.97 L452.47 1219.84 L457.95 1221.65 L463.46 1223.41 L468.98 1225.12 L474.51 1226.8 L480.05 1228.46 L485.6 1230.11 L491.15 1231.75 L496.71 1233.39 L502.26 1235.05 L507.81 1236.71 L513.35 1238.39 L518.9 1240.07 L524.45 1241.75 L529.99 1243.44 L535.54 1245.14 L541.08 1246.84 L546.62 1248.54 L552.17 1250.25 L557.71 1251.96 L563.25 1253.67 L568.8 1255.38 L574.34 1257.08 L579.88 1258.79 L585.43 1260.5 L590.97 1262.2 L596.52 1263.9 L602.07 1265.6 L607.62 1267.29 L613.17 1268.97 L618.72 1270.65 L624.27 1272.33 L629.82 1273.99 L635.38 1275.65 L640.94 1277.29 L646.5 1278.93 L652.06 1280.55 L657.62 1282.17 L663.19 1283.77 L668.76 1285.36 L674.33 1286.94 L679.91 1288.5 L685.49 1290.04 L691.07 1291.57 L696.66 1293.08 L702.24 1294.58 L707.84 1296.06 L713.43 1297.52 L719.03 1298.95 L724.64 1300.37 L730.25 1301.77 L735.86 1303.14 L741.48 1304.5 L747.1 1305.83 L752.72 1307.13 L758.36 1308.41 L763.99 1309.67 L769.63 1310.9 L775.28 1312.1 L780.93 1313.28 L786.59 1314.44 L792.25 1315.58 L797.91 1316.69 L803.58 1317.79 L809.25 1318.87 L814.93 1319.93 L820.6 1320.98 L826.29 1322.01 L831.97 1323.03 L837.66 1324.04 L843.35 1325.03 L849.04 1326.02 L854.74 1326.99 L860.44 1327.96 L866.14 1328.92 L871.84 1329.87 L877.54 1330.82 L883.24 1331.76 L888.95 1332.71 L894.66 1333.65 L900.36 1334.59 L906.07 1335.53 L911.78 1336.47 L917.49 1337.42 L923.2 1338.37 L928.91 1339.32 L934.61 1340.28 L940.32 1341.25 L946.03 1342.23 L951.74 1343.21 L957.44 1344.21 L963.15 1345.22 L968.85 1346.24 L974.55 1347.27 L980.25 1348.32 L985.95 1349.39 L991.65 1350.47 L997.34 1351.57 L1003.03 1352.69 L1008.72 1353.83 L1014.4 1354.99 L1020.09 1356.18 L1025.77 1357.39 L1031.44 1358.62 L1037.11 1359.88 L1042.78 1361.17 L1048.45 1362.48 L1054.11 1363.82 L1059.77 1365.2 L1065.42 1366.6 L1071.06 1368.04 L1076.71 1369.51 L1082.34 1371.02 L1087.98 1372.56 L1093.6 1374.14 L1099.22 1375.76 L1104.83 1377.43 L1110.41 1379.16 L1115.95 1380.98 L1121.44 1382.92 L1126.85 1384.98 L1132.17 1387.2 L1137.4 1389.59 L1142.51 1392.17 L1147.49 1394.97 L1152.33 1398 L1157 1401.29 L1161.5 1404.83 L1165.78 1408.61 L1169.84 1412.63 L1173.63 1416.87 L1177.15 1421.34 L1180.37 1426.01 L1183.32 1430.88 L1186 1435.92 L1188.43 1441.12 L1190.64 1446.46 L1192.65 1451.91 L1194.46 1457.48 L1196.1 1463.13 L1197.58 1468.85 L1198.93 1474.62 L1200.15 1480.43 L1201.28 1486.25 L1202.33 1492.07 L1203.3 1497.88 L1204.23 1503.65 L1205.1 1509.41 L1205.93 1515.14 L1206.71 1520.85 L1207.44 1526.56 L1208.13 1532.25 L1208.79 1537.93 L1209.41 1543.61 L1209.99 1549.29 L1210.55 1554.98 L1211.07 1560.67 L1211.57 1566.37 L1212.05 1572.09 L1212.5 1577.82 L1212.93 1583.56 L1213.34 1589.32 L1213.74 1595.08 L1214.12 1600.86 L1214.49 1606.64 L1214.86 1612.43 L1215.21 1618.23 L1215.56 1624.03 L1215.9 1629.84 L1216.24 1635.65 L1216.58 1641.46 L1216.92 1647.27 L1217.26 1653.08 L1217.61 1658.89 L1217.97 1664.7 L1218.34 1670.51 L1218.72 1676.31 L1219.12 1682.1 L1219.53 1687.89 L1219.95 1693.67 L1220.4 1699.44 L1220.87 1705.21 L1221.36 1710.96 L1221.88 1716.7 L1222.42 1722.43 L1223 1728.14 L1223.49 1733.91" fill="none" stroke="#5c0800" stroke-width="7.7" stroke-linejoin="round"/>
<path d="M234.75 1148.43 L235.45 1154.55 L238.7 1159.09 L242.62 1162.9 L247.07 1166.08 L251.91 1168.73 L257.01 1170.98 L262.25 1172.92 L267.6 1174.58 L273.06 1176 L278.61 1177.21 L284.24 1178.22 L289.95 1179.08 L295.72 1179.8 L301.53 1180.41 L307.38 1180.95 L313.27 1181.44 L319.16 1181.91 L325.06 1182.39 L330.96 1182.9 L336.84 1183.47 L342.69 1184.13 L348.5 1184.91 L354.26 1185.84 L359.96 1186.94 L365.59 1188.24 L371.16 1189.71 L376.67 1191.35 L382.13 1193.13 L387.55 1195.03 L392.93 1197.03 L398.28 1199.11 L403.61 1201.25 L408.93 1203.44 L414.24 1205.65 L419.55 1207.86 L424.87 1210.05 L430.2 1212.21 L435.55 1214.31 L440.94 1216.34 L446.35 1218.28 L451.79 1220.15 L457.26 1221.96 L462.74 1223.72 L468.25 1225.43 L473.76 1227.11 L479.29 1228.76 L484.82 1230.41 L490.36 1232.05 L495.9 1233.7 L501.43 1235.35 L506.96 1237.02 L512.5 1238.69 L518.03 1240.37 L523.56 1242.05 L529.09 1243.74 L534.61 1245.44 L540.14 1247.14 L545.67 1248.84 L551.2 1250.55 L556.72 1252.26 L562.25 1253.97 L567.78 1255.67 L573.3 1257.38 L578.83 1259.09 L584.36 1260.8 L589.89 1262.5 L595.42 1264.2 L600.95 1265.89 L606.48 1267.58 L612.01 1269.27 L617.55 1270.95 L623.09 1272.62 L628.62 1274.28 L634.16 1275.94 L639.7 1277.58 L645.25 1279.22 L650.8 1280.84 L656.34 1282.46 L661.89 1284.06 L667.45 1285.64 L673.01 1287.22 L678.56 1288.78 L684.13 1290.32 L689.69 1291.85 L695.26 1293.36 L700.84 1294.86 L706.41 1296.33 L711.99 1297.79 L717.58 1299.22 L723.16 1300.64 L728.76 1302.04 L734.35 1303.41 L739.96 1304.76 L745.56 1306.09 L751.17 1307.39 L756.79 1308.67 L762.41 1309.92 L768.03 1311.14 L773.67 1312.35 L779.3 1313.52 L784.94 1314.68 L790.58 1315.81 L796.23 1316.93 L801.89 1318.02 L807.54 1319.1 L813.2 1320.16 L818.86 1321.21 L824.53 1322.24 L830.2 1323.25 L835.87 1324.26 L841.55 1325.25 L847.23 1326.23 L852.91 1327.2 L858.59 1328.17 L864.27 1329.13 L869.96 1330.08 L875.64 1331.03 L881.33 1331.97 L887.02 1332.91 L892.71 1333.85 L898.4 1334.79 L904.1 1335.73 L909.79 1336.67 L915.48 1337.62 L921.18 1338.57 L926.87 1339.52 L932.56 1340.48 L938.25 1341.45 L943.94 1342.43 L949.63 1343.41 L955.32 1344.41 L961.01 1345.42 L966.7 1346.44 L972.39 1347.47 L978.07 1348.52 L983.75 1349.59 L989.43 1350.68 L995.11 1351.78 L1000.78 1352.9 L1006.46 1354.04 L1012.12 1355.21 L1017.79 1356.39 L1023.45 1357.6 L1029.11 1358.84 L1034.77 1360.1 L1040.42 1361.39 L1046.07 1362.71 L1051.71 1364.06 L1057.35 1365.44 L1062.99 1366.84 L1068.62 1368.29 L1074.25 1369.76 L1079.87 1371.27 L1085.48 1372.82 L1091.09 1374.41 L1096.7 1376.03 L1102.28 1377.7 L1107.84 1379.45 L1113.36 1381.29 L1118.82 1383.24 L1124.2 1385.32 L1129.5 1387.56 L1134.69 1389.98 L1139.77 1392.59 L1144.71 1395.42 L1149.5 1398.48 L1154.14 1401.8 L1158.58 1405.37 L1162.82 1409.19 L1166.82 1413.23 L1170.56 1417.51 L1174.02 1422 L1177.19 1426.69 L1180.08 1431.57 L1182.71 1436.63 L1185.1 1441.83 L1187.27 1447.17 L1189.24 1452.64 L1191.01 1458.2 L1192.62 1463.84 L1194.08 1469.56 L1195.4 1475.32 L1196.61 1481.11 L1197.72 1486.92 L1198.75 1492.73 L1199.71 1498.51 L1200.62 1504.27 L1201.48 1510.01 L1202.3 1515.73 L1203.07 1521.42 L1203.8 1527.11 L1204.48 1532.78 L1205.13 1538.45 L1205.74 1544.12 L1206.32 1549.79 L1206.87 1555.46 L1207.39 1561.13 L1207.88 1566.82 L1208.35 1572.52 L1208.8 1578.24 L1209.23 1583.97 L1209.64 1589.71 L1210.03 1595.46 L1210.41 1601.22 L1210.78 1606.99 L1211.14 1612.76 L1211.49 1618.54 L1211.83 1624.33 L1212.17 1630.12 L1212.51 1635.91 L1212.85 1641.71 L1213.19 1647.51 L1213.53 1653.3 L1213.88 1659.1 L1214.23 1664.89 L1214.6 1670.68 L1214.98 1676.46 L1215.37 1682.24 L1215.78 1688.02 L1216.2 1693.78 L1216.65 1699.54 L1217.11 1705.28 L1217.6 1711.02 L1218.12 1716.75 L1218.66 1722.46 L1219.23 1728.15 L1219.71 1733.91" fill="none" stroke="#961400" stroke-width="7.7" stroke-linejoin="round"/>
<path d="M234.75 1148.93 L235.42 1155.01 L238.64 1159.55 L242.52 1163.35 L246.92 1166.53 L251.71 1169.19 L256.76 1171.45 L261.95 1173.39 L267.26 1175.06 L272.68 1176.48 L278.19 1177.68 L283.79 1178.7 L289.45 1179.55 L295.18 1180.27 L300.96 1180.88 L306.78 1181.42 L312.63 1181.91 L318.49 1182.38 L324.36 1182.85 L330.22 1183.36 L336.06 1183.94 L341.87 1184.6 L347.65 1185.38 L353.37 1186.32 L359.03 1187.42 L364.62 1188.73 L370.15 1190.21 L375.62 1191.85 L381.04 1193.63 L386.41 1195.54 L391.75 1197.54 L397.06 1199.63 L402.35 1201.77 L407.63 1203.96 L412.9 1206.17 L418.17 1208.38 L423.44 1210.58 L428.74 1212.74 L434.05 1214.83 L439.39 1216.86 L444.77 1218.8 L450.17 1220.66 L455.6 1222.47 L461.05 1224.22 L466.52 1225.93 L471.99 1227.61 L477.48 1229.26 L482.98 1230.91 L488.48 1232.55 L493.97 1234.2 L499.47 1235.85 L504.96 1237.52 L510.46 1239.19 L515.95 1240.87 L521.44 1242.56 L526.93 1244.25 L532.42 1245.95 L537.91 1247.65 L543.39 1249.36 L548.88 1251.06 L554.37 1252.77 L559.86 1254.48 L565.35 1256.19 L570.84 1257.9 L576.32 1259.61 L581.81 1261.31 L587.3 1263.02 L592.79 1264.72 L598.29 1266.41 L603.78 1268.1 L609.27 1269.79 L614.77 1271.47 L620.27 1273.14 L625.77 1274.8 L631.27 1276.46 L636.77 1278.1 L642.28 1279.74 L647.79 1281.36 L653.3 1282.97 L658.81 1284.57 L664.32 1286.16 L669.84 1287.73 L675.36 1289.29 L680.89 1290.83 L686.41 1292.36 L691.95 1293.87 L697.48 1295.36 L703.02 1296.83 L708.56 1298.28 L714.11 1299.72 L719.66 1301.13 L725.21 1302.52 L730.77 1303.89 L736.34 1305.24 L741.91 1306.56 L747.48 1307.86 L753.06 1309.13 L758.64 1310.38 L764.23 1311.6 L769.82 1312.8 L775.42 1313.97 L781.02 1315.12 L786.63 1316.25 L792.24 1317.36 L797.86 1318.45 L803.48 1319.53 L809.1 1320.58 L814.73 1321.62 L820.36 1322.65 L825.99 1323.66 L831.62 1324.66 L837.26 1325.65 L842.9 1326.63 L848.54 1327.6 L854.19 1328.57 L859.84 1329.52 L865.48 1330.47 L871.13 1331.42 L876.79 1332.36 L882.44 1333.3 L888.09 1334.24 L893.75 1335.18 L899.4 1336.12 L905.06 1337.06 L910.71 1338.01 L916.37 1338.96 L922.02 1339.91 L927.68 1340.87 L933.33 1341.84 L938.99 1342.82 L944.64 1343.81 L950.29 1344.81 L955.94 1345.82 L961.59 1346.85 L967.24 1347.88 L972.88 1348.94 L978.53 1350.01 L984.17 1351.1 L989.81 1352.21 L995.44 1353.34 L1001.08 1354.48 L1006.71 1355.66 L1012.34 1356.85 L1017.96 1358.07 L1023.58 1359.31 L1029.2 1360.58 L1034.81 1361.88 L1040.42 1363.21 L1046.02 1364.57 L1051.62 1365.96 L1057.22 1367.38 L1062.81 1368.83 L1068.4 1370.32 L1073.98 1371.84 L1079.55 1373.4 L1085.12 1375 L1090.68 1376.64 L1096.23 1378.34 L1101.73 1380.11 L1107.19 1381.99 L1112.59 1383.98 L1117.9 1386.12 L1123.13 1388.41 L1128.24 1390.89 L1133.23 1393.57 L1138.08 1396.48 L1142.78 1399.63 L1147.3 1403.03 L1151.64 1406.68 L1155.75 1410.57 L1159.62 1414.68 L1163.23 1419.02 L1166.55 1423.56 L1169.59 1428.3 L1172.36 1433.22 L1174.88 1438.3 L1177.17 1443.52 L1179.24 1448.87 L1181.12 1454.34 L1182.82 1459.9 L1184.36 1465.53 L1185.75 1471.23 L1187.02 1476.97 L1188.17 1482.73 L1189.24 1488.5 L1190.23 1494.27 L1191.17 1500.02 L1192.05 1505.73 L1192.89 1511.43 L1193.68 1517.1 L1194.43 1522.76 L1195.14 1528.41 L1195.8 1534.05 L1196.43 1539.68 L1197.03 1545.31 L1197.6 1550.94 L1198.13 1556.58 L1198.64 1562.22 L1199.12 1567.87 L1199.58 1573.54 L1200.02 1579.23 L1200.44 1584.92 L1200.84 1590.62 L1201.22 1596.34 L1201.59 1602.06 L1201.96 1607.8 L1202.31 1613.54 L1202.65 1619.28 L1202.99 1625.03 L1203.32 1630.78 L1203.65 1636.54 L1203.99 1642.3 L1204.32 1648.06 L1204.66 1653.82 L1205 1659.58 L1205.35 1665.33 L1205.71 1671.08 L1206.09 1676.83 L1206.47 1682.57 L1206.87 1688.31 L1207.29 1694.04 L1207.73 1699.76 L1208.19 1705.47 L1208.67 1711.17 L1209.18 1716.85 L1209.72 1722.53 L1210.28 1728.19 L1210.76 1733.91" fill="none" stroke="#b23500" stroke-width="7.7" stroke-linejoin="round"/>
<rect x="460.8" y="1463.5" width="493.6" height="266" fill="#fff"/>
<rect x="707.6" y="1463.5" width="246.8" height="266" fill="#f3f4fa"/>
<path d="M515.64 1463.5 v8 M515.64 1729.5 v-8 M570.49 1463.5 v8 M570.49 1729.5 v-8 M625.33 1463.5 v8 M625.33 1729.5 v-8 M680.18 1463.5 v8 M680.18 1729.5 v-8 M735.02 1463.5 v8 M735.02 1729.5 v-8 M789.87 1463.5 v8 M789.87 1729.5 v-8 M844.71 1463.5 v8 M844.71 1729.5 v-8 M899.56 1463.5 v8 M899.56 1729.5 v-8" stroke="#000" stroke-width="3"/>
<path d="M460.8 1596.5 h8" stroke="#000033" stroke-width="3"/>
<path d="M954.4 1640.83 h-8 M954.4 1552.17 h-8" stroke="#1393ef" stroke-width="3"/>
<path d="M460.8 1463.5 H954.4 M460.8 1729.5 H954.4" stroke="#000" stroke-width="3.2"/>
<path d="M460.8 1461.9 V1731.1" stroke="#000033" stroke-width="3.2"/>
<path d="M954.4 1461.9 V1731.1" stroke="#1393ef" stroke-width="3.2"/>
<path d="M460.8 1653.89 L470.4 1666.99 L460.8 1680.09 L451.2 1666.99 Z M515.64 1667.86 L525.24 1680.95 L515.64 1694.05 L506.04 1680.95 Z M570.49 1675.17 L580.09 1688.27 L570.49 1701.37 L560.89 1688.27 Z M625.33 1684.48 L634.93 1697.58 L625.33 1710.68 L615.73 1697.58 Z M680.18 1692.46 L689.78 1705.56 L680.18 1718.66 L670.58 1705.56 Z M735.02 1577.28 L744.62 1590.38 L735.02 1603.48 L725.42 1590.38 Z M789.87 1598.03 L799.47 1611.13 L789.87 1624.23 L780.27 1611.13 Z M844.71 1587.39 L854.31 1600.49 L844.71 1613.59 L835.11 1600.49 Z M899.56 1598.03 L909.16 1611.13 L899.56 1624.23 L889.96 1611.13 Z M954.4 1623.3 L964 1636.4 L954.4 1649.5 L944.8 1636.4 Z" fill="none" stroke="#000033" stroke-width="7" stroke-miterlimit="10"/>
<path d="M452.9 1680.81 h15.8 v15.8 h-15.8 Z M507.74 1542.49 h15.8 v15.8 h-15.8 Z M562.59 1538.06 h15.8 v15.8 h-15.8 Z M617.43 1537.17 h15.8 v15.8 h-15.8 Z M672.28 1539.83 h15.8 v15.8 h-15.8 Z M727.12 1504.37 h15.8 v15.8 h-15.8 Z M781.97 1538.06 h15.8 v15.8 h-15.8 Z M836.81 1530.08 h15.8 v15.8 h-15.8 Z M891.66 1536.29 h15.8 v15.8 h-15.8 Z M946.5 1536.29 h15.8 v15.8 h-15.8 Z" fill="none" stroke="#1393ef" stroke-width="6.6" stroke-miterlimit="10"/>
<text transform="translate(446.8,1483) scale(1,1.045)" font-size="52" text-anchor="end" fill="#000033" font-weight="normal" >220</text>
<text transform="translate(446.8,1616) scale(1,1.045)" font-size="52" text-anchor="end" fill="#000033" font-weight="normal" >210</text>
<text transform="translate(446.8,1749) scale(1,1.045)" font-size="52" text-anchor="end" fill="#000033" font-weight="normal" >200</text>
<text transform="translate(965.9,1483.8) scale(1,1.045)" font-size="52" text-anchor="start" fill="#1393ef" font-weight="normal" >110</text>
<text transform="translate(965.9,1572.47) scale(1,1.045)" font-size="52" text-anchor="start" fill="#1393ef" font-weight="normal" >100</text>
<text transform="translate(965.9,1661.13) scale(1,1.045)" font-size="52" text-anchor="start" fill="#1393ef" font-weight="normal" >90</text>
<text transform="translate(965.9,1749.8) scale(1,1.045)" font-size="52" text-anchor="start" fill="#1393ef" font-weight="normal" >80</text>
<text transform="translate(461.8,1791) scale(1,1.045)" font-size="52" text-anchor="middle" fill="#000" font-weight="normal" >1</text>
<text transform="translate(516.64,1791) scale(1,1.045)" font-size="52" text-anchor="middle" fill="#000" font-weight="normal" >2</text>
<text transform="translate(571.49,1791) scale(1,1.045)" font-size="52" text-anchor="middle" fill="#000" font-weight="normal" >3</text>
<text transform="translate(626.33,1791) scale(1,1.045)" font-size="52" text-anchor="middle" fill="#000" font-weight="normal" >4</text>
<text transform="translate(681.18,1791) scale(1,1.045)" font-size="52" text-anchor="middle" fill="#000" font-weight="normal" >5</text>
<text transform="translate(736.02,1791) scale(1,1.045)" font-size="52" text-anchor="middle" fill="#000" font-weight="normal" >6</text>
<text transform="translate(790.87,1791) scale(1,1.045)" font-size="52" text-anchor="middle" fill="#000" font-weight="normal" >7</text>
<text transform="translate(845.71,1791) scale(1,1.045)" font-size="52" text-anchor="middle" fill="#000" font-weight="normal" >8</text>
<text transform="translate(900.56,1791) scale(1,1.045)" font-size="52" text-anchor="middle" fill="#000" font-weight="normal" >9</text>
<text transform="translate(954.4,1791) scale(1,1.045)" font-size="52" text-anchor="middle" fill="#000" font-weight="normal" >10</text>
<text transform="translate(708.6,1847.5) scale(1,1.045)" font-size="45" text-anchor="middle" fill="#000" font-weight="normal" >Cycle number</text>
<text transform="translate(567.49,1447.5) scale(1,1.045)" font-size="44" text-anchor="middle" fill="#000" font-weight="normal" >0.2</text>
<text transform="translate(717.8,1447.3) scale(1,1.045)" font-size="46" text-anchor="start" fill="#000" font-weight="normal" >0.1 mA cm<tspan dy="-19.3" font-size="37">-2</tspan></text>
<text transform="translate(344.7,1597.2) rotate(-90) scale(1,1.045)" font-size="46.8" text-anchor="middle" fill="#000033">Capacity (mAh g<tspan dy="-19.5" font-size="37.5">-1</tspan><tspan dy="19.5">)</tspan></text>
<text transform="translate(1108.9,1597.5) rotate(-90) scale(1,1.045)" font-size="46.4" text-anchor="middle" fill="#1393ef">CE (%)</text>
<path d="M234.75 1900.2 v-13.7 M234.75 1102.2 v13.7 M281.9 1900.2 v-13.7 M281.9 1102.2 v13.7 M329.05 1900.2 v-13.7 M329.05 1102.2 v13.7 M376.2 1900.2 v-13.7 M376.2 1102.2 v13.7 M423.35 1900.2 v-13.7 M423.35 1102.2 v13.7 M470.5 1900.2 v-13.7 M470.5 1102.2 v13.7 M517.65 1900.2 v-13.7 M517.65 1102.2 v13.7 M564.8 1900.2 v-13.7 M564.8 1102.2 v13.7 M611.95 1900.2 v-13.7 M611.95 1102.2 v13.7 M659.1 1900.2 v-13.7 M659.1 1102.2 v13.7 M706.25 1900.2 v-13.7 M706.25 1102.2 v13.7 M753.4 1900.2 v-13.7 M753.4 1102.2 v13.7 M800.55 1900.2 v-13.7 M800.55 1102.2 v13.7 M847.7 1900.2 v-13.7 M847.7 1102.2 v13.7 M894.85 1900.2 v-13.7 M894.85 1102.2 v13.7 M942 1900.2 v-13.7 M942 1102.2 v13.7 M989.15 1900.2 v-13.7 M989.15 1102.2 v13.7 M1036.3 1900.2 v-13.7 M1036.3 1102.2 v13.7 M1083.45 1900.2 v-13.7 M1083.45 1102.2 v13.7 M1130.6 1900.2 v-13.7 M1130.6 1102.2 v13.7 M1177.75 1900.2 v-13.7 M1177.75 1102.2 v13.7 M1224.9 1900.2 v-13.7 M1224.9 1102.2 v13.7 M1272.05 1900.2 v-13.7 M1272.05 1102.2 v13.7 M1319.2 1900.2 v-13.7 M1319.2 1102.2 v13.7 M1366.35 1900.2 v-13.7 M1366.35 1102.2 v13.7 M1413.5 1900.2 v-13.7 M1413.5 1102.2 v13.7 M211.18 1102.2 h13.7 M1413.5 1102.2 h-13.7 M211.18 1168.7 h13.7 M1413.5 1168.7 h-13.7 M211.18 1235.2 h13.7 M1413.5 1235.2 h-13.7 M211.18 1301.7 h13.7 M1413.5 1301.7 h-13.7 M211.18 1368.2 h13.7 M1413.5 1368.2 h-13.7 M211.18 1434.7 h13.7 M1413.5 1434.7 h-13.7 M211.18 1501.2 h13.7 M1413.5 1501.2 h-13.7 M211.18 1567.7 h13.7 M1413.5 1567.7 h-13.7 M211.18 1634.2 h13.7 M1413.5 1634.2 h-13.7 M211.18 1700.7 h13.7 M1413.5 1700.7 h-13.7 M211.18 1767.2 h13.7 M1413.5 1767.2 h-13.7 M211.18 1833.7 h13.7 M1413.5 1833.7 h-13.7 M211.18 1900.2 h13.7 M1413.5 1900.2 h-13.7" stroke="#000" stroke-width="4" fill="none"/>
<rect x="211.18" y="1102.2" width="1202.33" height="798" fill="none" stroke="#000" stroke-width="4"/>
<text transform="translate(191.18,1123.2) scale(1,1.045)" font-size="59" text-anchor="end" fill="#000" font-weight="normal" >4.4</text>
<text transform="translate(191.18,1256.2) scale(1,1.045)" font-size="59" text-anchor="end" fill="#000" font-weight="normal" >4</text>
<text transform="translate(191.18,1389.2) scale(1,1.045)" font-size="59" text-anchor="end" fill="#000" font-weight="normal" >3.6</text>
<text transform="translate(191.18,1522.2) scale(1,1.045)" font-size="59" text-anchor="end" fill="#000" font-weight="normal" >3.2</text>
<text transform="translate(191.18,1655.2) scale(1,1.045)" font-size="59" text-anchor="end" fill="#000" font-weight="normal" >2.8</text>
<text transform="translate(191.18,1788.2) scale(1,1.045)" font-size="59" text-anchor="end" fill="#000" font-weight="normal" >2.4</text>
<text transform="translate(191.18,1921.2) scale(1,1.045)" font-size="59" text-anchor="end" fill="#000" font-weight="normal" >2</text>
<text transform="translate(233.25,1974.2) scale(1,1.045)" font-size="59" text-anchor="middle" fill="#000" font-weight="normal" >0</text>
<text transform="translate(469,1974.2) scale(1,1.045)" font-size="59" text-anchor="middle" fill="#000" font-weight="normal" >50</text>
<text transform="translate(704.75,1974.2) scale(1,1.045)" font-size="59" text-anchor="middle" fill="#000" font-weight="normal" >100</text>
<text transform="translate(940.5,1974.2) scale(1,1.045)" font-size="59" text-anchor="middle" fill="#000" font-weight="normal" >150</text>
<text transform="translate(1176.25,1974.2) scale(1,1.045)" font-size="59" text-anchor="middle" fill="#000" font-weight="normal" >200</text>
<text transform="translate(1412,1974.2) scale(1,1.045)" font-size="59" text-anchor="middle" fill="#000" font-weight="normal" >250</text>
<text transform="translate(536.9,2072.6) scale(1,1.045)" font-size="64.6" text-anchor="start" fill="#000" font-weight="normal" letter-spacing="0.12">Capacity (mAh g</text>
<text transform="translate(1017.7,2041.3) scale(1,1.045)" font-size="52.2" text-anchor="start" fill="#000" font-weight="normal" >-1</text>
<text transform="translate(1068.5,2072.6) scale(1,1.045)" font-size="64.6" text-anchor="start" fill="#000" font-weight="normal" >)</text>
<text transform="translate(83.58,1799.6) rotate(-90) scale(1,1.045)" font-size="65">Voltage (V vs. Li/Li<tspan dy="-30.5" dx="2.5" font-size="52">+</tspan><tspan dy="30.5" dx="2.5">)</tspan></text>
<text transform="translate(2.5,2180) scale(0.79,1)" font-size="60" font-weight="bold">c</text>
<g>
<clipPath id="cclip"><rect x="216.3" y="2179" width="1043" height="818"/></clipPath>
<g clip-path="url(#cclip)">
<path d="M233.67 2304.79 L249.67 2326.24 L233.67 2347.69 L217.67 2326.24 Z M251.04 2312.32 L267.04 2333.77 L251.04 2355.22 L235.04 2333.77 Z M268.41 2486.39 L284.41 2507.84 L268.41 2529.29 L252.41 2507.84 Z M285.78 2485.08 L301.78 2506.53 L285.78 2527.98 L269.78 2506.53 Z M303.15 2713.14 L319.15 2734.59 L303.15 2756.04 L287.15 2734.59 Z M320.52 2702.99 L336.52 2724.44 L320.52 2745.89 L304.52 2724.44 Z M337.89 2890.48 L353.89 2911.93 L337.89 2933.38 L321.89 2911.93 Z M355.26 2883.93 L371.26 2905.38 L355.26 2926.83 L339.26 2905.38 Z M372.63 2489.99 L388.63 2511.44 L372.63 2532.89 L356.63 2511.44 Z M390 2491.95 L406 2513.4 L390 2534.85 L374 2513.4 Z M407.37 2494.89 L423.37 2516.34 L407.37 2537.79 L391.37 2516.34 Z M424.74 2495 L440.74 2516.45 L424.74 2537.9 L408.74 2516.45 Z M442.11 2495.11 L458.11 2516.56 L442.11 2538.01 L426.11 2516.56 Z M459.48 2495.22 L475.48 2516.67 L459.48 2538.12 L443.48 2516.67 Z M476.85 2495.33 L492.85 2516.78 L476.85 2538.23 L460.85 2516.78 Z M494.22 2495.44 L510.22 2516.89 L494.22 2538.34 L478.22 2516.89 Z M511.59 2495.55 L527.59 2517 L511.59 2538.45 L495.59 2517 Z M528.96 2495.66 L544.96 2517.11 L528.96 2538.56 L512.96 2517.11 Z M546.33 2495.77 L562.33 2517.22 L546.33 2538.67 L530.33 2517.22 Z M563.7 2495.87 L579.7 2517.32 L563.7 2538.77 L547.7 2517.32 Z M581.07 2496.09 L597.07 2517.54 L581.07 2538.99 L565.07 2517.54 Z M598.44 2496.31 L614.44 2517.76 L598.44 2539.21 L582.44 2517.76 Z M615.81 2496.53 L631.81 2517.98 L615.81 2539.43 L599.81 2517.98 Z M633.18 2496.75 L649.18 2518.2 L633.18 2539.65 L617.18 2518.2 Z M650.55 2496.97 L666.55 2518.42 L650.55 2539.87 L634.55 2518.42 Z M667.92 2497.18 L683.92 2518.63 L667.92 2540.08 L651.92 2518.63 Z M685.29 2496.86 L701.29 2518.31 L685.29 2539.76 L669.29 2518.31 Z M702.66 2496.53 L718.66 2517.98 L702.66 2539.43 L686.66 2517.98 Z M720.03 2496.2 L736.03 2517.65 L720.03 2539.1 L704.03 2517.65 Z M737.4 2495.87 L753.4 2517.32 L737.4 2538.77 L721.4 2517.32 Z M754.77 2495.55 L770.77 2517 L754.77 2538.45 L738.77 2517 Z M772.14 2495.22 L788.14 2516.67 L772.14 2538.12 L756.14 2516.67 Z M789.51 2494.89 L805.51 2516.34 L789.51 2537.79 L773.51 2516.34 Z M806.88 2498.82 L822.88 2520.27 L806.88 2541.72 L790.88 2520.27 Z M824.25 2499.27 L840.25 2520.72 L824.25 2542.17 L808.25 2520.72 Z M841.62 2499.72 L857.62 2521.17 L841.62 2542.62 L825.62 2521.17 Z M858.99 2500.17 L874.99 2521.62 L858.99 2543.07 L842.99 2521.62 Z M876.36 2500.62 L892.36 2522.07 L876.36 2543.52 L860.36 2522.07 Z M893.73 2501.07 L909.73 2522.52 L893.73 2543.97 L877.73 2522.52 Z M911.1 2501.52 L927.1 2522.97 L911.1 2544.42 L895.1 2522.97 Z M928.47 2501.97 L944.47 2523.42 L928.47 2544.87 L912.47 2523.42 Z M945.84 2502.42 L961.84 2523.87 L945.84 2545.32 L929.84 2523.87 Z M963.21 2502.94 L979.21 2524.39 L963.21 2545.84 L947.21 2524.39 Z M980.58 2503.47 L996.58 2524.92 L980.58 2546.37 L964.58 2524.92 Z M997.95 2503.99 L1013.95 2525.44 L997.95 2546.89 L981.95 2525.44 Z M1015.32 2504.51 L1031.32 2525.96 L1015.32 2547.41 L999.32 2525.96 Z M1032.69 2505.04 L1048.69 2526.49 L1032.69 2547.94 L1016.69 2526.49 Z M1050.06 2505.56 L1066.06 2527.01 L1050.06 2548.46 L1034.06 2527.01 Z M1067.43 2506.08 L1083.43 2527.53 L1067.43 2548.98 L1051.43 2527.53 Z M1084.8 2506.61 L1100.8 2528.06 L1084.8 2549.51 L1068.8 2528.06 Z M1102.17 2507.13 L1118.17 2528.58 L1102.17 2550.03 L1086.17 2528.58 Z M1119.54 2507.65 L1135.54 2529.1 L1119.54 2550.55 L1103.54 2529.1 Z M1136.91 2507.65 L1152.91 2529.1 L1136.91 2550.55 L1120.91 2529.1 Z M1154.28 2507.65 L1170.28 2529.1 L1154.28 2550.55 L1138.28 2529.1 Z M1171.65 2507.65 L1187.65 2529.1 L1171.65 2550.55 L1155.65 2529.1 Z M1189.02 2507.65 L1205.02 2529.1 L1189.02 2550.55 L1173.02 2529.1 Z M1206.39 2507.65 L1222.39 2529.1 L1206.39 2550.55 L1190.39 2529.1 Z M1223.76 2507.65 L1239.76 2529.1 L1223.76 2550.55 L1207.76 2529.1 Z" fill="none" stroke="#000033" stroke-width="7.05" stroke-miterlimit="10"/>
<path d="M222.05 2814.41 h23.25 v23.25 h-23.25 Z M239.42 2537.11 h23.25 v23.25 h-23.25 Z M256.79 2658.99 h23.25 v23.25 h-23.25 Z M274.16 2558.38 h23.25 v23.25 h-23.25 Z M291.53 2792.33 h23.25 v23.25 h-23.25 Z M308.89 2596.01 h23.25 v23.25 h-23.25 Z M326.26 2923.21 h23.25 v23.25 h-23.25 Z M343.63 2587.83 h23.25 v23.25 h-23.25 Z M361 2298.26 h23.25 v23.25 h-23.25 Z M378.38 2567.21 h23.25 v23.25 h-23.25 Z M395.75 2566.56 h23.25 v23.25 h-23.25 Z M413.12 2559.2 h23.25 v23.25 h-23.25 Z M430.49 2564.11 h23.25 v23.25 h-23.25 Z M447.86 2558.38 h23.25 v23.25 h-23.25 Z M465.23 2558.38 h23.25 v23.25 h-23.25 Z M482.6 2560.01 h23.25 v23.25 h-23.25 Z M499.97 2557.07 h23.25 v23.25 h-23.25 Z M517.34 2559.2 h23.25 v23.25 h-23.25 Z M534.71 2561.65 h23.25 v23.25 h-23.25 Z M552.08 2565.74 h23.25 v23.25 h-23.25 Z M569.45 2562.47 h23.25 v23.25 h-23.25 Z M586.82 2560.01 h23.25 v23.25 h-23.25 Z M604.19 2558.38 h23.25 v23.25 h-23.25 Z M621.56 2555.11 h23.25 v23.25 h-23.25 Z M638.92 2566.89 h23.25 v23.25 h-23.25 Z M656.3 2566.89 h23.25 v23.25 h-23.25 Z M673.66 2556.42 h23.25 v23.25 h-23.25 Z M691.04 2566.89 h23.25 v23.25 h-23.25 Z M708.4 2562.14 h23.25 v23.25 h-23.25 Z M725.78 2570.65 h23.25 v23.25 h-23.25 Z M743.14 2570.32 h23.25 v23.25 h-23.25 Z M760.52 2555.93 h23.25 v23.25 h-23.25 Z M777.88 2557.72 h23.25 v23.25 h-23.25 Z M795.26 2570.81 h23.25 v23.25 h-23.25 Z M812.62 2572.61 h23.25 v23.25 h-23.25 Z M830 2564.76 h23.25 v23.25 h-23.25 Z M847.37 2561 h23.25 v23.25 h-23.25 Z M864.74 2560.01 h23.25 v23.25 h-23.25 Z M882.11 2553.14 h23.25 v23.25 h-23.25 Z M899.48 2563.45 h23.25 v23.25 h-23.25 Z M916.85 2569.5 h23.25 v23.25 h-23.25 Z M934.22 2563.29 h23.25 v23.25 h-23.25 Z M951.59 2563.94 h23.25 v23.25 h-23.25 Z M968.96 2568.2 h23.25 v23.25 h-23.25 Z M986.33 2567.21 h23.25 v23.25 h-23.25 Z M1003.7 2560.83 h23.25 v23.25 h-23.25 Z M1021.07 2561.65 h23.25 v23.25 h-23.25 Z M1038.43 2558.38 h23.25 v23.25 h-23.25 Z M1055.81 2565.9 h23.25 v23.25 h-23.25 Z M1073.17 2560.51 h23.25 v23.25 h-23.25 Z M1090.55 2560.51 h23.25 v23.25 h-23.25 Z M1107.91 2561.16 h23.25 v23.25 h-23.25 Z M1125.29 2562.31 h23.25 v23.25 h-23.25 Z M1142.65 2568.2 h23.25 v23.25 h-23.25 Z M1160.03 2560.67 h23.25 v23.25 h-23.25 Z M1177.39 2560.67 h23.25 v23.25 h-23.25 Z M1194.77 2561.65 h23.25 v23.25 h-23.25 Z M1212.13 2563.78 h23.25 v23.25 h-23.25 Z" fill="none" stroke="#1393ef" stroke-width="6.85" stroke-miterlimit="10"/>
</g></g>
<path d="M303.15 2997 v-11.5 M303.15 2179 v11.5 M390 2997 v-11.5 M390 2179 v11.5 M476.85 2997 v-11.5 M476.85 2179 v11.5 M563.7 2997 v-11.5 M563.7 2179 v11.5 M650.55 2997 v-11.5 M650.55 2179 v11.5 M737.4 2997 v-11.5 M737.4 2179 v11.5 M824.25 2997 v-11.5 M824.25 2179 v11.5 M911.1 2997 v-11.5 M911.1 2179 v11.5 M997.95 2997 v-11.5 M997.95 2179 v11.5 M1084.8 2997 v-11.5 M1084.8 2179 v11.5 M1171.65 2997 v-11.5 M1171.65 2179 v11.5" stroke="#000" stroke-width="3.5"/>
<path d="M216.3 2833.4 h12.5 M216.3 2669.8 h12.5 M216.3 2506.2 h12.5 M216.3 2342.6 h12.5" stroke="#000033" stroke-width="3.5"/>
<path d="M1258.5 2915.2 h-12.5 M1258.5 2751.6 h-12.5 M1258.5 2588 h-12.5 M1258.5 2424.4 h-12.5 M1258.5 2260.8 h-12.5" stroke="#1393ef" stroke-width="3.5"/>
<path d="M216.3 2179 H1258.5 M216.3 2997 H1258.5" stroke="#000" stroke-width="3.8"/>
<path d="M216.3 2179 H228.6 M216.3 2997 H228.6" stroke="#000033" stroke-width="3.8"/>
<path d="M216.3 2177.1 V2998.9" stroke="#000033" stroke-width="3.8"/>
<path d="M1258.5 2177.1 V2998.9" stroke="#1393ef" stroke-width="3.8"/>
<text transform="translate(194.3,3018) scale(1,1.045)" font-size="59" text-anchor="end" fill="#000033" font-weight="normal" >0</text>
<text transform="translate(194.3,2854.4) scale(1,1.045)" font-size="59" text-anchor="end" fill="#000033" font-weight="normal" >50</text>
<text transform="translate(194.3,2690.8) scale(1,1.045)" font-size="59" text-anchor="end" fill="#000033" font-weight="normal" >100</text>
<text transform="translate(194.3,2527.2) scale(1,1.045)" font-size="59" text-anchor="end" fill="#000033" font-weight="normal" >150</text>
<text transform="translate(194.3,2363.6) scale(1,1.045)" font-size="59" text-anchor="end" fill="#000033" font-weight="normal" >200</text>
<text transform="translate(194.3,2200) scale(1,1.045)" font-size="59" text-anchor="end" fill="#000033" font-weight="normal" >250</text>
<text transform="translate(1276.5,2936.2) scale(1,1.045)" font-size="59" text-anchor="start" fill="#1393ef" font-weight="normal" >80</text>
<text transform="translate(1276.5,2772.6) scale(1,1.045)" font-size="59" text-anchor="start" fill="#1393ef" font-weight="normal" >90</text>
<text transform="translate(1276.5,2609) scale(1,1.045)" font-size="59" text-anchor="start" fill="#1393ef" font-weight="normal" >100</text>
<text transform="translate(1276.5,2445.4) scale(1,1.045)" font-size="59" text-anchor="start" fill="#1393ef" font-weight="normal" >110</text>
<text transform="translate(1276.5,2281.8) scale(1,1.045)" font-size="59" text-anchor="start" fill="#1393ef" font-weight="normal" >120</text>
<text transform="translate(215,3070) scale(1,1.045)" font-size="59" text-anchor="middle" fill="#000" font-weight="normal" >0</text>
<text transform="translate(388.7,3070) scale(1,1.045)" font-size="59" text-anchor="middle" fill="#000" font-weight="normal" >10</text>
<text transform="translate(562.4,3070) scale(1,1.045)" font-size="59" text-anchor="middle" fill="#000" font-weight="normal" >20</text>
<text transform="translate(736.1,3070) scale(1,1.045)" font-size="59" text-anchor="middle" fill="#000" font-weight="normal" >30</text>
<text transform="translate(909.8,3070) scale(1,1.045)" font-size="59" text-anchor="middle" fill="#000" font-weight="normal" >40</text>
<text transform="translate(1083.5,3070) scale(1,1.045)" font-size="59" text-anchor="middle" fill="#000" font-weight="normal" >50</text>
<text transform="translate(1257.2,3070) scale(1,1.045)" font-size="59" text-anchor="middle" fill="#000" font-weight="normal" >60</text>
<text transform="translate(739.45,3148) scale(1,1.045)" font-size="64.6" text-anchor="middle" fill="#000" font-weight="normal" letter-spacing="0.4">Cycle number</text>
<text transform="translate(69.2,2585.4) rotate(-90) scale(1,1.045)" font-size="64.5" text-anchor="middle" fill="#000033">Capacity (mAh g<tspan dy="-30.5" font-size="52">-1</tspan><tspan dy="30.5">)</tspan></text>
<text transform="translate(1447.5,2589) rotate(-90) scale(1,1.045)" font-size="58.9" text-anchor="middle" fill="#1393ef">CE (%)</text>
<text transform="translate(228.8,2281) scale(1,1.045)" font-size="47" text-anchor="start" fill="#000" font-weight="normal" >0.2</text>
<text transform="translate(255,2466) scale(1,1.045)" font-size="47" text-anchor="start" fill="#000" font-weight="normal" >0.5</text>
<text transform="translate(292,2682) scale(1,1.045)" font-size="47" text-anchor="start" fill="#000" font-weight="normal" >1.0</text>
<text transform="translate(322,2864) scale(1,1.045)" font-size="47" text-anchor="start" fill="#000" font-weight="normal" >2.0</text>
<text transform="translate(674,2465.4) scale(1,1.045)" font-size="47" text-anchor="start" fill="#000" font-weight="normal" letter-spacing="-0.9" word-spacing="-1">0.5 mA cm<tspan dy="-18.4" dx="1" font-size="30">-2</tspan></text>
<g id="feet"><polygon points="382.89,423.34 392.64,423.34 392.64,428.94 382.89,428.94" fill="#fff"/><polygon points="397.21,423.34 406.56,423.34 406.56,428.94 397.21,428.94" fill="#fff"/><polygon points="353.99,687.84 363.74,687.84 363.74,693.44 353.99,693.44" fill="#fff"/><polygon points="368.30,687.84 377.65,687.84 377.65,693.44 368.30,693.44" fill="#fff"/><polygon points="959.73,424.14 969.48,424.14 969.48,429.74 959.73,429.74" fill="#fff"/><polygon points="974.05,424.14 983.40,424.14 983.40,429.74 974.05,429.74" fill="#fff"/><polygon points="984.77,424.14 994.52,424.14 994.52,429.74 984.77,429.74" fill="#fff"/><polygon points="999.09,424.14 1008.44,424.14 1008.44,429.74 999.09,429.74" fill="#fff"/><polygon points="959.73,512.31 969.48,512.31 969.48,517.91 959.73,517.91" fill="#fff"/><polygon points="974.05,512.31 983.40,512.31 983.40,517.91 974.05,517.91" fill="#fff"/><polygon points="441.27,729.84 451.02,729.84 451.02,735.44 441.27,735.44" fill="#fff"/><polygon points="455.59,729.84 464.94,729.84 464.94,735.44 455.59,735.44" fill="#fff"/><polygon points="919.31,729.84 929.06,729.84 929.06,735.44 919.31,735.44" fill="#fff"/><polygon points="933.63,729.84 942.98,729.84 942.98,735.44 933.63,735.44" fill="#fff"/><polygon points="749.68,388.05 758.51,388.05 758.51,393.24 749.68,393.24" fill="#fff"/><polygon points="762.61,388.05 771.08,388.05 771.08,393.24 762.61,393.24" fill="#fff"/><polygon points="311.46,378.32 311.46,371.02 315.96,371.02 315.96,378.32" fill="#fff"/><polygon points="311.46,367.70 311.46,360.69 315.96,360.69 315.96,367.70" fill="#fff"/><polygon points="653.02,901.57 664.16,901.57 664.16,907.78 653.02,907.78" fill="#fff"/><polygon points="669.42,901.57 680.08,901.57 680.08,907.78 669.42,907.78" fill="#fff"/><polygon points="888.97,901.57 900.11,901.57 900.11,907.78 888.97,907.78" fill="#fff"/><polygon points="905.37,901.57 916.03,901.57 916.03,907.78 905.37,907.78" fill="#fff"/><polygon points="1031.30,969.04 1041.06,969.04 1041.06,974.64 1031.30,974.64" fill="#fff"/><polygon points="1045.62,969.04 1054.97,969.04 1054.97,974.64 1045.62,974.64" fill="#fff"/><polygon points="392.19,1611.34 401.94,1611.34 401.94,1616.94 392.19,1616.94" fill="#fff"/><polygon points="406.51,1611.34 415.86,1611.34 415.86,1616.94 406.51,1616.94" fill="#fff"/><polygon points="969.13,1479.14 978.88,1479.14 978.88,1484.74 969.13,1484.74" fill="#fff"/><polygon points="983.45,1479.14 992.80,1479.14 992.80,1484.74 983.45,1484.74" fill="#fff"/><polygon points="994.17,1479.14 1003.92,1479.14 1003.92,1484.74 994.17,1484.74" fill="#fff"/><polygon points="1008.49,1479.14 1017.84,1479.14 1017.84,1484.74 1008.49,1484.74" fill="#fff"/><polygon points="969.13,1567.81 978.88,1567.81 978.88,1573.41 969.13,1573.41" fill="#fff"/><polygon points="983.45,1567.81 992.80,1567.81 992.80,1573.41 983.45,1573.41" fill="#fff"/><polygon points="450.57,1786.34 460.32,1786.34 460.32,1791.94 450.57,1791.94" fill="#fff"/><polygon points="464.89,1786.34 474.24,1786.34 474.24,1791.94 464.89,1791.94" fill="#fff"/><polygon points="928.71,1786.34 938.46,1786.34 938.46,1791.94 928.71,1791.94" fill="#fff"/><polygon points="943.03,1786.34 952.38,1786.34 952.38,1791.94 943.03,1791.94" fill="#fff"/><polygon points="758.98,1443.05 767.81,1443.05 767.81,1448.24 758.98,1448.24" fill="#fff"/><polygon points="771.91,1443.05 780.38,1443.05 780.38,1448.24 771.91,1448.24" fill="#fff"/><polygon points="320.76,1434.07 320.76,1426.77 325.26,1426.77 325.26,1434.07" fill="#fff"/><polygon points="320.76,1423.45 320.76,1416.44 325.26,1416.44 325.26,1423.45" fill="#fff"/><polygon points="659.37,1968.93 670.51,1968.93 670.51,1975.14 659.37,1975.14" fill="#fff"/><polygon points="675.77,1968.93 686.43,1968.93 686.43,1975.14 675.77,1975.14" fill="#fff"/><polygon points="895.12,1968.93 906.26,1968.93 906.26,1975.14 895.12,1975.14" fill="#fff"/><polygon points="911.52,1968.93 922.18,1968.93 922.18,1975.14 911.52,1975.14" fill="#fff"/><polygon points="1038.30,2036.64 1048.06,2036.64 1048.06,2042.24 1038.30,2042.24" fill="#fff"/><polygon points="1052.62,2036.64 1061.97,2036.64 1061.97,2042.24 1052.62,2042.24" fill="#fff"/><polygon points="99.72,2685.53 110.85,2685.53 110.85,2691.74 99.72,2691.74" fill="#fff"/><polygon points="116.11,2685.53 126.77,2685.53 126.77,2691.74 116.11,2691.74" fill="#fff"/><polygon points="99.72,2521.93 110.85,2521.93 110.85,2528.14 99.72,2528.14" fill="#fff"/><polygon points="116.11,2521.93 126.77,2521.93 126.77,2528.14 116.11,2528.14" fill="#fff"/><polygon points="1280.33,2603.73 1291.47,2603.73 1291.47,2609.94 1280.33,2609.94" fill="#fff"/><polygon points="1296.73,2603.73 1307.39,2603.73 1307.39,2609.94 1296.73,2609.94" fill="#fff"/><polygon points="1280.33,2440.13 1291.47,2440.13 1291.47,2446.34 1280.33,2446.34" fill="#fff"/><polygon points="1296.73,2440.13 1307.39,2440.13 1307.39,2446.34 1296.73,2446.34" fill="#fff"/><polygon points="1308.75,2440.13 1319.88,2440.13 1319.88,2446.34 1308.75,2446.34" fill="#fff"/><polygon points="1325.14,2440.13 1335.81,2440.13 1335.81,2446.34 1325.14,2446.34" fill="#fff"/><polygon points="1280.33,2276.53 1291.47,2276.53 1291.47,2282.74 1280.33,2282.74" fill="#fff"/><polygon points="1296.73,2276.53 1307.39,2276.53 1307.39,2282.74 1296.73,2282.74" fill="#fff"/><polygon points="359.72,3064.73 370.86,3064.73 370.86,3070.94 359.72,3070.94" fill="#fff"/><polygon points="376.12,3064.73 386.78,3064.73 386.78,3070.94 376.12,3070.94" fill="#fff"/><polygon points="32.67,2360.38 32.67,2350.63 38.27,2350.63 38.27,2360.38" fill="#fff"/><polygon points="32.67,2346.07 32.67,2336.72 38.27,2336.72 38.27,2346.07" fill="#fff"/><polygon points="294.90,2677.68 303.88,2677.68 303.88,2682.94 294.90,2682.94" fill="#fff"/><polygon points="308.06,2677.68 316.68,2677.68 316.68,2682.94 308.06,2682.94" fill="#fff"/></g>
</svg>
</body></html>
